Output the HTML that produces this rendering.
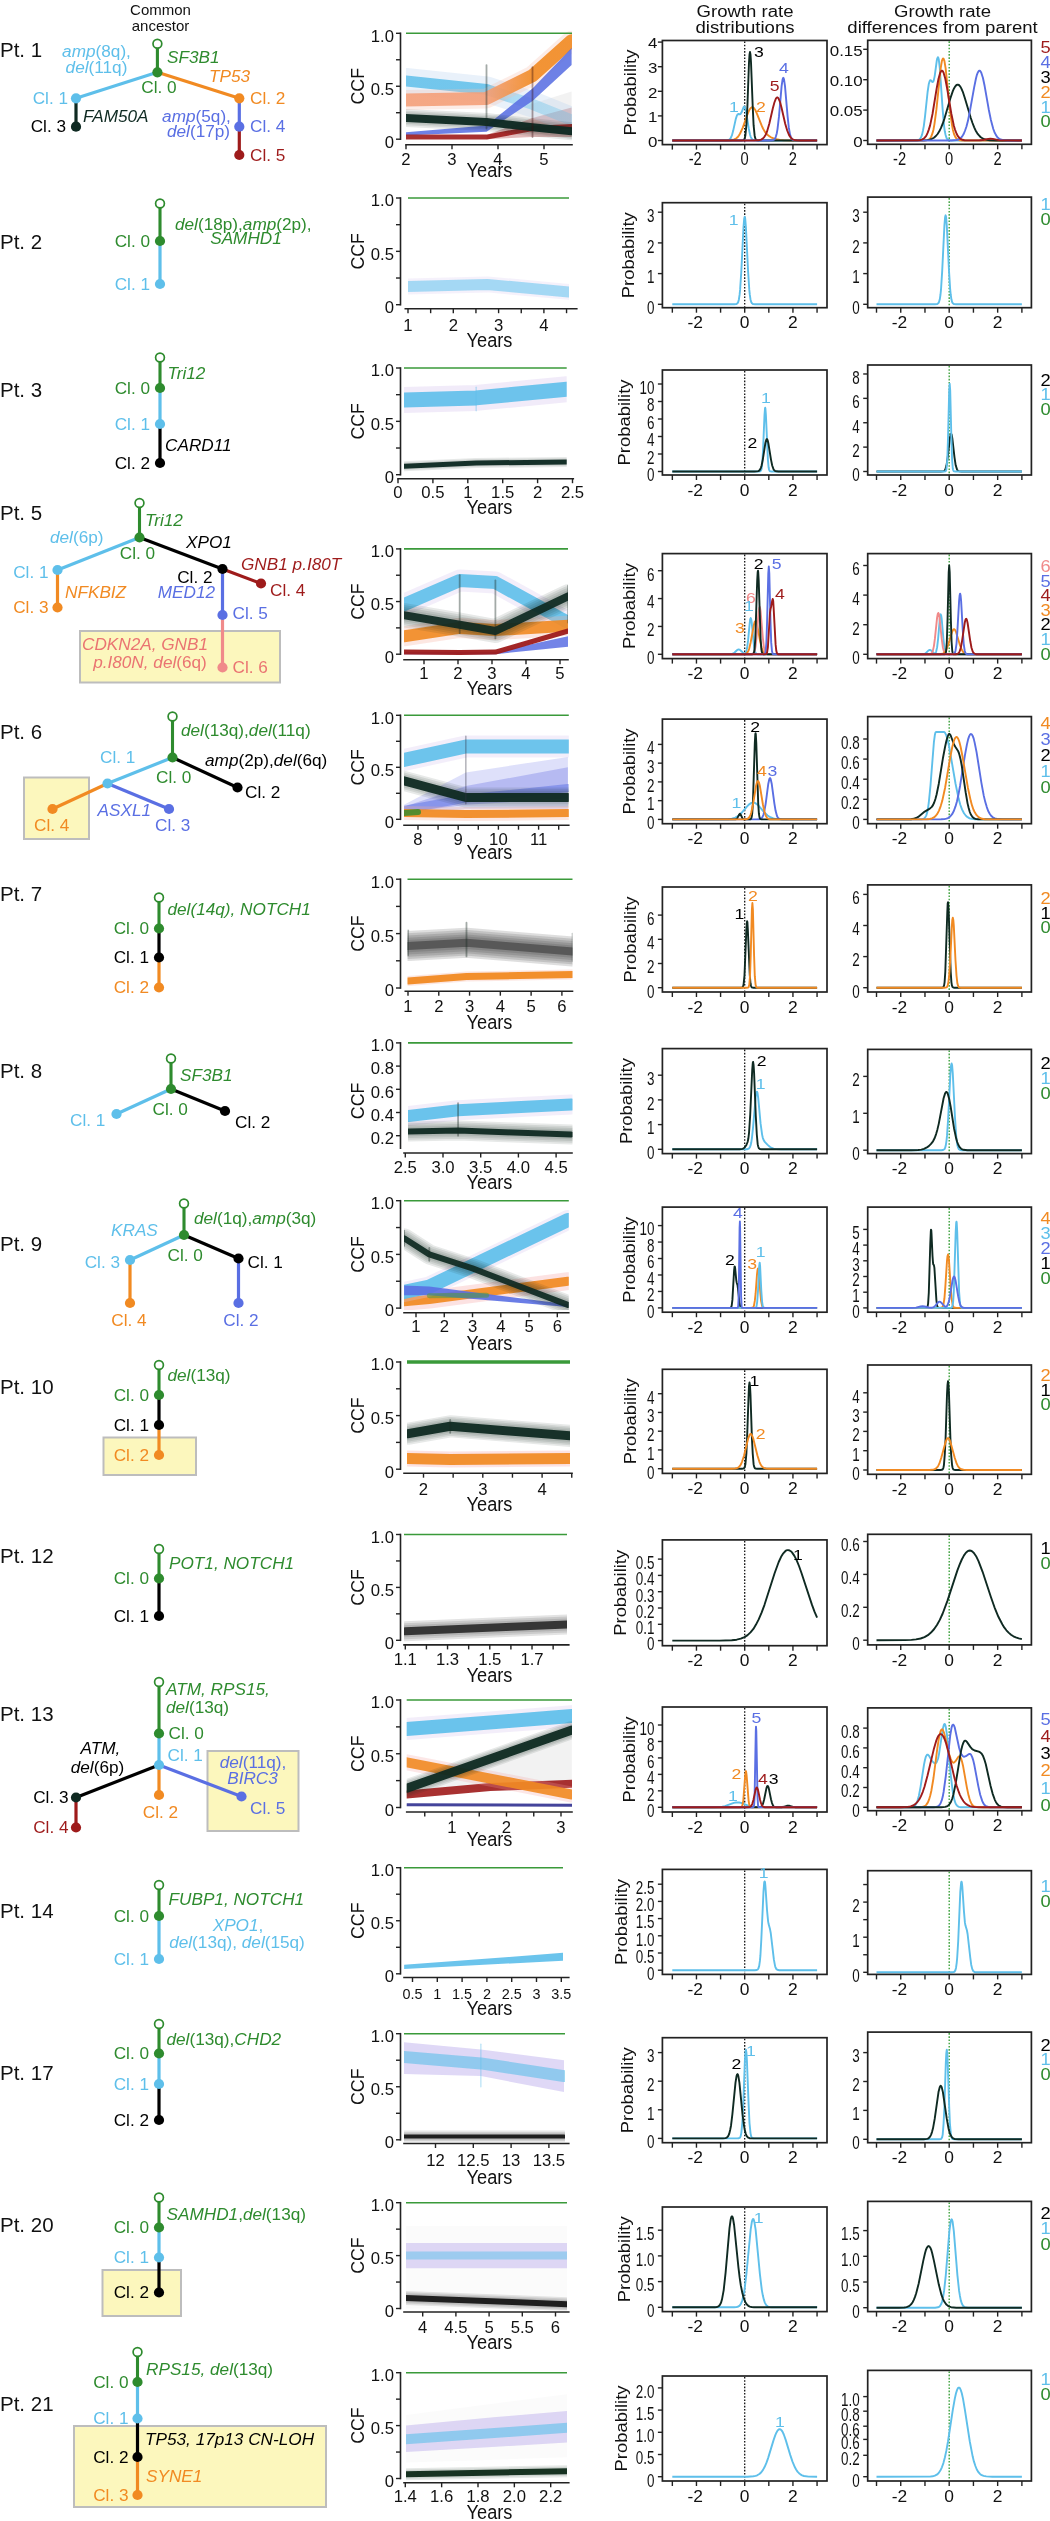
<!DOCTYPE html>
<html><head><meta charset="utf-8"><style>
html,body{margin:0;padding:0;background:#fff;}
svg{display:block;font-family:"Liberation Sans", sans-serif;filter:blur(0.4px);}
</style></head><body>
<svg width="1050" height="2521" viewBox="0 0 1050 2521">
<rect width="1050" height="2521" fill="#fff"/>
<text transform="translate(160.50,15.00) " font-size="15.00" fill="#111" text-anchor="middle">Common</text>
<text transform="translate(160.50,30.50) " font-size="15.00" fill="#111" text-anchor="middle">ancestor</text>
<text transform="translate(745.00,16.50) scale(1.160,1.000)" font-size="16.00" fill="#111" text-anchor="middle">Growth rate</text>
<text transform="translate(745.00,33.00) scale(1.160,1.000)" font-size="16.00" fill="#111" text-anchor="middle">distributions</text>
<text transform="translate(942.50,16.50) scale(1.160,1.000)" font-size="16.00" fill="#111" text-anchor="middle">Growth rate</text>
<text transform="translate(942.50,33.00) scale(1.160,1.000)" font-size="16.00" fill="#111" text-anchor="middle">differences from parent</text>
<text transform="translate(0.00,57.00) " font-size="20.50" fill="#111" text-anchor="start">Pt. 1</text>
<line x1="157.40" y1="47.70" x2="157.40" y2="72.30" stroke="#2e8b2e" stroke-width="3.10"/>
<line x1="157.40" y1="72.30" x2="76.00" y2="98.30" stroke="#5ebfea" stroke-width="3.20"/>
<line x1="157.40" y1="72.30" x2="239.30" y2="98.30" stroke="#f18a22" stroke-width="3.20"/>
<line x1="76.00" y1="98.30" x2="76.00" y2="126.70" stroke="#0f2a22" stroke-width="3.20"/>
<line x1="239.30" y1="98.30" x2="239.30" y2="126.70" stroke="#5a6fe3" stroke-width="3.20"/>
<line x1="239.30" y1="126.70" x2="239.30" y2="155.00" stroke="#9e1b1b" stroke-width="3.20"/>
<circle cx="157.40" cy="43.70" r="4.4" fill="#fff" stroke="#2e8b2e" stroke-width="1.7"/>
<circle cx="157.40" cy="72.30" r="5.1" fill="#2e8b2e"/>
<circle cx="76.00" cy="98.30" r="5.1" fill="#5ebfea"/>
<circle cx="76.00" cy="126.70" r="5.1" fill="#0f2a22"/>
<circle cx="239.30" cy="98.30" r="5.1" fill="#f18a22"/>
<circle cx="239.30" cy="126.70" r="5.1" fill="#5a6fe3"/>
<circle cx="239.30" cy="155.00" r="5.1" fill="#9e1b1b"/>
<text transform="translate(159.00,93.30) " font-size="17.20" fill="#2e8b2e" text-anchor="middle">Cl. 0</text>
<text transform="translate(68.00,104.00) " font-size="17.20" fill="#5ebfea" text-anchor="end">Cl. 1</text>
<text transform="translate(66.00,132.40) " font-size="17.20" fill="#000000" text-anchor="end">Cl. 3</text>
<text transform="translate(250.00,104.00) " font-size="17.20" fill="#f18a22" text-anchor="start">Cl. 2</text>
<text transform="translate(250.00,132.40) " font-size="17.20" fill="#5a6fe3" text-anchor="start">Cl. 4</text>
<text transform="translate(250.00,160.70) " font-size="17.20" fill="#9e1b1b" text-anchor="start">Cl. 5</text>
<text transform="translate(96.50,57.30) " font-size="17.20" fill="#5ebfea" text-anchor="middle"><tspan font-style="italic">amp</tspan>(8q),</text>
<text transform="translate(96.50,72.70) " font-size="17.20" fill="#5ebfea" text-anchor="middle"><tspan font-style="italic">del</tspan>(11q)</text>
<text transform="translate(167.00,63.30) " font-size="17.20" fill="#2e8b2e" text-anchor="start"><tspan font-style="italic">SF3B1</tspan></text>
<text transform="translate(209.00,81.70) " font-size="17.20" fill="#f18a22" text-anchor="start"><tspan font-style="italic">TP53</tspan></text>
<text transform="translate(83.00,121.70) " font-size="17.20" fill="#0f2a22" text-anchor="start"><tspan font-style="italic">FAM50A</tspan></text>
<text transform="translate(196.50,122.30) " font-size="17.20" fill="#5a6fe3" text-anchor="middle"><tspan font-style="italic">amp</tspan>(5q),</text>
<text transform="translate(198.50,137.30) " font-size="17.20" fill="#5a6fe3" text-anchor="middle"><tspan font-style="italic">del</tspan>(17p)</text>
<clipPath id="cp1"><rect x="406.0" y="21.3" width="166.0" height="119.9"/></clipPath>
<g clip-path="url(#cp1)">
<polygon points="486.5,118.0 571.6,91.5 571.6,139.2 486.5,125.4" fill="#444" fill-opacity="0.070"/>
<polygon points="486.5,135.0 532.5,118.0 571.6,107.4 571.6,137.1 532.5,137.1 486.5,139.2" fill="#9e1b1b" fill-opacity="0.300"/>
<polyline points="406.0,81.0 486.5,89.4 532.5,104.3 571.6,120.1" fill="none" stroke="#c0d8f0" stroke-width="26.00" stroke-opacity="0.350" stroke-linejoin="round" stroke-linecap="round"/>
<linearGradient id="g1" gradientUnits="userSpaceOnUse" x1="406.0" y1="0" x2="571.6" y2="0"><stop offset="0.000" stop-color="#5ebfea" stop-opacity="1.000"/><stop offset="0.486" stop-color="#5ebfea" stop-opacity="1.000"/><stop offset="0.639" stop-color="#5ebfea" stop-opacity="0.500"/><stop offset="1.000" stop-color="#5ebfea" stop-opacity="0.350"/></linearGradient>
<polyline points="406.0,81.0 486.5,89.4 532.5,104.3 571.6,120.1" fill="none" stroke="url(#g1)" stroke-width="11.00" stroke-opacity="0.850" stroke-linejoin="round" stroke-linecap="round"/>
<polyline points="406.0,100.0 486.5,98.4 532.5,75.7 571.6,40.7" fill="none" stroke="#f6c0b0" stroke-width="20.00" stroke-opacity="0.300" stroke-linejoin="round" stroke-linecap="round"/>
<linearGradient id="g2" gradientUnits="userSpaceOnUse" x1="406.0" y1="0" x2="571.6" y2="0"><stop offset="0.000" stop-color="#f4a07a" stop-opacity="1.000"/><stop offset="0.486" stop-color="#f4a07a" stop-opacity="1.000"/><stop offset="0.764" stop-color="#f18a22" stop-opacity="1.000"/><stop offset="1.000" stop-color="#f18a22" stop-opacity="1.000"/></linearGradient>
<polyline points="406.0,100.0 486.5,98.4 532.5,75.7 571.6,40.7" fill="none" stroke="url(#g2)" stroke-width="13.00" stroke-opacity="0.900" stroke-linejoin="round" stroke-linecap="round"/>
<polygon points="406.0,132.3 486.5,125.4 532.5,88.4 571.6,48.1 571.6,65.1 532.5,101.1 486.5,131.8 406.0,135.5" fill="#5a6fe3" fill-opacity="0.880"/>
<polyline points="406.0,137.1 486.5,137.1 532.5,128.6 571.6,126.5" fill="none" stroke="#9e1b1b" stroke-width="5.00" stroke-opacity="0.900" stroke-linejoin="round" stroke-linecap="round"/>
<polyline points="406.0,118.0 486.5,122.0 532.5,127.3 571.6,131.3" fill="none" stroke="#0f2a22" stroke-width="18.00" stroke-opacity="0.100" stroke-linejoin="round" stroke-linecap="round"/>
<polyline points="406.0,118.0 486.5,122.0 532.5,127.3 571.6,131.3" fill="none" stroke="#0f2a22" stroke-width="14.67" stroke-opacity="0.100" stroke-linejoin="round" stroke-linecap="round"/>
<polyline points="406.0,118.0 486.5,122.0 532.5,127.3 571.6,131.3" fill="none" stroke="#0f2a22" stroke-width="11.33" stroke-opacity="0.100" stroke-linejoin="round" stroke-linecap="round"/>
<polyline points="406.0,118.0 486.5,122.0 532.5,127.3 571.6,131.3" fill="none" stroke="#0f2a22" stroke-width="8.00" stroke-opacity="0.960" stroke-linejoin="round" stroke-linecap="round"/>
<line x1="486.50" y1="65.07" x2="486.50" y2="128.61" stroke="#1a2a22" stroke-width="1.80" stroke-opacity="0.4" stroke-linecap="round"/>
<line x1="532.50" y1="67.19" x2="532.50" y2="137.08" stroke="#3a1010" stroke-width="1.80" stroke-opacity="0.4" stroke-linecap="round"/>
</g>
<line x1="406.00" y1="33.30" x2="572.00" y2="33.30" stroke="#3a9a3a" stroke-width="1.60"/>
<line x1="400.50" y1="32.50" x2="400.50" y2="140.00" stroke="#222" stroke-width="1.60"/>
<line x1="396.00" y1="33.30" x2="400.50" y2="33.30" stroke="#222" stroke-width="1.40"/>
<text transform="translate(394.00,41.60) scale(1.070,1.000)" font-size="15.60" fill="#111" text-anchor="end">1.0</text>
<line x1="396.00" y1="59.77" x2="400.50" y2="59.77" stroke="#222" stroke-width="1.40"/>
<line x1="396.00" y1="86.25" x2="400.50" y2="86.25" stroke="#222" stroke-width="1.40"/>
<text transform="translate(394.00,94.55) scale(1.070,1.000)" font-size="15.60" fill="#111" text-anchor="end">0.5</text>
<line x1="396.00" y1="112.72" x2="400.50" y2="112.72" stroke="#222" stroke-width="1.40"/>
<line x1="396.00" y1="139.20" x2="400.50" y2="139.20" stroke="#222" stroke-width="1.40"/>
<text transform="translate(394.00,147.50) scale(1.070,1.000)" font-size="15.60" fill="#111" text-anchor="end">0</text>
<line x1="405.20" y1="144.80" x2="572.80" y2="144.80" stroke="#222" stroke-width="1.60"/>
<line x1="406.00" y1="144.80" x2="406.00" y2="149.30" stroke="#222" stroke-width="1.40"/>
<text transform="translate(406.00,165.00) scale(1.070,1.000)" font-size="15.60" fill="#111" text-anchor="middle">2</text>
<line x1="452.00" y1="144.80" x2="452.00" y2="149.30" stroke="#222" stroke-width="1.40"/>
<text transform="translate(452.00,165.00) scale(1.070,1.000)" font-size="15.60" fill="#111" text-anchor="middle">3</text>
<line x1="498.00" y1="144.80" x2="498.00" y2="149.30" stroke="#222" stroke-width="1.40"/>
<text transform="translate(498.00,165.00) scale(1.070,1.000)" font-size="15.60" fill="#111" text-anchor="middle">4</text>
<line x1="544.00" y1="144.80" x2="544.00" y2="149.30" stroke="#222" stroke-width="1.40"/>
<text transform="translate(544.00,165.00) scale(1.070,1.000)" font-size="15.60" fill="#111" text-anchor="middle">5</text>
<text transform="translate(489.50,176.80) scale(1.070,1.150)" font-size="17.00" fill="#111" text-anchor="middle">Years</text>
<text transform="translate(364.00,86.25) rotate(-90) scale(1.070,1.150)" font-size="16.60" fill="#111" text-anchor="middle">CCF</text>
<line x1="744.70" y1="41.50" x2="744.70" y2="143.60" stroke="#111" stroke-width="1.3" stroke-dasharray="1.6,1.6"/>
<polyline points="672.3,140.5 724.9,140.5 727.3,140.4 728.8,140.0 729.7,139.3 730.5,138.5 731.9,135.4 733.1,131.1 735.8,118.9 737.0,115.3 737.9,114.1 738.4,114.0 739.9,114.2 740.4,114.1 740.8,113.6 741.6,112.3 743.3,107.8 743.7,106.9 744.2,106.5 744.7,106.8 744.9,107.2 745.9,110.5 748.8,128.7 750.0,134.5 750.7,136.8 751.5,138.4 752.2,139.4 753.1,140.0 754.6,140.4 756.8,140.5 817.1,140.5" fill="none" stroke="#5ebfea" stroke-width="1.90" stroke-opacity="1.000" stroke-linejoin="round"/>
<polyline points="672.3,140.5 726.9,140.5 731.4,140.2 734.3,139.4 736.0,138.5 737.5,137.3 738.9,135.5 740.1,133.5 742.8,127.6 746.9,115.9 748.6,111.6 749.5,109.6 750.5,108.2 751.5,107.4 752.2,107.2 752.9,107.3 753.9,108.0 755.6,110.6 757.2,114.3 761.6,125.4 763.0,128.5 764.5,131.1 765.9,133.2 767.4,134.7 769.1,136.1 771.0,137.3 773.6,138.4 776.5,139.2 779.9,139.9 783.5,140.2 791.3,140.5 817.1,140.5" fill="none" stroke="#f18a22" stroke-width="1.90" stroke-opacity="1.000" stroke-linejoin="round"/>
<polyline points="672.3,140.5 741.3,140.5 743.0,140.4 744.0,139.8 744.7,138.5 745.4,135.2 746.4,125.2 747.4,106.1 749.0,62.3 749.5,54.7 750.0,51.9 750.5,54.7 751.0,62.3 752.7,106.1 753.6,125.2 754.6,135.2 755.1,137.7 755.8,139.5 756.8,140.3 758.4,140.5 817.1,140.5" fill="none" stroke="#0f2a22" stroke-width="1.90" stroke-opacity="1.000" stroke-linejoin="round"/>
<polyline points="672.3,140.5 769.5,140.5 772.2,140.4 773.6,139.9 774.9,138.8 775.8,136.8 776.8,133.2 777.5,129.1 779.0,116.4 781.6,86.2 782.6,79.4 783.1,78.0 783.3,77.8 783.5,78.0 784.0,79.4 785.0,86.2 787.6,116.4 788.8,127.4 790.0,134.3 790.8,136.8 791.5,138.4 792.2,139.4 792.9,139.9 794.9,140.4 817.1,140.5" fill="none" stroke="#5a6fe3" stroke-width="1.90" stroke-opacity="1.000" stroke-linejoin="round"/>
<polyline points="672.3,140.5 754.1,140.5 758.4,140.3 761.1,139.6 762.8,138.6 764.2,137.1 765.7,134.7 766.9,131.9 769.3,123.8 772.9,108.0 774.4,102.5 775.8,98.8 776.5,97.8 777.3,97.4 778.0,97.8 778.7,98.8 780.2,102.5 781.6,108.0 785.2,123.8 787.2,130.5 789.1,135.1 791.0,137.9 792.2,139.0 793.4,139.6 794.9,140.1 796.6,140.3 800.7,140.5 817.1,140.5" fill="none" stroke="#9e1b1b" stroke-width="1.90" stroke-opacity="1.000" stroke-linejoin="round"/>
<rect x="662.40" y="40.50" width="164.60" height="104.10" fill="none" stroke="#222" stroke-width="1.7"/>
<line x1="672.34" y1="144.60" x2="672.34" y2="149.60" stroke="#222" stroke-width="1.40"/>
<line x1="696.46" y1="144.60" x2="696.46" y2="149.60" stroke="#222" stroke-width="1.40"/>
<text transform="translate(695.26,165.30) scale(0.980,1.250)" font-size="15.00" fill="#111" text-anchor="middle">-2</text>
<line x1="720.58" y1="144.60" x2="720.58" y2="149.60" stroke="#222" stroke-width="1.40"/>
<line x1="744.70" y1="144.60" x2="744.70" y2="149.60" stroke="#222" stroke-width="1.40"/>
<text transform="translate(744.70,165.30) scale(0.980,1.250)" font-size="15.00" fill="#111" text-anchor="middle">0</text>
<line x1="768.82" y1="144.60" x2="768.82" y2="149.60" stroke="#222" stroke-width="1.40"/>
<line x1="792.94" y1="144.60" x2="792.94" y2="149.60" stroke="#222" stroke-width="1.40"/>
<text transform="translate(792.94,165.30) scale(0.980,1.250)" font-size="15.00" fill="#111" text-anchor="middle">2</text>
<line x1="817.06" y1="144.60" x2="817.06" y2="149.60" stroke="#222" stroke-width="1.40"/>
<line x1="657.90" y1="140.50" x2="662.40" y2="140.50" stroke="#222" stroke-width="1.40"/>
<text transform="translate(657.40,146.70) scale(1.160,1.000)" font-size="14.60" fill="#111" text-anchor="end">0</text>
<line x1="657.90" y1="115.90" x2="662.40" y2="115.90" stroke="#222" stroke-width="1.40"/>
<text transform="translate(657.40,122.10) scale(1.160,1.000)" font-size="14.60" fill="#111" text-anchor="end">1</text>
<line x1="657.90" y1="91.30" x2="662.40" y2="91.30" stroke="#222" stroke-width="1.40"/>
<text transform="translate(657.40,97.50) scale(1.160,1.000)" font-size="14.60" fill="#111" text-anchor="end">2</text>
<line x1="657.90" y1="66.70" x2="662.40" y2="66.70" stroke="#222" stroke-width="1.40"/>
<text transform="translate(657.40,72.90) scale(1.160,1.000)" font-size="14.60" fill="#111" text-anchor="end">3</text>
<line x1="657.90" y1="42.10" x2="662.40" y2="42.10" stroke="#222" stroke-width="1.40"/>
<text transform="translate(657.40,48.30) scale(1.160,1.000)" font-size="14.60" fill="#111" text-anchor="end">4</text>
<text transform="translate(734.00,112.20) scale(1.160,1.000)" font-size="15.20" fill="#5ebfea" text-anchor="middle">1</text>
<text transform="translate(761.00,112.20) scale(1.160,1.000)" font-size="15.20" fill="#f18a22" text-anchor="middle">2</text>
<text transform="translate(758.80,56.60) scale(1.160,1.000)" font-size="15.20" fill="#000000" text-anchor="middle">3</text>
<text transform="translate(784.00,73.40) scale(1.160,1.000)" font-size="15.20" fill="#5a6fe3" text-anchor="middle">4</text>
<text transform="translate(774.60,91.20) scale(1.160,1.000)" font-size="15.20" fill="#9e1b1b" text-anchor="middle">5</text>
<text transform="translate(635.50,92.55) rotate(-90) scale(1.137,1.070)" font-size="16.20" fill="#111" text-anchor="middle">Probability</text>
<line x1="949.20" y1="41.30" x2="949.20" y2="143.30" stroke="#2e9a2e" stroke-width="1.3" stroke-dasharray="1.6,1.6"/>
<polyline points="876.5,140.5 916.0,140.5 917.5,140.3 918.7,140.0 919.6,139.4 920.4,138.5 921.3,136.7 922.1,134.6 923.0,130.4 923.8,126.1 925.0,116.7 927.6,92.0 928.8,83.9 929.6,81.2 930.3,80.1 931.0,80.3 932.2,81.8 932.7,82.0 933.2,81.7 933.7,80.6 934.7,76.1 936.8,60.5 937.3,58.3 937.8,57.3 938.1,57.3 938.3,57.7 938.8,59.6 939.8,68.1 942.7,110.1 944.1,126.1 944.8,131.3 945.6,135.0 946.5,137.9 947.5,139.4 949.0,140.2 951.6,140.5 1021.9,140.5" fill="none" stroke="#5ebfea" stroke-width="1.90" stroke-opacity="1.000" stroke-linejoin="round"/>
<polyline points="876.5,140.5 924.5,140.5 926.4,140.3 927.9,139.9 929.1,139.3 930.1,138.4 931.3,136.4 932.5,133.2 933.5,129.4 934.4,124.3 936.4,109.7 940.7,68.1 941.9,60.9 942.7,58.8 943.1,58.4 943.6,58.8 944.4,60.9 945.6,68.1 949.9,109.7 951.9,124.3 952.8,129.4 954.0,134.0 955.3,136.9 956.5,138.6 957.4,139.4 958.6,140.0 960.1,140.3 962.3,140.5 1021.9,140.5" fill="none" stroke="#f18a22" stroke-width="1.90" stroke-opacity="1.000" stroke-linejoin="round"/>
<polyline points="876.5,140.5 924.0,140.4 927.2,140.1 929.8,139.6 932.0,138.8 933.9,137.7 935.9,136.0 937.6,134.0 939.3,131.3 941.0,127.9 942.7,123.7 944.4,118.8 950.4,98.3 952.8,91.1 954.0,88.4 955.3,86.3 956.5,85.0 957.7,84.6 958.9,85.0 960.1,86.3 961.3,88.4 962.8,91.8 964.9,98.3 970.8,118.0 972.5,123.0 974.2,127.3 975.6,130.4 977.3,133.3 978.8,135.2 980.5,137.0 982.4,138.3 984.3,139.2 986.8,139.9 989.7,140.3 996.4,140.5 1021.9,140.5" fill="none" stroke="#0f2a22" stroke-width="1.90" stroke-opacity="1.000" stroke-linejoin="round"/>
<polyline points="876.5,140.5 951.4,140.5 956.5,140.0 958.4,139.5 959.9,138.7 961.8,136.9 963.5,134.3 964.9,131.0 966.4,126.7 967.9,121.1 969.3,114.3 974.2,87.1 975.9,78.8 976.8,75.1 977.8,72.5 978.8,70.9 979.5,70.6 980.2,70.9 981.2,72.5 982.9,77.8 984.6,85.8 988.7,109.2 990.9,120.0 993.3,129.0 994.5,132.2 996.0,135.1 997.4,137.2 998.9,138.5 1000.6,139.5 1002.5,140.0 1007.4,140.5 1021.9,140.5" fill="none" stroke="#5a6fe3" stroke-width="1.90" stroke-opacity="1.000" stroke-linejoin="round"/>
<polyline points="876.5,140.5 917.5,140.4 919.9,140.1 921.8,139.6 923.3,138.9 924.7,137.7 926.2,135.8 927.6,132.9 928.8,129.6 930.1,125.4 932.5,114.0 936.8,87.7 938.5,78.8 940.2,72.7 941.2,71.0 941.9,70.6 942.7,71.0 943.6,72.7 945.3,78.8 947.0,87.7 951.4,114.0 953.8,125.4 955.0,129.6 956.5,133.5 957.9,136.2 959.6,138.2 961.1,139.2 962.5,139.8 964.5,140.2 967.1,140.4 979.7,140.3 982.9,140.0 988.2,138.9 990.4,138.7 992.8,138.9 998.6,140.1 1001.8,140.4 1021.9,140.5" fill="none" stroke="#9e1b1b" stroke-width="1.90" stroke-opacity="1.000" stroke-linejoin="round"/>
<rect x="867.70" y="40.30" width="163.70" height="104.00" fill="none" stroke="#222" stroke-width="1.7"/>
<line x1="876.51" y1="144.30" x2="876.51" y2="149.30" stroke="#222" stroke-width="1.40"/>
<line x1="900.74" y1="144.30" x2="900.74" y2="149.30" stroke="#222" stroke-width="1.40"/>
<text transform="translate(899.54,165.00) scale(0.980,1.250)" font-size="15.00" fill="#111" text-anchor="middle">-2</text>
<line x1="924.97" y1="144.30" x2="924.97" y2="149.30" stroke="#222" stroke-width="1.40"/>
<line x1="949.20" y1="144.30" x2="949.20" y2="149.30" stroke="#222" stroke-width="1.40"/>
<text transform="translate(949.20,165.00) scale(0.980,1.250)" font-size="15.00" fill="#111" text-anchor="middle">0</text>
<line x1="973.43" y1="144.30" x2="973.43" y2="149.30" stroke="#222" stroke-width="1.40"/>
<line x1="997.66" y1="144.30" x2="997.66" y2="149.30" stroke="#222" stroke-width="1.40"/>
<text transform="translate(997.66,165.00) scale(0.980,1.250)" font-size="15.00" fill="#111" text-anchor="middle">2</text>
<line x1="1021.89" y1="144.30" x2="1021.89" y2="149.30" stroke="#222" stroke-width="1.40"/>
<line x1="863.20" y1="140.50" x2="867.70" y2="140.50" stroke="#222" stroke-width="1.40"/>
<text transform="translate(862.70,146.70) scale(1.160,1.000)" font-size="14.60" fill="#111" text-anchor="end">0</text>
<line x1="863.20" y1="110.10" x2="867.70" y2="110.10" stroke="#222" stroke-width="1.40"/>
<text transform="translate(862.70,116.30) scale(1.160,1.000)" font-size="14.60" fill="#111" text-anchor="end">0.05</text>
<line x1="863.20" y1="79.70" x2="867.70" y2="79.70" stroke="#222" stroke-width="1.40"/>
<text transform="translate(862.70,85.90) scale(1.160,1.000)" font-size="14.60" fill="#111" text-anchor="end">0.10</text>
<line x1="863.20" y1="49.30" x2="867.70" y2="49.30" stroke="#222" stroke-width="1.40"/>
<text transform="translate(862.70,55.50) scale(1.160,1.000)" font-size="14.60" fill="#111" text-anchor="end">0.15</text>
<text transform="translate(1040.50,53.40) scale(1.160,1.050)" font-size="15.80" fill="#9e1b1b" text-anchor="start">5</text>
<text transform="translate(1040.50,68.20) scale(1.160,1.050)" font-size="15.80" fill="#5a6fe3" text-anchor="start">4</text>
<text transform="translate(1040.50,83.00) scale(1.160,1.050)" font-size="15.80" fill="#000000" text-anchor="start">3</text>
<text transform="translate(1040.50,97.80) scale(1.160,1.050)" font-size="15.80" fill="#f18a22" text-anchor="start">2</text>
<text transform="translate(1040.50,112.60) scale(1.160,1.050)" font-size="15.80" fill="#5ebfea" text-anchor="start">1</text>
<text transform="translate(1040.50,127.40) scale(1.160,1.050)" font-size="15.80" fill="#2e8b2e" text-anchor="start">0</text>
<text transform="translate(0.00,249.00) " font-size="20.50" fill="#111" text-anchor="start">Pt. 2</text>
<line x1="160.00" y1="207.50" x2="160.00" y2="241.00" stroke="#2e8b2e" stroke-width="3.10"/>
<line x1="160.00" y1="241.00" x2="160.00" y2="284.00" stroke="#5ebfea" stroke-width="3.20"/>
<circle cx="160.00" cy="203.50" r="4.4" fill="#fff" stroke="#2e8b2e" stroke-width="1.7"/>
<circle cx="160.00" cy="241.00" r="5.1" fill="#2e8b2e"/>
<circle cx="160.00" cy="284.00" r="5.1" fill="#5ebfea"/>
<text transform="translate(150.00,246.70) " font-size="17.20" fill="#2e8b2e" text-anchor="end">Cl. 0</text>
<text transform="translate(150.00,289.70) " font-size="17.20" fill="#5ebfea" text-anchor="end">Cl. 1</text>
<text transform="translate(175.00,230.00) " font-size="17.20" fill="#2e8b2e" text-anchor="start"><tspan font-style="italic">del</tspan>(18p),<tspan font-style="italic">amp</tspan>(2p),</text>
<text transform="translate(246.00,244.00) " font-size="17.20" fill="#2e8b2e" text-anchor="middle"><tspan font-style="italic">SAMHD1</tspan></text>
<clipPath id="cp2"><rect x="408.0" y="186.0" width="161.0" height="120.7"/></clipPath>
<g clip-path="url(#cp2)">
<polyline points="408.0,286.6 487.3,284.4 568.8,291.9" fill="none" stroke="#d8c8ee" stroke-width="16.00" stroke-opacity="0.250" stroke-linejoin="round" stroke-linecap="round"/>
<polyline points="408.0,286.6 487.3,284.4 568.8,291.9" fill="none" stroke="#9fd6f3" stroke-width="11.00" stroke-opacity="0.950" stroke-linejoin="round" stroke-linecap="round"/>
</g>
<line x1="408.00" y1="198.00" x2="569.00" y2="198.00" stroke="#3a9a3a" stroke-width="1.60"/>
<line x1="400.50" y1="197.20" x2="400.50" y2="305.50" stroke="#222" stroke-width="1.60"/>
<line x1="396.00" y1="198.00" x2="400.50" y2="198.00" stroke="#222" stroke-width="1.40"/>
<text transform="translate(394.00,206.30) scale(1.070,1.000)" font-size="15.60" fill="#111" text-anchor="end">1.0</text>
<line x1="396.00" y1="224.68" x2="400.50" y2="224.68" stroke="#222" stroke-width="1.40"/>
<line x1="396.00" y1="251.35" x2="400.50" y2="251.35" stroke="#222" stroke-width="1.40"/>
<text transform="translate(394.00,259.65) scale(1.070,1.000)" font-size="15.60" fill="#111" text-anchor="end">0.5</text>
<line x1="396.00" y1="278.02" x2="400.50" y2="278.02" stroke="#222" stroke-width="1.40"/>
<line x1="396.00" y1="304.70" x2="400.50" y2="304.70" stroke="#222" stroke-width="1.40"/>
<text transform="translate(394.00,313.00) scale(1.070,1.000)" font-size="15.60" fill="#111" text-anchor="end">0</text>
<line x1="404.50" y1="308.70" x2="577.60" y2="308.70" stroke="#222" stroke-width="1.60"/>
<line x1="408.00" y1="308.70" x2="408.00" y2="313.20" stroke="#222" stroke-width="1.40"/>
<text transform="translate(408.00,330.50) scale(1.070,1.000)" font-size="15.60" fill="#111" text-anchor="middle">1</text>
<line x1="453.30" y1="308.70" x2="453.30" y2="313.20" stroke="#222" stroke-width="1.40"/>
<text transform="translate(453.30,330.50) scale(1.070,1.000)" font-size="15.60" fill="#111" text-anchor="middle">2</text>
<line x1="498.60" y1="308.70" x2="498.60" y2="313.20" stroke="#222" stroke-width="1.40"/>
<text transform="translate(498.60,330.50) scale(1.070,1.000)" font-size="15.60" fill="#111" text-anchor="middle">3</text>
<line x1="543.90" y1="308.70" x2="543.90" y2="313.20" stroke="#222" stroke-width="1.40"/>
<text transform="translate(543.90,330.50) scale(1.070,1.000)" font-size="15.60" fill="#111" text-anchor="middle">4</text>
<line x1="430.65" y1="308.70" x2="430.65" y2="313.20" stroke="#222" stroke-width="1.40"/>
<line x1="475.95" y1="308.70" x2="475.95" y2="313.20" stroke="#222" stroke-width="1.40"/>
<line x1="521.25" y1="308.70" x2="521.25" y2="313.20" stroke="#222" stroke-width="1.40"/>
<line x1="566.55" y1="308.70" x2="566.55" y2="313.20" stroke="#222" stroke-width="1.40"/>
<text transform="translate(489.50,346.80) scale(1.070,1.150)" font-size="17.00" fill="#111" text-anchor="middle">Years</text>
<text transform="translate(364.00,251.35) rotate(-90) scale(1.070,1.150)" font-size="16.60" fill="#111" text-anchor="middle">CCF</text>
<line x1="744.70" y1="203.70" x2="744.70" y2="306.70" stroke="#111" stroke-width="1.3" stroke-dasharray="1.6,1.6"/>
<polyline points="672.3,304.3 734.3,304.3 736.3,304.1 737.5,303.3 738.2,302.0 738.9,299.4 739.6,294.7 740.1,289.9 741.3,271.5 743.5,227.1 744.2,218.5 744.7,216.8 745.2,218.5 745.9,227.1 748.1,271.5 749.3,289.9 749.8,294.7 750.5,299.4 751.2,302.0 751.9,303.3 753.1,304.1 755.1,304.3 817.1,304.3" fill="none" stroke="#5ebfea" stroke-width="1.90" stroke-opacity="1.000" stroke-linejoin="round"/>
<rect x="662.40" y="202.70" width="164.60" height="105.00" fill="none" stroke="#222" stroke-width="1.7"/>
<line x1="672.34" y1="307.70" x2="672.34" y2="312.70" stroke="#222" stroke-width="1.40"/>
<line x1="696.46" y1="307.70" x2="696.46" y2="312.70" stroke="#222" stroke-width="1.40"/>
<text transform="translate(695.26,328.40) scale(1.160,1.120)" font-size="15.00" fill="#111" text-anchor="middle">-2</text>
<line x1="720.58" y1="307.70" x2="720.58" y2="312.70" stroke="#222" stroke-width="1.40"/>
<line x1="744.70" y1="307.70" x2="744.70" y2="312.70" stroke="#222" stroke-width="1.40"/>
<text transform="translate(744.70,328.40) scale(1.160,1.120)" font-size="15.00" fill="#111" text-anchor="middle">0</text>
<line x1="768.82" y1="307.70" x2="768.82" y2="312.70" stroke="#222" stroke-width="1.40"/>
<line x1="792.94" y1="307.70" x2="792.94" y2="312.70" stroke="#222" stroke-width="1.40"/>
<text transform="translate(792.94,328.40) scale(1.160,1.120)" font-size="15.00" fill="#111" text-anchor="middle">2</text>
<line x1="817.06" y1="307.70" x2="817.06" y2="312.70" stroke="#222" stroke-width="1.40"/>
<line x1="657.90" y1="304.30" x2="662.40" y2="304.30" stroke="#222" stroke-width="1.40"/>
<text transform="translate(654.40,314.10) scale(0.920,1.280)" font-size="14.60" fill="#111" text-anchor="end">0</text>
<line x1="657.90" y1="273.60" x2="662.40" y2="273.60" stroke="#222" stroke-width="1.40"/>
<text transform="translate(654.40,283.40) scale(0.920,1.280)" font-size="14.60" fill="#111" text-anchor="end">1</text>
<line x1="657.90" y1="242.90" x2="662.40" y2="242.90" stroke="#222" stroke-width="1.40"/>
<text transform="translate(654.40,252.70) scale(0.920,1.280)" font-size="14.60" fill="#111" text-anchor="end">2</text>
<line x1="657.90" y1="212.20" x2="662.40" y2="212.20" stroke="#222" stroke-width="1.40"/>
<text transform="translate(654.40,222.00) scale(0.920,1.280)" font-size="14.60" fill="#111" text-anchor="end">3</text>
<text transform="translate(733.70,225.00) scale(1.160,1.000)" font-size="15.20" fill="#5ebfea" text-anchor="middle">1</text>
<text transform="translate(634.00,255.20) rotate(-90) scale(1.137,1.070)" font-size="16.20" fill="#111" text-anchor="middle">Probability</text>
<line x1="949.20" y1="198.10" x2="949.20" y2="306.70" stroke="#2e9a2e" stroke-width="1.3" stroke-dasharray="1.6,1.6"/>
<polyline points="876.5,304.3 935.1,304.3 937.1,304.1 938.3,303.3 939.0,302.0 939.8,299.3 940.5,294.5 941.0,289.7 942.2,270.9 944.4,225.7 945.1,217.0 945.6,215.3 946.1,217.0 946.8,225.7 949.0,270.9 950.2,289.7 950.7,294.5 951.4,299.3 952.1,302.0 952.8,303.3 954.0,304.1 956.0,304.3 1021.9,304.3" fill="none" stroke="#5ebfea" stroke-width="1.90" stroke-opacity="1.000" stroke-linejoin="round"/>
<rect x="867.70" y="197.10" width="163.70" height="110.60" fill="none" stroke="#222" stroke-width="1.7"/>
<line x1="876.51" y1="307.70" x2="876.51" y2="312.70" stroke="#222" stroke-width="1.40"/>
<line x1="900.74" y1="307.70" x2="900.74" y2="312.70" stroke="#222" stroke-width="1.40"/>
<text transform="translate(899.54,328.40) scale(1.160,1.120)" font-size="15.00" fill="#111" text-anchor="middle">-2</text>
<line x1="924.97" y1="307.70" x2="924.97" y2="312.70" stroke="#222" stroke-width="1.40"/>
<line x1="949.20" y1="307.70" x2="949.20" y2="312.70" stroke="#222" stroke-width="1.40"/>
<text transform="translate(949.20,328.40) scale(1.160,1.120)" font-size="15.00" fill="#111" text-anchor="middle">0</text>
<line x1="973.43" y1="307.70" x2="973.43" y2="312.70" stroke="#222" stroke-width="1.40"/>
<line x1="997.66" y1="307.70" x2="997.66" y2="312.70" stroke="#222" stroke-width="1.40"/>
<text transform="translate(997.66,328.40) scale(1.160,1.120)" font-size="15.00" fill="#111" text-anchor="middle">2</text>
<line x1="1021.89" y1="307.70" x2="1021.89" y2="312.70" stroke="#222" stroke-width="1.40"/>
<line x1="863.20" y1="304.30" x2="867.70" y2="304.30" stroke="#222" stroke-width="1.40"/>
<text transform="translate(859.70,314.10) scale(0.920,1.280)" font-size="14.60" fill="#111" text-anchor="end">0</text>
<line x1="863.20" y1="273.60" x2="867.70" y2="273.60" stroke="#222" stroke-width="1.40"/>
<text transform="translate(859.70,283.40) scale(0.920,1.280)" font-size="14.60" fill="#111" text-anchor="end">1</text>
<line x1="863.20" y1="242.90" x2="867.70" y2="242.90" stroke="#222" stroke-width="1.40"/>
<text transform="translate(859.70,252.70) scale(0.920,1.280)" font-size="14.60" fill="#111" text-anchor="end">2</text>
<line x1="863.20" y1="212.20" x2="867.70" y2="212.20" stroke="#222" stroke-width="1.40"/>
<text transform="translate(859.70,222.00) scale(0.920,1.280)" font-size="14.60" fill="#111" text-anchor="end">3</text>
<text transform="translate(1040.50,210.10) scale(1.160,1.050)" font-size="15.80" fill="#5ebfea" text-anchor="start">1</text>
<text transform="translate(1040.50,225.10) scale(1.160,1.050)" font-size="15.80" fill="#2e8b2e" text-anchor="start">0</text>
<text transform="translate(0.00,397.00) " font-size="20.50" fill="#111" text-anchor="start">Pt. 3</text>
<line x1="160.00" y1="361.50" x2="160.00" y2="388.00" stroke="#2e8b2e" stroke-width="3.10"/>
<line x1="160.00" y1="388.00" x2="160.00" y2="424.00" stroke="#5ebfea" stroke-width="3.20"/>
<line x1="160.00" y1="424.00" x2="160.00" y2="463.00" stroke="#000000" stroke-width="3.20"/>
<circle cx="160.00" cy="357.50" r="4.4" fill="#fff" stroke="#2e8b2e" stroke-width="1.7"/>
<circle cx="160.00" cy="388.00" r="5.1" fill="#2e8b2e"/>
<circle cx="160.00" cy="424.00" r="5.1" fill="#5ebfea"/>
<circle cx="160.00" cy="463.00" r="5.1" fill="#000000"/>
<text transform="translate(150.00,393.70) " font-size="17.20" fill="#2e8b2e" text-anchor="end">Cl. 0</text>
<text transform="translate(150.00,429.70) " font-size="17.20" fill="#5ebfea" text-anchor="end">Cl. 1</text>
<text transform="translate(150.00,468.70) " font-size="17.20" fill="#000000" text-anchor="end">Cl. 2</text>
<text transform="translate(167.50,379.00) " font-size="17.20" fill="#2e8b2e" text-anchor="start"><tspan font-style="italic">Tri12</tspan></text>
<text transform="translate(165.00,451.00) " font-size="17.20" fill="#000000" text-anchor="start"><tspan font-style="italic">CARD11</tspan></text>
<clipPath id="cp3"><rect x="404.0" y="356.0" width="162.7" height="120.7"/></clipPath>
<g clip-path="url(#cp3)">
<polyline points="404.3,400.0 476.2,397.9 566.9,389.3" fill="none" stroke="#d6c6ee" stroke-width="26.00" stroke-opacity="0.350" stroke-linejoin="round" stroke-linecap="round"/>
<polyline points="404.3,400.0 476.2,397.9 566.9,389.3" fill="none" stroke="#5ebfea" stroke-width="15.00" stroke-opacity="0.900" stroke-linejoin="round" stroke-linecap="round"/>
<polyline points="404.3,466.2 476.2,463.0 566.9,461.9" fill="none" stroke="#0f2a22" stroke-width="10.00" stroke-opacity="0.100" stroke-linejoin="round" stroke-linecap="round"/>
<polyline points="404.3,466.2 476.2,463.0 566.9,461.9" fill="none" stroke="#0f2a22" stroke-width="7.50" stroke-opacity="0.100" stroke-linejoin="round" stroke-linecap="round"/>
<polyline points="404.3,466.2 476.2,463.0 566.9,461.9" fill="none" stroke="#0f2a22" stroke-width="5.00" stroke-opacity="0.960" stroke-linejoin="round" stroke-linecap="round"/>
<line x1="476.18" y1="387.21" x2="476.18" y2="410.68" stroke="#5ebfea" stroke-width="1.40" stroke-opacity="0.4" stroke-linecap="round"/>
</g>
<line x1="404.00" y1="368.00" x2="566.70" y2="368.00" stroke="#3a9a3a" stroke-width="1.60"/>
<line x1="400.50" y1="367.20" x2="400.50" y2="475.50" stroke="#222" stroke-width="1.60"/>
<line x1="396.00" y1="368.00" x2="400.50" y2="368.00" stroke="#222" stroke-width="1.40"/>
<text transform="translate(394.00,376.30) scale(1.070,1.000)" font-size="15.60" fill="#111" text-anchor="end">1.0</text>
<line x1="396.00" y1="394.68" x2="400.50" y2="394.68" stroke="#222" stroke-width="1.40"/>
<line x1="396.00" y1="421.35" x2="400.50" y2="421.35" stroke="#222" stroke-width="1.40"/>
<text transform="translate(394.00,429.65) scale(1.070,1.000)" font-size="15.60" fill="#111" text-anchor="end">0.5</text>
<line x1="396.00" y1="448.02" x2="400.50" y2="448.02" stroke="#222" stroke-width="1.40"/>
<line x1="396.00" y1="474.70" x2="400.50" y2="474.70" stroke="#222" stroke-width="1.40"/>
<text transform="translate(394.00,483.00) scale(1.070,1.000)" font-size="15.60" fill="#111" text-anchor="end">0</text>
<line x1="397.20" y1="478.70" x2="574.10" y2="478.70" stroke="#222" stroke-width="1.60"/>
<line x1="398.00" y1="478.70" x2="398.00" y2="483.20" stroke="#222" stroke-width="1.40"/>
<text transform="translate(398.00,498.30) scale(1.070,1.000)" font-size="15.60" fill="#111" text-anchor="middle">0</text>
<line x1="432.90" y1="478.70" x2="432.90" y2="483.20" stroke="#222" stroke-width="1.40"/>
<text transform="translate(432.90,498.30) scale(1.070,1.000)" font-size="15.60" fill="#111" text-anchor="middle">0.5</text>
<line x1="467.80" y1="478.70" x2="467.80" y2="483.20" stroke="#222" stroke-width="1.40"/>
<text transform="translate(467.80,498.30) scale(1.070,1.000)" font-size="15.60" fill="#111" text-anchor="middle">1</text>
<line x1="502.70" y1="478.70" x2="502.70" y2="483.20" stroke="#222" stroke-width="1.40"/>
<text transform="translate(502.70,498.30) scale(1.070,1.000)" font-size="15.60" fill="#111" text-anchor="middle">1.5</text>
<line x1="537.60" y1="478.70" x2="537.60" y2="483.20" stroke="#222" stroke-width="1.40"/>
<text transform="translate(537.60,498.30) scale(1.070,1.000)" font-size="15.60" fill="#111" text-anchor="middle">2</text>
<line x1="572.50" y1="478.70" x2="572.50" y2="483.20" stroke="#222" stroke-width="1.40"/>
<text transform="translate(572.50,498.30) scale(1.070,1.000)" font-size="15.60" fill="#111" text-anchor="middle">2.5</text>
<text transform="translate(489.50,513.80) scale(1.070,1.150)" font-size="17.00" fill="#111" text-anchor="middle">Years</text>
<text transform="translate(364.00,421.35) rotate(-90) scale(1.070,1.150)" font-size="16.60" fill="#111" text-anchor="middle">CCF</text>
<line x1="744.70" y1="371.00" x2="744.70" y2="474.00" stroke="#111" stroke-width="1.3" stroke-dasharray="1.6,1.6"/>
<polyline points="672.3,471.5 758.4,471.5 760.4,471.3 761.1,470.3 761.6,468.7 762.3,462.9 763.0,450.8 764.5,415.1 765.0,408.5 765.2,407.6 765.4,408.5 765.9,415.1 767.9,459.6 768.6,467.3 769.1,469.7 769.5,470.8 770.3,471.4 771.5,471.5 817.1,471.5" fill="none" stroke="#5ebfea" stroke-width="1.90" stroke-opacity="1.000" stroke-linejoin="round"/>
<polyline points="672.3,471.5 754.3,471.5 756.8,471.4 758.2,471.1 759.2,470.6 760.1,469.4 760.9,467.8 761.6,465.5 762.8,459.6 765.4,442.9 766.2,440.1 766.6,439.2 766.9,439.1 767.1,439.2 767.6,440.1 768.3,442.9 771.0,459.6 772.2,465.5 773.4,468.9 774.1,470.1 774.9,470.8 776.3,471.3 778.5,471.5 817.1,471.5" fill="none" stroke="#0f2a22" stroke-width="1.90" stroke-opacity="1.000" stroke-linejoin="round"/>
<rect x="662.40" y="370.00" width="164.60" height="105.00" fill="none" stroke="#222" stroke-width="1.7"/>
<line x1="672.34" y1="475.00" x2="672.34" y2="480.00" stroke="#222" stroke-width="1.40"/>
<line x1="696.46" y1="475.00" x2="696.46" y2="480.00" stroke="#222" stroke-width="1.40"/>
<text transform="translate(695.26,495.70) scale(1.160,1.120)" font-size="15.00" fill="#111" text-anchor="middle">-2</text>
<line x1="720.58" y1="475.00" x2="720.58" y2="480.00" stroke="#222" stroke-width="1.40"/>
<line x1="744.70" y1="475.00" x2="744.70" y2="480.00" stroke="#222" stroke-width="1.40"/>
<text transform="translate(744.70,495.70) scale(1.160,1.120)" font-size="15.00" fill="#111" text-anchor="middle">0</text>
<line x1="768.82" y1="475.00" x2="768.82" y2="480.00" stroke="#222" stroke-width="1.40"/>
<line x1="792.94" y1="475.00" x2="792.94" y2="480.00" stroke="#222" stroke-width="1.40"/>
<text transform="translate(792.94,495.70) scale(1.160,1.120)" font-size="15.00" fill="#111" text-anchor="middle">2</text>
<line x1="817.06" y1="475.00" x2="817.06" y2="480.00" stroke="#222" stroke-width="1.40"/>
<line x1="657.90" y1="471.50" x2="662.40" y2="471.50" stroke="#222" stroke-width="1.40"/>
<text transform="translate(654.40,481.30) scale(0.920,1.280)" font-size="14.60" fill="#111" text-anchor="end">0</text>
<line x1="657.90" y1="454.00" x2="662.40" y2="454.00" stroke="#222" stroke-width="1.40"/>
<text transform="translate(654.40,463.80) scale(0.920,1.280)" font-size="14.60" fill="#111" text-anchor="end">2</text>
<line x1="657.90" y1="436.50" x2="662.40" y2="436.50" stroke="#222" stroke-width="1.40"/>
<text transform="translate(654.40,446.30) scale(0.920,1.280)" font-size="14.60" fill="#111" text-anchor="end">4</text>
<line x1="657.90" y1="419.00" x2="662.40" y2="419.00" stroke="#222" stroke-width="1.40"/>
<text transform="translate(654.40,428.80) scale(0.920,1.280)" font-size="14.60" fill="#111" text-anchor="end">6</text>
<line x1="657.90" y1="401.50" x2="662.40" y2="401.50" stroke="#222" stroke-width="1.40"/>
<text transform="translate(654.40,411.30) scale(0.920,1.280)" font-size="14.60" fill="#111" text-anchor="end">8</text>
<line x1="657.90" y1="384.00" x2="662.40" y2="384.00" stroke="#222" stroke-width="1.40"/>
<text transform="translate(654.40,393.80) scale(0.920,1.280)" font-size="14.60" fill="#111" text-anchor="end">10</text>
<text transform="translate(766.00,402.50) scale(1.160,1.000)" font-size="15.20" fill="#5ebfea" text-anchor="middle">1</text>
<text transform="translate(752.50,447.50) scale(1.160,1.000)" font-size="15.20" fill="#000000" text-anchor="middle">2</text>
<text transform="translate(630.00,422.50) rotate(-90) scale(1.137,1.070)" font-size="16.20" fill="#111" text-anchor="middle">Probability</text>
<line x1="949.20" y1="366.00" x2="949.20" y2="474.00" stroke="#2e9a2e" stroke-width="1.3" stroke-dasharray="1.6,1.6"/>
<polyline points="876.5,471.5 940.7,471.5 942.7,471.4 943.9,471.1 944.6,470.5 945.3,469.4 946.5,465.3 947.7,457.3 949.9,438.2 950.7,434.5 951.1,433.7 951.6,434.5 952.3,438.2 954.5,457.3 955.7,465.3 957.0,469.4 957.7,470.5 958.4,471.1 959.6,471.4 961.6,471.5 1021.9,471.5" fill="none" stroke="#0f2a22" stroke-width="1.90" stroke-opacity="1.000" stroke-linejoin="round"/>
<polyline points="876.5,471.5 944.1,471.5 945.3,471.4 945.8,471.0 946.3,469.8 946.5,468.5 947.3,459.6 948.0,438.6 949.2,390.5 949.7,383.7 950.2,390.5 951.4,438.6 952.1,459.6 952.8,468.5 953.1,469.8 953.6,471.0 954.0,471.4 955.3,471.5 1021.9,471.5" fill="none" stroke="#5ebfea" stroke-width="1.90" stroke-opacity="1.000" stroke-linejoin="round"/>
<rect x="867.70" y="365.00" width="163.70" height="110.00" fill="none" stroke="#222" stroke-width="1.7"/>
<line x1="876.51" y1="475.00" x2="876.51" y2="480.00" stroke="#222" stroke-width="1.40"/>
<line x1="900.74" y1="475.00" x2="900.74" y2="480.00" stroke="#222" stroke-width="1.40"/>
<text transform="translate(899.54,495.70) scale(1.160,1.120)" font-size="15.00" fill="#111" text-anchor="middle">-2</text>
<line x1="924.97" y1="475.00" x2="924.97" y2="480.00" stroke="#222" stroke-width="1.40"/>
<line x1="949.20" y1="475.00" x2="949.20" y2="480.00" stroke="#222" stroke-width="1.40"/>
<text transform="translate(949.20,495.70) scale(1.160,1.120)" font-size="15.00" fill="#111" text-anchor="middle">0</text>
<line x1="973.43" y1="475.00" x2="973.43" y2="480.00" stroke="#222" stroke-width="1.40"/>
<line x1="997.66" y1="475.00" x2="997.66" y2="480.00" stroke="#222" stroke-width="1.40"/>
<text transform="translate(997.66,495.70) scale(1.160,1.120)" font-size="15.00" fill="#111" text-anchor="middle">2</text>
<line x1="1021.89" y1="475.00" x2="1021.89" y2="480.00" stroke="#222" stroke-width="1.40"/>
<line x1="863.20" y1="471.50" x2="867.70" y2="471.50" stroke="#222" stroke-width="1.40"/>
<text transform="translate(859.70,481.30) scale(0.920,1.280)" font-size="14.60" fill="#111" text-anchor="end">0</text>
<line x1="863.20" y1="447.12" x2="867.70" y2="447.12" stroke="#222" stroke-width="1.40"/>
<text transform="translate(859.70,456.92) scale(0.920,1.280)" font-size="14.60" fill="#111" text-anchor="end">2</text>
<line x1="863.20" y1="422.74" x2="867.70" y2="422.74" stroke="#222" stroke-width="1.40"/>
<text transform="translate(859.70,432.54) scale(0.920,1.280)" font-size="14.60" fill="#111" text-anchor="end">4</text>
<line x1="863.20" y1="398.36" x2="867.70" y2="398.36" stroke="#222" stroke-width="1.40"/>
<text transform="translate(859.70,408.16) scale(0.920,1.280)" font-size="14.60" fill="#111" text-anchor="end">6</text>
<line x1="863.20" y1="373.98" x2="867.70" y2="373.98" stroke="#222" stroke-width="1.40"/>
<text transform="translate(859.70,383.78) scale(0.920,1.280)" font-size="14.60" fill="#111" text-anchor="end">8</text>
<text transform="translate(1040.50,385.50) scale(1.160,1.050)" font-size="15.80" fill="#000000" text-anchor="start">2</text>
<text transform="translate(1040.50,400.00) scale(1.160,1.050)" font-size="15.80" fill="#5ebfea" text-anchor="start">1</text>
<text transform="translate(1040.50,414.50) scale(1.160,1.050)" font-size="15.80" fill="#2e8b2e" text-anchor="start">0</text>
<text transform="translate(0.00,520.00) " font-size="20.50" fill="#111" text-anchor="start">Pt. 5</text>
<rect x="80.0" y="631.0" width="200.0" height="51.5" fill="#fcf7bd" stroke="#bdbdbd" stroke-width="2"/>
<line x1="139.50" y1="507.00" x2="139.50" y2="537.50" stroke="#2e8b2e" stroke-width="3.10"/>
<line x1="139.50" y1="537.50" x2="57.50" y2="570.00" stroke="#5ebfea" stroke-width="3.20"/>
<line x1="139.50" y1="537.50" x2="222.50" y2="569.00" stroke="#000000" stroke-width="3.20"/>
<line x1="57.50" y1="570.00" x2="57.50" y2="607.50" stroke="#f18a22" stroke-width="3.20"/>
<line x1="222.50" y1="569.00" x2="261.00" y2="583.50" stroke="#9e1b1b" stroke-width="3.20"/>
<line x1="222.50" y1="569.00" x2="222.50" y2="615.00" stroke="#5a6fe3" stroke-width="3.20"/>
<line x1="222.50" y1="615.00" x2="222.50" y2="667.50" stroke="#f08a8a" stroke-width="3.20"/>
<circle cx="139.50" cy="503.00" r="4.4" fill="#fff" stroke="#2e8b2e" stroke-width="1.7"/>
<circle cx="139.50" cy="537.50" r="5.1" fill="#2e8b2e"/>
<circle cx="57.50" cy="570.00" r="5.1" fill="#5ebfea"/>
<circle cx="57.50" cy="607.50" r="5.1" fill="#f18a22"/>
<circle cx="222.50" cy="569.00" r="5.1" fill="#000000"/>
<circle cx="261.00" cy="583.50" r="5.1" fill="#9e1b1b"/>
<circle cx="222.50" cy="615.00" r="5.1" fill="#5a6fe3"/>
<circle cx="222.50" cy="667.50" r="5.1" fill="#f08a8a"/>
<text transform="translate(145.00,526.00) " font-size="17.20" fill="#2e8b2e" text-anchor="start"><tspan font-style="italic">Tri12</tspan></text>
<text transform="translate(50.00,542.50) " font-size="17.20" fill="#5ebfea" text-anchor="start"><tspan font-style="italic">del</tspan>(6p)</text>
<text transform="translate(137.50,559.00) " font-size="17.20" fill="#2e8b2e" text-anchor="middle">Cl. 0</text>
<text transform="translate(186.00,547.50) " font-size="17.20" fill="#000000" text-anchor="start"><tspan font-style="italic">XPO1</tspan></text>
<text transform="translate(48.50,577.50) " font-size="17.20" fill="#5ebfea" text-anchor="end">Cl. 1</text>
<text transform="translate(241.00,570.00) " font-size="17.20" fill="#9e1b1b" text-anchor="start"><tspan font-style="italic">GNB1 p.I80T</tspan></text>
<text transform="translate(212.50,582.50) " font-size="17.20" fill="#000000" text-anchor="end">Cl. 2</text>
<text transform="translate(65.00,597.50) " font-size="17.20" fill="#f18a22" text-anchor="start"><tspan font-style="italic">NFKBIZ</tspan></text>
<text transform="translate(215.00,597.50) " font-size="17.20" fill="#5a6fe3" text-anchor="end"><tspan font-style="italic">MED12</tspan></text>
<text transform="translate(270.00,596.00) " font-size="17.20" fill="#9e1b1b" text-anchor="start">Cl. 4</text>
<text transform="translate(48.50,612.50) " font-size="17.20" fill="#f18a22" text-anchor="end">Cl. 3</text>
<text transform="translate(232.50,619.00) " font-size="17.20" fill="#5a6fe3" text-anchor="start">Cl. 5</text>
<text transform="translate(145.00,650.00) " font-size="17.20" fill="#ea7472" text-anchor="middle"><tspan font-style="italic">CDKN2A, GNB1</tspan></text>
<text transform="translate(150.00,667.50) " font-size="17.20" fill="#ea7472" text-anchor="middle"><tspan font-style="italic">p.I80N, del</tspan>(6q)</text>
<text transform="translate(232.50,672.50) " font-size="17.20" fill="#ea7472" text-anchor="start">Cl. 6</text>
<clipPath id="cp4"><rect x="404.0" y="536.9" width="164.0" height="119.3"/></clipPath>
<g clip-path="url(#cp4)">
<polyline points="403.9,604.7 459.7,580.5 495.4,582.6 568.2,622.6" fill="none" stroke="#d6c6ee" stroke-width="22.00" stroke-opacity="0.300" stroke-linejoin="round" stroke-linecap="round"/>
<polyline points="403.9,604.7 459.7,580.5 495.4,582.6 568.2,622.6" fill="none" stroke="#5ebfea" stroke-width="13.00" stroke-opacity="0.900" stroke-linejoin="round" stroke-linecap="round"/>
<polyline points="403.9,636.3 459.7,627.9 495.4,630.0 568.2,625.8" fill="none" stroke="#f4b0a0" stroke-width="20.00" stroke-opacity="0.300" stroke-linejoin="round" stroke-linecap="round"/>
<polyline points="403.9,636.3 459.7,627.9 495.4,630.0 568.2,625.8" fill="none" stroke="#f18a22" stroke-width="12.00" stroke-opacity="0.900" stroke-linejoin="round" stroke-linecap="round"/>
<polygon points="403.9,652.1 459.7,652.1 495.4,652.1 568.2,636.3 568.2,646.8 495.4,654.2 459.7,654.2 403.9,654.2" fill="#5a6fe3" fill-opacity="0.850"/>
<polyline points="403.9,652.1 459.7,652.6 495.4,652.1 568.2,631.0" fill="none" stroke="#9e1b1b" stroke-width="5.00" stroke-opacity="0.950" stroke-linejoin="round" stroke-linecap="round"/>
<polyline points="403.9,615.2 459.7,624.7 495.4,631.0 568.2,596.3" fill="none" stroke="#0f2a22" stroke-width="24.00" stroke-opacity="0.100" stroke-linejoin="round" stroke-linecap="round"/>
<polyline points="403.9,615.2 459.7,624.7 495.4,631.0 568.2,596.3" fill="none" stroke="#0f2a22" stroke-width="20.00" stroke-opacity="0.100" stroke-linejoin="round" stroke-linecap="round"/>
<polyline points="403.9,615.2 459.7,624.7 495.4,631.0 568.2,596.3" fill="none" stroke="#0f2a22" stroke-width="16.00" stroke-opacity="0.100" stroke-linejoin="round" stroke-linecap="round"/>
<polyline points="403.9,615.2 459.7,624.7 495.4,631.0 568.2,596.3" fill="none" stroke="#0f2a22" stroke-width="12.00" stroke-opacity="0.100" stroke-linejoin="round" stroke-linecap="round"/>
<polyline points="403.9,615.2 459.7,624.7 495.4,631.0 568.2,596.3" fill="none" stroke="#0f2a22" stroke-width="8.00" stroke-opacity="0.930" stroke-linejoin="round" stroke-linecap="round"/>
<line x1="459.70" y1="575.23" x2="459.70" y2="633.14" stroke="#1a2a22" stroke-width="1.80" stroke-opacity="0.4" stroke-linecap="round"/>
<line x1="495.40" y1="580.49" x2="495.40" y2="638.41" stroke="#1a2a22" stroke-width="1.80" stroke-opacity="0.4" stroke-linecap="round"/>
<line x1="568.16" y1="585.75" x2="568.16" y2="622.61" stroke="#1a2a22" stroke-width="1.80" stroke-opacity="0.4" stroke-linecap="round"/>
</g>
<line x1="404.00" y1="548.90" x2="568.00" y2="548.90" stroke="#3a9a3a" stroke-width="1.60"/>
<line x1="400.50" y1="548.10" x2="400.50" y2="655.00" stroke="#222" stroke-width="1.60"/>
<line x1="396.00" y1="548.90" x2="400.50" y2="548.90" stroke="#222" stroke-width="1.40"/>
<text transform="translate(394.00,557.20) scale(1.070,1.000)" font-size="15.60" fill="#111" text-anchor="end">1.0</text>
<line x1="396.00" y1="575.23" x2="400.50" y2="575.23" stroke="#222" stroke-width="1.40"/>
<line x1="396.00" y1="601.55" x2="400.50" y2="601.55" stroke="#222" stroke-width="1.40"/>
<text transform="translate(394.00,609.85) scale(1.070,1.000)" font-size="15.60" fill="#111" text-anchor="end">0.5</text>
<line x1="396.00" y1="627.88" x2="400.50" y2="627.88" stroke="#222" stroke-width="1.40"/>
<line x1="396.00" y1="654.20" x2="400.50" y2="654.20" stroke="#222" stroke-width="1.40"/>
<text transform="translate(394.00,662.50) scale(1.070,1.000)" font-size="15.60" fill="#111" text-anchor="end">0</text>
<line x1="403.20" y1="659.80" x2="568.80" y2="659.80" stroke="#222" stroke-width="1.60"/>
<line x1="424.00" y1="659.80" x2="424.00" y2="664.30" stroke="#222" stroke-width="1.40"/>
<text transform="translate(424.00,679.00) scale(1.070,1.000)" font-size="15.60" fill="#111" text-anchor="middle">1</text>
<line x1="458.00" y1="659.80" x2="458.00" y2="664.30" stroke="#222" stroke-width="1.40"/>
<text transform="translate(458.00,679.00) scale(1.070,1.000)" font-size="15.60" fill="#111" text-anchor="middle">2</text>
<line x1="492.00" y1="659.80" x2="492.00" y2="664.30" stroke="#222" stroke-width="1.40"/>
<text transform="translate(492.00,679.00) scale(1.070,1.000)" font-size="15.60" fill="#111" text-anchor="middle">3</text>
<line x1="526.00" y1="659.80" x2="526.00" y2="664.30" stroke="#222" stroke-width="1.40"/>
<text transform="translate(526.00,679.00) scale(1.070,1.000)" font-size="15.60" fill="#111" text-anchor="middle">4</text>
<line x1="560.00" y1="659.80" x2="560.00" y2="664.30" stroke="#222" stroke-width="1.40"/>
<text transform="translate(560.00,679.00) scale(1.070,1.000)" font-size="15.60" fill="#111" text-anchor="middle">5</text>
<text transform="translate(489.50,695.30) scale(1.070,1.150)" font-size="17.00" fill="#111" text-anchor="middle">Years</text>
<text transform="translate(364.00,601.55) rotate(-90) scale(1.070,1.150)" font-size="16.60" fill="#111" text-anchor="middle">CCF</text>
<line x1="744.70" y1="554.60" x2="744.70" y2="657.60" stroke="#111" stroke-width="1.3" stroke-dasharray="1.6,1.6"/>
<polyline points="672.3,654.3 730.2,654.2 731.9,654.0 733.4,653.4 734.6,652.5 737.2,650.0 737.9,649.6 738.7,649.4 739.4,649.6 740.1,650.0 743.5,653.1 744.5,653.5 745.2,653.3 745.7,652.9 746.1,652.0 747.1,648.0 748.1,640.2 749.8,622.3 750.2,619.2 750.7,618.1 751.2,619.2 751.7,622.3 753.4,640.2 754.3,648.1 755.3,652.1 755.8,653.1 756.5,653.9 757.5,654.2 759.2,654.3 817.1,654.3" fill="none" stroke="#5ebfea" stroke-width="1.90" stroke-opacity="1.000" stroke-linejoin="round"/>
<polyline points="672.3,654.3 741.3,654.3 744.0,654.2 745.7,653.8 746.6,653.3 747.6,652.2 748.6,650.4 749.3,648.3 750.7,642.2 753.9,624.8 754.8,621.6 755.6,620.9 756.3,621.6 757.2,624.8 760.1,641.0 761.6,647.5 763.0,651.4 764.0,652.8 765.0,653.6 766.4,654.1 769.1,654.3 817.1,654.3" fill="none" stroke="#f18a22" stroke-width="1.90" stroke-opacity="1.000" stroke-linejoin="round"/>
<polyline points="672.3,654.3 750.0,654.3 751.9,654.2 752.9,653.9 753.6,653.3 754.3,651.9 755.1,649.2 755.6,646.3 756.5,637.6 758.7,611.4 759.2,608.1 759.7,606.9 760.1,608.1 760.6,611.4 762.8,637.6 763.8,646.3 764.7,651.2 765.4,652.9 766.2,653.8 767.1,654.2 768.8,654.3 817.1,654.3" fill="none" stroke="#f08a8a" stroke-width="1.90" stroke-opacity="1.000" stroke-linejoin="round"/>
<polyline points="672.3,654.3 751.2,654.3 752.7,654.2 753.4,653.7 754.1,651.9 754.6,648.8 755.3,638.7 757.2,580.5 757.7,571.9 758.0,570.7 758.2,571.9 758.7,580.5 760.6,638.7 761.3,648.8 761.8,651.9 762.5,653.7 763.3,654.2 764.5,654.3 817.1,654.3" fill="none" stroke="#0f2a22" stroke-width="1.90" stroke-opacity="1.000" stroke-linejoin="round"/>
<polyline points="672.3,654.3 763.0,654.3 764.2,654.2 764.7,654.0 765.2,653.3 765.7,651.3 766.4,642.4 767.1,621.4 768.3,573.3 768.8,566.5 769.3,573.3 770.5,621.4 771.2,642.4 772.0,651.3 772.7,653.8 773.2,654.2 774.4,654.3 817.1,654.3" fill="none" stroke="#5a6fe3" stroke-width="1.90" stroke-opacity="1.000" stroke-linejoin="round"/>
<polyline points="672.3,654.3 764.2,654.3 766.2,654.1 766.6,653.6 767.1,652.3 767.9,647.3 770.0,612.3 770.5,609.0 771.2,606.4 772.2,600.7 772.7,599.0 772.9,599.4 773.2,600.9 773.6,607.2 775.6,644.4 776.3,650.8 776.8,652.8 777.3,653.7 778.0,654.2 779.2,654.3 817.1,654.3" fill="none" stroke="#9e1b1b" stroke-width="1.90" stroke-opacity="1.000" stroke-linejoin="round"/>
<rect x="662.40" y="553.60" width="164.60" height="105.00" fill="none" stroke="#222" stroke-width="1.7"/>
<line x1="672.34" y1="658.60" x2="672.34" y2="663.60" stroke="#222" stroke-width="1.40"/>
<line x1="696.46" y1="658.60" x2="696.46" y2="663.60" stroke="#222" stroke-width="1.40"/>
<text transform="translate(695.26,679.30) scale(1.160,1.120)" font-size="15.00" fill="#111" text-anchor="middle">-2</text>
<line x1="720.58" y1="658.60" x2="720.58" y2="663.60" stroke="#222" stroke-width="1.40"/>
<line x1="744.70" y1="658.60" x2="744.70" y2="663.60" stroke="#222" stroke-width="1.40"/>
<text transform="translate(744.70,679.30) scale(1.160,1.120)" font-size="15.00" fill="#111" text-anchor="middle">0</text>
<line x1="768.82" y1="658.60" x2="768.82" y2="663.60" stroke="#222" stroke-width="1.40"/>
<line x1="792.94" y1="658.60" x2="792.94" y2="663.60" stroke="#222" stroke-width="1.40"/>
<text transform="translate(792.94,679.30) scale(1.160,1.120)" font-size="15.00" fill="#111" text-anchor="middle">2</text>
<line x1="817.06" y1="658.60" x2="817.06" y2="663.60" stroke="#222" stroke-width="1.40"/>
<line x1="657.90" y1="654.30" x2="662.40" y2="654.30" stroke="#222" stroke-width="1.40"/>
<text transform="translate(654.40,664.10) scale(0.920,1.280)" font-size="14.60" fill="#111" text-anchor="end">0</text>
<line x1="657.90" y1="626.44" x2="662.40" y2="626.44" stroke="#222" stroke-width="1.40"/>
<text transform="translate(654.40,636.24) scale(0.920,1.280)" font-size="14.60" fill="#111" text-anchor="end">2</text>
<line x1="657.90" y1="598.58" x2="662.40" y2="598.58" stroke="#222" stroke-width="1.40"/>
<text transform="translate(654.40,608.38) scale(0.920,1.280)" font-size="14.60" fill="#111" text-anchor="end">4</text>
<line x1="657.90" y1="570.72" x2="662.40" y2="570.72" stroke="#222" stroke-width="1.40"/>
<text transform="translate(654.40,580.52) scale(0.920,1.280)" font-size="14.60" fill="#111" text-anchor="end">6</text>
<text transform="translate(758.60,568.60) scale(1.160,1.000)" font-size="15.20" fill="#000000" text-anchor="middle">2</text>
<text transform="translate(776.60,568.60) scale(1.160,1.000)" font-size="15.20" fill="#5a6fe3" text-anchor="middle">5</text>
<text transform="translate(750.90,602.90) scale(1.160,1.000)" font-size="15.20" fill="#f08a8a" text-anchor="middle">6</text>
<text transform="translate(780.00,598.60) scale(1.160,1.000)" font-size="15.20" fill="#9e1b1b" text-anchor="middle">4</text>
<text transform="translate(740.00,632.90) scale(1.160,1.000)" font-size="15.20" fill="#f18a22" text-anchor="middle">3</text>
<text transform="translate(749.00,611.40) scale(1.160,1.000)" font-size="15.20" fill="#5ebfea" text-anchor="middle">1</text>
<text transform="translate(635.00,606.10) rotate(-90) scale(1.137,1.070)" font-size="16.20" fill="#111" text-anchor="middle">Probability</text>
<line x1="949.20" y1="554.60" x2="949.20" y2="657.60" stroke="#2e9a2e" stroke-width="1.3" stroke-dasharray="1.6,1.6"/>
<polyline points="876.5,654.3 922.8,654.2 924.2,654.0 925.5,653.4 928.6,650.4 929.8,649.9 931.0,650.4 933.9,653.2 934.7,653.4 935.1,653.3 935.6,652.8 936.1,651.8 937.1,647.4 938.1,638.8 939.8,619.0 940.2,615.6 940.7,614.3 941.2,615.6 941.7,619.0 943.4,638.8 944.4,647.4 945.3,651.9 946.1,653.4 946.8,654.0 947.7,654.2 949.4,654.3 1021.9,654.3" fill="none" stroke="#5ebfea" stroke-width="1.90" stroke-opacity="1.000" stroke-linejoin="round"/>
<polyline points="876.5,654.3 928.1,654.3 930.1,654.2 931.3,653.7 932.0,652.9 932.7,651.4 933.9,646.1 934.9,638.7 937.1,617.7 937.8,613.7 938.3,612.9 938.8,613.7 939.5,617.7 941.7,638.7 942.9,647.5 944.1,652.0 944.8,653.2 945.8,654.0 947.0,654.2 949.0,654.3 1021.9,654.3" fill="none" stroke="#f08a8a" stroke-width="1.90" stroke-opacity="1.000" stroke-linejoin="round"/>
<polyline points="876.5,654.3 937.3,654.3 940.5,654.2 942.4,653.8 943.6,653.3 944.6,652.5 945.6,651.3 946.5,649.5 948.2,645.0 951.9,632.4 953.1,629.8 953.6,629.3 954.0,629.1 954.5,629.3 955.0,629.8 956.2,632.4 959.9,645.0 961.6,649.5 963.3,652.2 964.2,653.1 965.4,653.7 967.4,654.2 970.3,654.3 1021.9,654.3" fill="none" stroke="#f18a22" stroke-width="1.90" stroke-opacity="1.000" stroke-linejoin="round"/>
<polyline points="876.5,654.3 943.6,654.3 944.8,654.2 945.3,653.8 945.8,652.5 946.1,651.3 946.8,642.3 947.5,621.0 948.7,572.3 949.2,565.5 949.7,572.3 950.9,621.0 951.6,642.3 952.3,651.3 952.6,652.5 953.1,653.8 953.6,654.2 954.8,654.3 1021.9,654.3" fill="none" stroke="#0f2a22" stroke-width="1.90" stroke-opacity="1.000" stroke-linejoin="round"/>
<polyline points="876.5,654.3 951.4,654.3 953.1,654.2 954.0,653.8 954.8,652.9 955.5,650.7 956.5,643.8 957.4,630.7 959.1,600.8 959.6,595.5 960.1,593.6 960.6,595.5 961.1,600.8 962.8,630.7 963.7,643.8 964.7,650.7 965.2,652.4 965.9,653.6 966.9,654.2 968.6,654.3 1021.9,654.3" fill="none" stroke="#5a6fe3" stroke-width="1.90" stroke-opacity="1.000" stroke-linejoin="round"/>
<polyline points="876.5,654.3 953.6,654.3 956.0,654.2 957.4,653.9 958.4,653.3 959.4,652.0 960.1,650.2 960.8,647.7 962.0,641.3 964.7,623.0 965.4,619.9 965.9,618.9 966.2,618.8 966.4,618.9 966.9,619.9 967.6,623.0 970.3,641.3 971.5,647.7 972.7,651.5 973.4,652.7 974.4,653.7 975.9,654.2 978.0,654.3 1021.9,654.3" fill="none" stroke="#9e1b1b" stroke-width="1.90" stroke-opacity="1.000" stroke-linejoin="round"/>
<rect x="867.70" y="553.60" width="163.70" height="105.00" fill="none" stroke="#222" stroke-width="1.7"/>
<line x1="876.51" y1="658.60" x2="876.51" y2="663.60" stroke="#222" stroke-width="1.40"/>
<line x1="900.74" y1="658.60" x2="900.74" y2="663.60" stroke="#222" stroke-width="1.40"/>
<text transform="translate(899.54,679.30) scale(1.160,1.120)" font-size="15.00" fill="#111" text-anchor="middle">-2</text>
<line x1="924.97" y1="658.60" x2="924.97" y2="663.60" stroke="#222" stroke-width="1.40"/>
<line x1="949.20" y1="658.60" x2="949.20" y2="663.60" stroke="#222" stroke-width="1.40"/>
<text transform="translate(949.20,679.30) scale(1.160,1.120)" font-size="15.00" fill="#111" text-anchor="middle">0</text>
<line x1="973.43" y1="658.60" x2="973.43" y2="663.60" stroke="#222" stroke-width="1.40"/>
<line x1="997.66" y1="658.60" x2="997.66" y2="663.60" stroke="#222" stroke-width="1.40"/>
<text transform="translate(997.66,679.30) scale(1.160,1.120)" font-size="15.00" fill="#111" text-anchor="middle">2</text>
<line x1="1021.89" y1="658.60" x2="1021.89" y2="663.60" stroke="#222" stroke-width="1.40"/>
<line x1="863.20" y1="654.30" x2="867.70" y2="654.30" stroke="#222" stroke-width="1.40"/>
<text transform="translate(859.70,664.10) scale(0.920,1.280)" font-size="14.60" fill="#111" text-anchor="end">0</text>
<line x1="863.20" y1="624.70" x2="867.70" y2="624.70" stroke="#222" stroke-width="1.40"/>
<text transform="translate(859.70,634.50) scale(0.920,1.280)" font-size="14.60" fill="#111" text-anchor="end">2</text>
<line x1="863.20" y1="595.10" x2="867.70" y2="595.10" stroke="#222" stroke-width="1.40"/>
<text transform="translate(859.70,604.90) scale(0.920,1.280)" font-size="14.60" fill="#111" text-anchor="end">4</text>
<line x1="863.20" y1="565.50" x2="867.70" y2="565.50" stroke="#222" stroke-width="1.40"/>
<text transform="translate(859.70,575.30) scale(0.920,1.280)" font-size="14.60" fill="#111" text-anchor="end">6</text>
<text transform="translate(1040.50,572.10) scale(1.160,1.050)" font-size="15.80" fill="#f08a8a" text-anchor="start">6</text>
<text transform="translate(1040.50,586.67) scale(1.160,1.050)" font-size="15.80" fill="#5a6fe3" text-anchor="start">5</text>
<text transform="translate(1040.50,601.24) scale(1.160,1.050)" font-size="15.80" fill="#9e1b1b" text-anchor="start">4</text>
<text transform="translate(1040.50,615.81) scale(1.160,1.050)" font-size="15.80" fill="#f18a22" text-anchor="start">3</text>
<text transform="translate(1040.50,630.38) scale(1.160,1.050)" font-size="15.80" fill="#000000" text-anchor="start">2</text>
<text transform="translate(1040.50,644.95) scale(1.160,1.050)" font-size="15.80" fill="#5ebfea" text-anchor="start">1</text>
<text transform="translate(1040.50,659.52) scale(1.160,1.050)" font-size="15.80" fill="#2e8b2e" text-anchor="start">0</text>
<text transform="translate(0.00,739.00) " font-size="20.50" fill="#111" text-anchor="start">Pt. 6</text>
<rect x="24.0" y="777.5" width="65.0" height="61.5" fill="#fcf7bd" stroke="#bdbdbd" stroke-width="2"/>
<line x1="172.50" y1="720.50" x2="172.50" y2="757.50" stroke="#2e8b2e" stroke-width="3.10"/>
<line x1="172.50" y1="757.50" x2="107.50" y2="783.50" stroke="#5ebfea" stroke-width="3.20"/>
<line x1="172.50" y1="757.50" x2="237.50" y2="787.50" stroke="#000000" stroke-width="3.20"/>
<line x1="107.50" y1="783.50" x2="52.50" y2="809.00" stroke="#f18a22" stroke-width="3.20"/>
<line x1="107.50" y1="783.50" x2="169.00" y2="809.00" stroke="#5a6fe3" stroke-width="3.20"/>
<circle cx="172.50" cy="716.50" r="4.4" fill="#fff" stroke="#2e8b2e" stroke-width="1.7"/>
<circle cx="172.50" cy="757.50" r="5.1" fill="#2e8b2e"/>
<circle cx="107.50" cy="783.50" r="5.1" fill="#5ebfea"/>
<circle cx="237.50" cy="787.50" r="5.1" fill="#000000"/>
<circle cx="52.50" cy="809.00" r="5.1" fill="#f18a22"/>
<circle cx="169.00" cy="809.00" r="5.1" fill="#5a6fe3"/>
<text transform="translate(181.00,736.00) " font-size="17.20" fill="#2e8b2e" text-anchor="start"><tspan font-style="italic">del</tspan>(13q),<tspan font-style="italic">del</tspan>(11q)</text>
<text transform="translate(100.00,762.50) " font-size="17.20" fill="#5ebfea" text-anchor="start">Cl. 1</text>
<text transform="translate(205.00,766.00) " font-size="17.20" fill="#000000" text-anchor="start"><tspan font-style="italic">amp</tspan>(2p),<tspan font-style="italic">del</tspan>(6q)</text>
<text transform="translate(156.00,782.50) " font-size="17.20" fill="#2e8b2e" text-anchor="start">Cl. 0</text>
<text transform="translate(245.00,797.50) " font-size="17.20" fill="#000000" text-anchor="start">Cl. 2</text>
<text transform="translate(97.50,816.00) " font-size="17.20" fill="#5a6fe3" text-anchor="start"><tspan font-style="italic">ASXL1</tspan></text>
<text transform="translate(34.00,831.00) " font-size="17.20" fill="#f18a22" text-anchor="start">Cl. 4</text>
<text transform="translate(155.00,831.00) " font-size="17.20" fill="#5a6fe3" text-anchor="start">Cl. 3</text>
<clipPath id="cp5"><rect x="404.0" y="703.3" width="164.8" height="118.0"/></clipPath>
<g clip-path="url(#cp5)">
<polygon points="403.9,804.7 465.8,772.5 567.9,756.9 567.9,808.9 465.8,808.9 403.9,814.1" fill="#6a70e8" fill-opacity="0.220"/>
<polygon points="403.9,806.8 465.8,786.0 567.9,767.3 567.9,798.5 465.8,804.7 403.9,813.1" fill="#5a62e0" fill-opacity="0.300"/>
<polyline points="403.9,760.0 465.8,746.5 567.9,746.5" fill="none" stroke="#d6c6ee" stroke-width="22.00" stroke-opacity="0.300" stroke-linejoin="round" stroke-linecap="round"/>
<polyline points="403.9,760.0 465.8,746.5 567.9,746.5" fill="none" stroke="#5ebfea" stroke-width="14.00" stroke-opacity="0.900" stroke-linejoin="round" stroke-linecap="round"/>
<polyline points="403.9,809.9 465.8,798.5 567.9,788.1" fill="none" stroke="#5a6fe3" stroke-width="8.00" stroke-opacity="0.500" stroke-linejoin="round" stroke-linecap="round"/>
<polyline points="403.9,813.1 465.8,814.1 567.9,813.1" fill="none" stroke="#f4b0a0" stroke-width="14.00" stroke-opacity="0.300" stroke-linejoin="round" stroke-linecap="round"/>
<polyline points="403.9,813.1 465.8,814.1 567.9,813.1" fill="none" stroke="#f18a22" stroke-width="8.00" stroke-opacity="0.920" stroke-linejoin="round" stroke-linecap="round"/>
<polyline points="403.9,813.1 418.0,812.0" fill="none" stroke="#2e8b2e" stroke-width="6.00" stroke-opacity="0.800" stroke-linejoin="round" stroke-linecap="round"/>
<polyline points="403.9,780.8 465.8,797.5 567.9,797.5" fill="none" stroke="#0f2a22" stroke-width="20.00" stroke-opacity="0.100" stroke-linejoin="round" stroke-linecap="round"/>
<polyline points="403.9,780.8 465.8,797.5 567.9,797.5" fill="none" stroke="#0f2a22" stroke-width="16.33" stroke-opacity="0.100" stroke-linejoin="round" stroke-linecap="round"/>
<polyline points="403.9,780.8 465.8,797.5 567.9,797.5" fill="none" stroke="#0f2a22" stroke-width="12.67" stroke-opacity="0.100" stroke-linejoin="round" stroke-linecap="round"/>
<polyline points="403.9,780.8 465.8,797.5 567.9,797.5" fill="none" stroke="#0f2a22" stroke-width="9.00" stroke-opacity="0.950" stroke-linejoin="round" stroke-linecap="round"/>
<line x1="465.84" y1="736.10" x2="465.84" y2="803.70" stroke="#334" stroke-width="1.40" stroke-opacity="0.4" stroke-linecap="round"/>
</g>
<line x1="404.00" y1="715.30" x2="568.80" y2="715.30" stroke="#3a9a3a" stroke-width="1.60"/>
<line x1="400.50" y1="714.50" x2="400.50" y2="820.10" stroke="#222" stroke-width="1.60"/>
<line x1="396.00" y1="715.30" x2="400.50" y2="715.30" stroke="#222" stroke-width="1.40"/>
<text transform="translate(394.00,723.60) scale(1.070,1.000)" font-size="15.60" fill="#111" text-anchor="end">1.0</text>
<line x1="396.00" y1="741.30" x2="400.50" y2="741.30" stroke="#222" stroke-width="1.40"/>
<line x1="396.00" y1="767.30" x2="400.50" y2="767.30" stroke="#222" stroke-width="1.40"/>
<text transform="translate(394.00,775.60) scale(1.070,1.000)" font-size="15.60" fill="#111" text-anchor="end">0.5</text>
<line x1="396.00" y1="793.30" x2="400.50" y2="793.30" stroke="#222" stroke-width="1.40"/>
<line x1="396.00" y1="819.30" x2="400.50" y2="819.30" stroke="#222" stroke-width="1.40"/>
<text transform="translate(394.00,827.60) scale(1.070,1.000)" font-size="15.60" fill="#111" text-anchor="end">0</text>
<line x1="403.20" y1="825.20" x2="569.60" y2="825.20" stroke="#222" stroke-width="1.60"/>
<line x1="418.00" y1="825.20" x2="418.00" y2="829.70" stroke="#222" stroke-width="1.40"/>
<text transform="translate(418.00,845.10) scale(1.070,1.000)" font-size="15.60" fill="#111" text-anchor="middle">8</text>
<line x1="458.20" y1="825.20" x2="458.20" y2="829.70" stroke="#222" stroke-width="1.40"/>
<text transform="translate(458.20,845.10) scale(1.070,1.000)" font-size="15.60" fill="#111" text-anchor="middle">9</text>
<line x1="498.40" y1="825.20" x2="498.40" y2="829.70" stroke="#222" stroke-width="1.40"/>
<text transform="translate(498.40,845.10) scale(1.070,1.000)" font-size="15.60" fill="#111" text-anchor="middle">10</text>
<line x1="538.60" y1="825.20" x2="538.60" y2="829.70" stroke="#222" stroke-width="1.40"/>
<text transform="translate(538.60,845.10) scale(1.070,1.000)" font-size="15.60" fill="#111" text-anchor="middle">11</text>
<line x1="438.10" y1="825.20" x2="438.10" y2="829.70" stroke="#222" stroke-width="1.40"/>
<line x1="478.30" y1="825.20" x2="478.30" y2="829.70" stroke="#222" stroke-width="1.40"/>
<line x1="518.50" y1="825.20" x2="518.50" y2="829.70" stroke="#222" stroke-width="1.40"/>
<line x1="558.70" y1="825.20" x2="558.70" y2="829.70" stroke="#222" stroke-width="1.40"/>
<text transform="translate(489.50,858.80) scale(1.070,1.150)" font-size="17.00" fill="#111" text-anchor="middle">Years</text>
<text transform="translate(364.00,767.30) rotate(-90) scale(1.070,1.150)" font-size="16.60" fill="#111" text-anchor="middle">CCF</text>
<line x1="744.70" y1="720.10" x2="744.70" y2="822.70" stroke="#111" stroke-width="1.3" stroke-dasharray="1.6,1.6"/>
<polyline points="672.3,819.4 723.0,819.4 728.3,819.2 731.9,818.7 735.3,817.6 738.4,815.7 741.6,812.8 746.9,806.6 748.8,804.6 751.0,803.1 752.2,802.6 753.1,802.5 754.1,802.6 755.3,803.1 757.5,804.6 759.4,806.6 764.7,812.8 767.6,815.5 770.3,817.2 773.4,818.5 777.0,819.1 781.8,819.3 817.1,819.4" fill="none" stroke="#5ebfea" stroke-width="1.90" stroke-opacity="1.000" stroke-linejoin="round"/>
<polyline points="672.3,819.4 756.5,819.4 759.2,819.3 760.6,818.9 761.6,818.3 762.5,817.0 763.5,814.6 764.2,811.9 765.7,803.6 768.3,783.7 769.3,779.2 769.8,778.3 770.0,778.1 770.3,778.3 770.7,779.2 771.7,783.7 774.4,803.6 775.6,810.8 777.0,816.0 777.7,817.4 778.5,818.3 779.9,819.1 782.1,819.4 817.1,819.4" fill="none" stroke="#5a6fe3" stroke-width="1.90" stroke-opacity="1.000" stroke-linejoin="round"/>
<polyline points="672.3,819.4 735.3,819.4 736.5,819.0 737.2,818.4 739.2,814.4 739.9,813.8 740.6,814.4 742.3,818.0 742.8,818.6 743.5,819.2 744.9,819.4 749.5,819.4 750.5,819.2 751.0,818.8 751.7,816.9 752.2,813.7 752.9,803.3 754.8,743.3 755.3,734.3 755.6,733.1 755.8,734.3 756.3,743.3 758.2,803.3 758.9,813.7 759.4,816.9 760.1,818.8 760.9,819.3 762.1,819.4 817.1,819.4" fill="none" stroke="#0f2a22" stroke-width="1.90" stroke-opacity="1.000" stroke-linejoin="round"/>
<polyline points="672.3,819.4 742.8,819.4 745.7,819.3 747.4,818.9 748.6,818.1 749.5,816.9 750.5,814.9 751.2,812.7 752.9,805.0 756.0,786.1 757.0,782.3 757.5,781.3 758.0,781.0 758.4,781.3 758.9,782.3 759.9,786.1 763.0,805.0 764.5,811.8 765.9,816.0 766.9,817.6 767.9,818.5 769.5,819.2 772.2,819.4 817.1,819.4" fill="none" stroke="#f18a22" stroke-width="1.90" stroke-opacity="1.000" stroke-linejoin="round"/>
<rect x="662.40" y="719.10" width="164.60" height="104.60" fill="none" stroke="#222" stroke-width="1.7"/>
<line x1="672.34" y1="823.70" x2="672.34" y2="828.70" stroke="#222" stroke-width="1.40"/>
<line x1="696.46" y1="823.70" x2="696.46" y2="828.70" stroke="#222" stroke-width="1.40"/>
<text transform="translate(695.26,844.40) scale(1.160,1.120)" font-size="15.00" fill="#111" text-anchor="middle">-2</text>
<line x1="720.58" y1="823.70" x2="720.58" y2="828.70" stroke="#222" stroke-width="1.40"/>
<line x1="744.70" y1="823.70" x2="744.70" y2="828.70" stroke="#222" stroke-width="1.40"/>
<text transform="translate(744.70,844.40) scale(1.160,1.120)" font-size="15.00" fill="#111" text-anchor="middle">0</text>
<line x1="768.82" y1="823.70" x2="768.82" y2="828.70" stroke="#222" stroke-width="1.40"/>
<line x1="792.94" y1="823.70" x2="792.94" y2="828.70" stroke="#222" stroke-width="1.40"/>
<text transform="translate(792.94,844.40) scale(1.160,1.120)" font-size="15.00" fill="#111" text-anchor="middle">2</text>
<line x1="817.06" y1="823.70" x2="817.06" y2="828.70" stroke="#222" stroke-width="1.40"/>
<line x1="657.90" y1="819.40" x2="662.40" y2="819.40" stroke="#222" stroke-width="1.40"/>
<text transform="translate(654.40,829.20) scale(0.920,1.280)" font-size="14.60" fill="#111" text-anchor="end">0</text>
<line x1="657.90" y1="800.65" x2="662.40" y2="800.65" stroke="#222" stroke-width="1.40"/>
<text transform="translate(654.40,810.45) scale(0.920,1.280)" font-size="14.60" fill="#111" text-anchor="end">1</text>
<line x1="657.90" y1="781.90" x2="662.40" y2="781.90" stroke="#222" stroke-width="1.40"/>
<text transform="translate(654.40,791.70) scale(0.920,1.280)" font-size="14.60" fill="#111" text-anchor="end">2</text>
<line x1="657.90" y1="763.15" x2="662.40" y2="763.15" stroke="#222" stroke-width="1.40"/>
<text transform="translate(654.40,772.95) scale(0.920,1.280)" font-size="14.60" fill="#111" text-anchor="end">3</text>
<line x1="657.90" y1="744.40" x2="662.40" y2="744.40" stroke="#222" stroke-width="1.40"/>
<text transform="translate(654.40,754.20) scale(0.920,1.280)" font-size="14.60" fill="#111" text-anchor="end">4</text>
<text transform="translate(755.20,731.60) scale(1.160,1.000)" font-size="15.20" fill="#000000" text-anchor="middle">2</text>
<text transform="translate(762.00,775.70) scale(1.160,1.000)" font-size="15.20" fill="#f18a22" text-anchor="middle">4</text>
<text transform="translate(772.30,775.70) scale(1.160,1.000)" font-size="15.20" fill="#5a6fe3" text-anchor="middle">3</text>
<text transform="translate(736.30,807.90) scale(1.160,1.000)" font-size="15.20" fill="#5ebfea" text-anchor="middle">1</text>
<text transform="translate(635.00,771.40) rotate(-90) scale(1.137,1.070)" font-size="16.20" fill="#111" text-anchor="middle">Probability</text>
<line x1="949.20" y1="717.60" x2="949.20" y2="822.70" stroke="#2e9a2e" stroke-width="1.3" stroke-dasharray="1.6,1.6"/>
<polyline points="876.5,819.4 920.6,819.4 922.3,819.2 923.5,818.9 924.5,818.2 925.2,817.4 926.2,815.6 927.2,812.4 928.1,807.6 928.8,802.5 930.5,785.4 933.9,742.2 934.9,734.7 935.4,732.6 935.9,732.0 944.1,732.0 945.1,732.8 946.3,735.3 947.7,740.2 949.2,746.9 955.5,783.5 958.6,798.6 960.3,804.7 962.0,809.4 964.0,813.3 965.9,815.8 967.6,817.2 969.6,818.3 972.0,818.9 974.9,819.2 981.9,819.4 1021.9,819.4" fill="none" stroke="#5ebfea" stroke-width="1.90" stroke-opacity="1.000" stroke-linejoin="round"/>
<polyline points="876.5,819.4 941.2,819.3 944.4,819.1 946.5,818.6 948.5,817.8 950.2,816.5 952.1,814.2 953.8,811.0 955.5,806.4 957.0,801.2 958.4,794.7 960.1,785.7 964.9,755.3 966.9,744.6 968.1,739.4 969.1,736.4 970.0,734.6 970.5,734.1 971.0,734.0 971.7,734.3 972.7,735.9 973.7,738.6 974.6,742.4 976.6,752.4 981.4,782.8 983.8,795.9 985.3,802.1 986.8,807.1 988.2,811.0 989.7,813.8 991.1,815.8 992.8,817.3 994.8,818.4 996.9,819.0 1002.5,819.4 1021.9,819.4" fill="none" stroke="#5a6fe3" stroke-width="1.90" stroke-opacity="1.000" stroke-linejoin="round"/>
<polyline points="876.5,819.4 907.0,819.4 910.9,819.2 913.6,818.8 916.0,818.0 918.2,816.9 924.7,811.6 929.8,808.6 931.8,806.9 933.0,805.1 934.2,802.5 935.4,799.0 936.6,794.5 938.8,783.7 943.1,757.2 945.1,746.7 946.3,741.3 947.5,737.0 948.5,734.5 949.2,733.8 949.9,734.2 950.7,735.5 954.0,744.5 955.3,746.8 957.9,750.7 958.9,753.0 959.6,755.4 960.6,759.5 961.8,766.1 965.7,792.5 967.6,803.6 968.6,807.8 969.8,812.0 971.0,814.8 972.5,817.0 973.7,818.1 974.9,818.7 976.3,819.1 978.5,819.3 1021.9,819.4" fill="none" stroke="#0f2a22" stroke-width="1.90" stroke-opacity="1.000" stroke-linejoin="round"/>
<polyline points="876.5,819.4 926.9,819.3 929.8,819.0 932.0,818.4 933.9,817.4 935.6,816.0 937.3,813.9 939.0,810.6 940.7,806.1 942.2,801.1 945.1,787.7 950.4,756.5 952.3,746.7 953.6,742.0 954.5,739.2 955.5,737.6 956.0,737.1 956.5,737.0 957.0,737.1 957.4,737.6 958.4,739.2 959.4,742.0 960.6,746.7 962.5,756.5 967.9,787.7 970.8,801.1 972.0,805.4 973.4,809.5 974.9,812.6 976.6,815.2 978.3,816.9 980.0,818.0 982.2,818.8 984.8,819.2 991.1,819.4 1021.9,819.4" fill="none" stroke="#f18a22" stroke-width="1.90" stroke-opacity="1.000" stroke-linejoin="round"/>
<rect x="867.70" y="716.60" width="163.70" height="107.10" fill="none" stroke="#222" stroke-width="1.7"/>
<line x1="876.51" y1="823.70" x2="876.51" y2="828.70" stroke="#222" stroke-width="1.40"/>
<line x1="900.74" y1="823.70" x2="900.74" y2="828.70" stroke="#222" stroke-width="1.40"/>
<text transform="translate(899.54,844.40) scale(1.160,1.120)" font-size="15.00" fill="#111" text-anchor="middle">-2</text>
<line x1="924.97" y1="823.70" x2="924.97" y2="828.70" stroke="#222" stroke-width="1.40"/>
<line x1="949.20" y1="823.70" x2="949.20" y2="828.70" stroke="#222" stroke-width="1.40"/>
<text transform="translate(949.20,844.40) scale(1.160,1.120)" font-size="15.00" fill="#111" text-anchor="middle">0</text>
<line x1="973.43" y1="823.70" x2="973.43" y2="828.70" stroke="#222" stroke-width="1.40"/>
<line x1="997.66" y1="823.70" x2="997.66" y2="828.70" stroke="#222" stroke-width="1.40"/>
<text transform="translate(997.66,844.40) scale(1.160,1.120)" font-size="15.00" fill="#111" text-anchor="middle">2</text>
<line x1="1021.89" y1="823.70" x2="1021.89" y2="828.70" stroke="#222" stroke-width="1.40"/>
<line x1="863.20" y1="819.40" x2="867.70" y2="819.40" stroke="#222" stroke-width="1.40"/>
<text transform="translate(859.70,829.20) scale(0.920,1.280)" font-size="14.60" fill="#111" text-anchor="end">0</text>
<line x1="863.20" y1="799.30" x2="867.70" y2="799.30" stroke="#222" stroke-width="1.40"/>
<text transform="translate(859.70,809.10) scale(0.920,1.280)" font-size="14.60" fill="#111" text-anchor="end">0.2</text>
<line x1="863.20" y1="779.20" x2="867.70" y2="779.20" stroke="#222" stroke-width="1.40"/>
<text transform="translate(859.70,789.00) scale(0.920,1.280)" font-size="14.60" fill="#111" text-anchor="end">0.4</text>
<line x1="863.20" y1="759.10" x2="867.70" y2="759.10" stroke="#222" stroke-width="1.40"/>
<text transform="translate(859.70,768.90) scale(0.920,1.280)" font-size="14.60" fill="#111" text-anchor="end">0.6</text>
<line x1="863.20" y1="739.00" x2="867.70" y2="739.00" stroke="#222" stroke-width="1.40"/>
<text transform="translate(859.70,748.80) scale(0.920,1.280)" font-size="14.60" fill="#111" text-anchor="end">0.8</text>
<text transform="translate(1040.50,728.50) scale(1.160,1.050)" font-size="15.80" fill="#f18a22" text-anchor="start">4</text>
<text transform="translate(1040.50,744.60) scale(1.160,1.050)" font-size="15.80" fill="#5a6fe3" text-anchor="start">3</text>
<text transform="translate(1040.50,760.70) scale(1.160,1.050)" font-size="15.80" fill="#000000" text-anchor="start">2</text>
<text transform="translate(1040.50,776.80) scale(1.160,1.050)" font-size="15.80" fill="#5ebfea" text-anchor="start">1</text>
<text transform="translate(1040.50,792.90) scale(1.160,1.050)" font-size="15.80" fill="#2e8b2e" text-anchor="start">0</text>
<text transform="translate(0.00,901.00) " font-size="20.50" fill="#111" text-anchor="start">Pt. 7</text>
<line x1="159.00" y1="901.50" x2="159.00" y2="928.50" stroke="#2e8b2e" stroke-width="3.10"/>
<line x1="159.00" y1="928.50" x2="159.00" y2="957.50" stroke="#000000" stroke-width="3.20"/>
<line x1="159.00" y1="957.50" x2="159.00" y2="987.50" stroke="#f18a22" stroke-width="3.20"/>
<circle cx="159.00" cy="897.50" r="4.4" fill="#fff" stroke="#2e8b2e" stroke-width="1.7"/>
<circle cx="159.00" cy="928.50" r="5.1" fill="#2e8b2e"/>
<circle cx="159.00" cy="957.50" r="5.1" fill="#000000"/>
<circle cx="159.00" cy="987.50" r="5.1" fill="#f18a22"/>
<text transform="translate(167.50,915.00) " font-size="17.20" fill="#2e8b2e" text-anchor="start"><tspan font-style="italic">del(14q), NOTCH1</tspan></text>
<text transform="translate(149.00,934.20) " font-size="17.20" fill="#2e8b2e" text-anchor="end">Cl. 0</text>
<text transform="translate(149.00,963.20) " font-size="17.20" fill="#000000" text-anchor="end">Cl. 1</text>
<text transform="translate(149.00,993.20) " font-size="17.20" fill="#f18a22" text-anchor="end">Cl. 2</text>
<clipPath id="cp6"><rect x="407.5" y="867.2" width="165.0" height="122.8"/></clipPath>
<g clip-path="url(#cp6)">
<polyline points="408.0,946.1 466.5,942.8 572.7,951.6" fill="none" stroke="#333" stroke-width="30.00" stroke-opacity="0.160" stroke-linejoin="round" stroke-linecap="round"/>
<polyline points="408.0,946.1 466.5,942.8 572.7,951.6" fill="none" stroke="#333" stroke-width="25.60" stroke-opacity="0.160" stroke-linejoin="round" stroke-linecap="round"/>
<polyline points="408.0,946.1 466.5,942.8 572.7,951.6" fill="none" stroke="#333" stroke-width="21.20" stroke-opacity="0.160" stroke-linejoin="round" stroke-linecap="round"/>
<polyline points="408.0,946.1 466.5,942.8 572.7,951.6" fill="none" stroke="#333" stroke-width="16.80" stroke-opacity="0.160" stroke-linejoin="round" stroke-linecap="round"/>
<polyline points="408.0,946.1 466.5,942.8 572.7,951.6" fill="none" stroke="#333" stroke-width="12.40" stroke-opacity="0.160" stroke-linejoin="round" stroke-linecap="round"/>
<polyline points="408.0,946.1 466.5,942.8 572.7,951.6" fill="none" stroke="#333" stroke-width="8.00" stroke-opacity="0.550" stroke-linejoin="round" stroke-linecap="round"/>
<polyline points="408.0,980.9 466.5,976.6 572.7,974.4" fill="none" stroke="#f4b0a0" stroke-width="10.00" stroke-opacity="0.300" stroke-linejoin="round" stroke-linecap="round"/>
<polyline points="408.0,980.9 466.5,976.6 572.7,974.4" fill="none" stroke="#f18a22" stroke-width="7.00" stroke-opacity="0.950" stroke-linejoin="round" stroke-linecap="round"/>
<line x1="408.00" y1="930.34" x2="408.00" y2="955.36" stroke="#1a2a22" stroke-width="1.80" stroke-opacity="0.4" stroke-linecap="round"/>
<line x1="466.48" y1="922.72" x2="466.48" y2="956.45" stroke="#1a2a22" stroke-width="1.80" stroke-opacity="0.4" stroke-linecap="round"/>
<line x1="572.67" y1="933.60" x2="572.67" y2="960.80" stroke="#1a2a22" stroke-width="1.80" stroke-opacity="0.4" stroke-linecap="round"/>
</g>
<line x1="407.50" y1="879.20" x2="572.50" y2="879.20" stroke="#3a9a3a" stroke-width="1.60"/>
<line x1="400.50" y1="878.40" x2="400.50" y2="988.80" stroke="#222" stroke-width="1.60"/>
<line x1="396.00" y1="879.20" x2="400.50" y2="879.20" stroke="#222" stroke-width="1.40"/>
<text transform="translate(394.00,887.50) scale(1.070,1.000)" font-size="15.60" fill="#111" text-anchor="end">1.0</text>
<line x1="396.00" y1="906.40" x2="400.50" y2="906.40" stroke="#222" stroke-width="1.40"/>
<line x1="396.00" y1="933.60" x2="400.50" y2="933.60" stroke="#222" stroke-width="1.40"/>
<text transform="translate(394.00,941.90) scale(1.070,1.000)" font-size="15.60" fill="#111" text-anchor="end">0.5</text>
<line x1="396.00" y1="960.80" x2="400.50" y2="960.80" stroke="#222" stroke-width="1.40"/>
<line x1="396.00" y1="988.00" x2="400.50" y2="988.00" stroke="#222" stroke-width="1.40"/>
<text transform="translate(394.00,996.30) scale(1.070,1.000)" font-size="15.60" fill="#111" text-anchor="end">0</text>
<line x1="404.50" y1="991.20" x2="573.30" y2="991.20" stroke="#222" stroke-width="1.60"/>
<line x1="408.00" y1="991.20" x2="408.00" y2="995.70" stroke="#222" stroke-width="1.40"/>
<text transform="translate(408.00,1011.70) scale(1.070,1.000)" font-size="15.60" fill="#111" text-anchor="middle">1</text>
<line x1="438.78" y1="991.20" x2="438.78" y2="995.70" stroke="#222" stroke-width="1.40"/>
<text transform="translate(438.78,1011.70) scale(1.070,1.000)" font-size="15.60" fill="#111" text-anchor="middle">2</text>
<line x1="469.56" y1="991.20" x2="469.56" y2="995.70" stroke="#222" stroke-width="1.40"/>
<text transform="translate(469.56,1011.70) scale(1.070,1.000)" font-size="15.60" fill="#111" text-anchor="middle">3</text>
<line x1="500.34" y1="991.20" x2="500.34" y2="995.70" stroke="#222" stroke-width="1.40"/>
<text transform="translate(500.34,1011.70) scale(1.070,1.000)" font-size="15.60" fill="#111" text-anchor="middle">4</text>
<line x1="531.12" y1="991.20" x2="531.12" y2="995.70" stroke="#222" stroke-width="1.40"/>
<text transform="translate(531.12,1011.70) scale(1.070,1.000)" font-size="15.60" fill="#111" text-anchor="middle">5</text>
<line x1="561.90" y1="991.20" x2="561.90" y2="995.70" stroke="#222" stroke-width="1.40"/>
<text transform="translate(561.90,1011.70) scale(1.070,1.000)" font-size="15.60" fill="#111" text-anchor="middle">6</text>
<text transform="translate(489.50,1028.80) scale(1.070,1.150)" font-size="17.00" fill="#111" text-anchor="middle">Years</text>
<text transform="translate(364.00,933.60) rotate(-90) scale(1.070,1.150)" font-size="16.60" fill="#111" text-anchor="middle">CCF</text>
<line x1="744.70" y1="888.00" x2="744.70" y2="991.00" stroke="#111" stroke-width="1.3" stroke-dasharray="1.6,1.6"/>
<polyline points="672.3,987.7 740.6,987.7 741.8,987.6 742.5,987.3 743.3,985.8 743.7,983.3 744.5,975.3 746.4,929.0 746.9,922.1 747.1,921.2 747.4,922.1 747.8,929.0 749.8,975.3 750.5,983.3 751.0,985.8 751.7,987.3 752.4,987.6 753.6,987.7 817.1,987.7" fill="none" stroke="#0f2a22" stroke-width="1.90" stroke-opacity="1.000" stroke-linejoin="round"/>
<polyline points="672.3,987.7 746.9,987.7 748.1,987.6 748.6,987.2 749.3,984.8 750.0,976.2 750.7,955.9 751.9,909.5 752.4,903.0 752.9,909.5 754.1,955.9 754.8,976.2 755.6,984.8 756.3,987.2 756.8,987.6 758.0,987.7 817.1,987.7" fill="none" stroke="#f18a22" stroke-width="1.90" stroke-opacity="1.000" stroke-linejoin="round"/>
<rect x="662.40" y="887.00" width="164.60" height="105.00" fill="none" stroke="#222" stroke-width="1.7"/>
<line x1="672.34" y1="992.00" x2="672.34" y2="997.00" stroke="#222" stroke-width="1.40"/>
<line x1="696.46" y1="992.00" x2="696.46" y2="997.00" stroke="#222" stroke-width="1.40"/>
<text transform="translate(695.26,1012.70) scale(1.160,1.120)" font-size="15.00" fill="#111" text-anchor="middle">-2</text>
<line x1="720.58" y1="992.00" x2="720.58" y2="997.00" stroke="#222" stroke-width="1.40"/>
<line x1="744.70" y1="992.00" x2="744.70" y2="997.00" stroke="#222" stroke-width="1.40"/>
<text transform="translate(744.70,1012.70) scale(1.160,1.120)" font-size="15.00" fill="#111" text-anchor="middle">0</text>
<line x1="768.82" y1="992.00" x2="768.82" y2="997.00" stroke="#222" stroke-width="1.40"/>
<line x1="792.94" y1="992.00" x2="792.94" y2="997.00" stroke="#222" stroke-width="1.40"/>
<text transform="translate(792.94,1012.70) scale(1.160,1.120)" font-size="15.00" fill="#111" text-anchor="middle">2</text>
<line x1="817.06" y1="992.00" x2="817.06" y2="997.00" stroke="#222" stroke-width="1.40"/>
<line x1="657.90" y1="987.70" x2="662.40" y2="987.70" stroke="#222" stroke-width="1.40"/>
<text transform="translate(654.40,997.50) scale(0.920,1.280)" font-size="14.60" fill="#111" text-anchor="end">0</text>
<line x1="657.90" y1="963.50" x2="662.40" y2="963.50" stroke="#222" stroke-width="1.40"/>
<text transform="translate(654.40,973.30) scale(0.920,1.280)" font-size="14.60" fill="#111" text-anchor="end">2</text>
<line x1="657.90" y1="939.30" x2="662.40" y2="939.30" stroke="#222" stroke-width="1.40"/>
<text transform="translate(654.40,949.10) scale(0.920,1.280)" font-size="14.60" fill="#111" text-anchor="end">4</text>
<line x1="657.90" y1="915.10" x2="662.40" y2="915.10" stroke="#222" stroke-width="1.40"/>
<text transform="translate(654.40,924.90) scale(0.920,1.280)" font-size="14.60" fill="#111" text-anchor="end">6</text>
<text transform="translate(739.30,919.20) scale(1.160,1.000)" font-size="15.20" fill="#000000" text-anchor="middle">1</text>
<text transform="translate(753.00,900.70) scale(1.160,1.000)" font-size="15.20" fill="#f18a22" text-anchor="middle">2</text>
<text transform="translate(636.00,939.50) rotate(-90) scale(1.137,1.070)" font-size="16.20" fill="#111" text-anchor="middle">Probability</text>
<line x1="949.20" y1="885.90" x2="949.20" y2="991.00" stroke="#2e9a2e" stroke-width="1.3" stroke-dasharray="1.6,1.6"/>
<polyline points="876.5,987.7 941.4,987.7 942.7,987.6 943.4,987.1 944.1,985.3 944.6,982.1 945.3,971.8 947.3,912.2 947.7,903.4 948.0,902.2 948.2,903.4 948.7,912.2 950.7,971.8 951.4,982.1 951.9,985.3 952.6,987.1 953.3,987.6 954.5,987.7 1021.9,987.7" fill="none" stroke="#0f2a22" stroke-width="1.90" stroke-opacity="1.000" stroke-linejoin="round"/>
<polyline points="876.5,987.7 944.1,987.7 945.8,987.6 946.8,987.2 947.5,986.1 948.2,983.5 949.2,975.6 950.2,960.5 951.9,925.9 952.3,919.9 952.8,917.7 953.3,919.9 953.8,925.9 955.5,960.5 956.5,975.6 957.4,983.5 958.2,986.1 958.9,987.2 959.9,987.6 961.6,987.7 1021.9,987.7" fill="none" stroke="#f18a22" stroke-width="1.90" stroke-opacity="1.000" stroke-linejoin="round"/>
<rect x="867.70" y="884.90" width="163.70" height="107.10" fill="none" stroke="#222" stroke-width="1.7"/>
<line x1="876.51" y1="992.00" x2="876.51" y2="997.00" stroke="#222" stroke-width="1.40"/>
<line x1="900.74" y1="992.00" x2="900.74" y2="997.00" stroke="#222" stroke-width="1.40"/>
<text transform="translate(899.54,1012.70) scale(1.160,1.120)" font-size="15.00" fill="#111" text-anchor="middle">-2</text>
<line x1="924.97" y1="992.00" x2="924.97" y2="997.00" stroke="#222" stroke-width="1.40"/>
<line x1="949.20" y1="992.00" x2="949.20" y2="997.00" stroke="#222" stroke-width="1.40"/>
<text transform="translate(949.20,1012.70) scale(1.160,1.120)" font-size="15.00" fill="#111" text-anchor="middle">0</text>
<line x1="973.43" y1="992.00" x2="973.43" y2="997.00" stroke="#222" stroke-width="1.40"/>
<line x1="997.66" y1="992.00" x2="997.66" y2="997.00" stroke="#222" stroke-width="1.40"/>
<text transform="translate(997.66,1012.70) scale(1.160,1.120)" font-size="15.00" fill="#111" text-anchor="middle">2</text>
<line x1="1021.89" y1="992.00" x2="1021.89" y2="997.00" stroke="#222" stroke-width="1.40"/>
<line x1="863.20" y1="987.70" x2="867.70" y2="987.70" stroke="#222" stroke-width="1.40"/>
<text transform="translate(859.70,997.50) scale(0.920,1.280)" font-size="14.60" fill="#111" text-anchor="end">0</text>
<line x1="863.20" y1="956.60" x2="867.70" y2="956.60" stroke="#222" stroke-width="1.40"/>
<text transform="translate(859.70,966.40) scale(0.920,1.280)" font-size="14.60" fill="#111" text-anchor="end">2</text>
<line x1="863.20" y1="925.50" x2="867.70" y2="925.50" stroke="#222" stroke-width="1.40"/>
<text transform="translate(859.70,935.30) scale(0.920,1.280)" font-size="14.60" fill="#111" text-anchor="end">4</text>
<line x1="863.20" y1="894.40" x2="867.70" y2="894.40" stroke="#222" stroke-width="1.40"/>
<text transform="translate(859.70,904.20) scale(0.920,1.280)" font-size="14.60" fill="#111" text-anchor="end">6</text>
<text transform="translate(1040.50,904.20) scale(1.160,1.050)" font-size="15.80" fill="#f18a22" text-anchor="start">2</text>
<text transform="translate(1040.50,918.60) scale(1.160,1.050)" font-size="15.80" fill="#000000" text-anchor="start">1</text>
<text transform="translate(1040.50,933.00) scale(1.160,1.050)" font-size="15.80" fill="#2e8b2e" text-anchor="start">0</text>
<text transform="translate(0.00,1077.50) " font-size="20.50" fill="#111" text-anchor="start">Pt. 8</text>
<line x1="171.00" y1="1062.50" x2="171.00" y2="1089.00" stroke="#2e8b2e" stroke-width="3.10"/>
<line x1="171.00" y1="1089.00" x2="116.50" y2="1114.00" stroke="#5ebfea" stroke-width="3.20"/>
<line x1="171.00" y1="1089.00" x2="225.00" y2="1111.00" stroke="#000000" stroke-width="3.20"/>
<circle cx="171.00" cy="1058.50" r="4.4" fill="#fff" stroke="#2e8b2e" stroke-width="1.7"/>
<circle cx="171.00" cy="1089.00" r="5.1" fill="#2e8b2e"/>
<circle cx="116.50" cy="1114.00" r="5.1" fill="#5ebfea"/>
<circle cx="225.00" cy="1111.00" r="5.1" fill="#000000"/>
<text transform="translate(180.00,1081.00) " font-size="17.20" fill="#2e8b2e" text-anchor="start"><tspan font-style="italic">SF3B1</tspan></text>
<text transform="translate(152.50,1115.00) " font-size="17.20" fill="#2e8b2e" text-anchor="start">Cl. 0</text>
<text transform="translate(70.00,1126.00) " font-size="17.20" fill="#5ebfea" text-anchor="start">Cl. 1</text>
<text transform="translate(235.00,1127.50) " font-size="17.20" fill="#000000" text-anchor="start">Cl. 2</text>
<clipPath id="cp7"><rect x="408.0" y="1030.9" width="164.5" height="130.0"/></clipPath>
<g clip-path="url(#cp7)">
<polyline points="408.3,1116.0 458.1,1110.2 571.2,1104.4" fill="none" stroke="#d6c6ee" stroke-width="20.00" stroke-opacity="0.300" stroke-linejoin="round" stroke-linecap="round"/>
<polyline points="408.3,1116.0 458.1,1110.2 571.2,1104.4" fill="none" stroke="#5ebfea" stroke-width="12.00" stroke-opacity="0.920" stroke-linejoin="round" stroke-linecap="round"/>
<polyline points="408.3,1131.6 458.1,1130.5 571.2,1134.5" fill="none" stroke="#0f2a22" stroke-width="20.00" stroke-opacity="0.100" stroke-linejoin="round" stroke-linecap="round"/>
<polyline points="408.3,1131.6 458.1,1130.5 571.2,1134.5" fill="none" stroke="#0f2a22" stroke-width="16.50" stroke-opacity="0.100" stroke-linejoin="round" stroke-linecap="round"/>
<polyline points="408.3,1131.6 458.1,1130.5 571.2,1134.5" fill="none" stroke="#0f2a22" stroke-width="13.00" stroke-opacity="0.100" stroke-linejoin="round" stroke-linecap="round"/>
<polyline points="408.3,1131.6 458.1,1130.5 571.2,1134.5" fill="none" stroke="#0f2a22" stroke-width="9.50" stroke-opacity="0.100" stroke-linejoin="round" stroke-linecap="round"/>
<polyline points="408.3,1131.6 458.1,1130.5 571.2,1134.5" fill="none" stroke="#0f2a22" stroke-width="6.00" stroke-opacity="0.950" stroke-linejoin="round" stroke-linecap="round"/>
<line x1="458.08" y1="1103.22" x2="458.08" y2="1135.70" stroke="#1a2a22" stroke-width="1.80" stroke-opacity="0.4" stroke-linecap="round"/>
</g>
<line x1="408.00" y1="1042.90" x2="572.50" y2="1042.90" stroke="#3a9a3a" stroke-width="1.60"/>
<line x1="400.50" y1="1042.10" x2="400.50" y2="1149.00" stroke="#222" stroke-width="1.60"/>
<line x1="396.00" y1="1042.90" x2="400.50" y2="1042.90" stroke="#222" stroke-width="1.40"/>
<text transform="translate(394.00,1051.20) scale(1.070,1.000)" font-size="15.60" fill="#111" text-anchor="end">1.0</text>
<line x1="396.00" y1="1066.10" x2="400.50" y2="1066.10" stroke="#222" stroke-width="1.40"/>
<text transform="translate(394.00,1074.40) scale(1.070,1.000)" font-size="15.60" fill="#111" text-anchor="end">0.8</text>
<line x1="396.00" y1="1089.30" x2="400.50" y2="1089.30" stroke="#222" stroke-width="1.40"/>
<text transform="translate(394.00,1097.60) scale(1.070,1.000)" font-size="15.60" fill="#111" text-anchor="end">0.6</text>
<line x1="396.00" y1="1112.50" x2="400.50" y2="1112.50" stroke="#222" stroke-width="1.40"/>
<text transform="translate(394.00,1120.80) scale(1.070,1.000)" font-size="15.60" fill="#111" text-anchor="end">0.4</text>
<line x1="396.00" y1="1135.70" x2="400.50" y2="1135.70" stroke="#222" stroke-width="1.40"/>
<text transform="translate(394.00,1144.00) scale(1.070,1.000)" font-size="15.60" fill="#111" text-anchor="end">0.2</text>
<line x1="403.20" y1="1153.00" x2="572.80" y2="1153.00" stroke="#222" stroke-width="1.60"/>
<line x1="405.30" y1="1153.00" x2="405.30" y2="1157.50" stroke="#222" stroke-width="1.40"/>
<text transform="translate(405.30,1173.20) scale(1.070,1.000)" font-size="15.60" fill="#111" text-anchor="middle">2.5</text>
<line x1="443.00" y1="1153.00" x2="443.00" y2="1157.50" stroke="#222" stroke-width="1.40"/>
<text transform="translate(443.00,1173.20) scale(1.070,1.000)" font-size="15.60" fill="#111" text-anchor="middle">3.0</text>
<line x1="480.70" y1="1153.00" x2="480.70" y2="1157.50" stroke="#222" stroke-width="1.40"/>
<text transform="translate(480.70,1173.20) scale(1.070,1.000)" font-size="15.60" fill="#111" text-anchor="middle">3.5</text>
<line x1="518.40" y1="1153.00" x2="518.40" y2="1157.50" stroke="#222" stroke-width="1.40"/>
<text transform="translate(518.40,1173.20) scale(1.070,1.000)" font-size="15.60" fill="#111" text-anchor="middle">4.0</text>
<line x1="556.10" y1="1153.00" x2="556.10" y2="1157.50" stroke="#222" stroke-width="1.40"/>
<text transform="translate(556.10,1173.20) scale(1.070,1.000)" font-size="15.60" fill="#111" text-anchor="middle">4.5</text>
<text transform="translate(489.50,1189.00) scale(1.070,1.150)" font-size="17.00" fill="#111" text-anchor="middle">Years</text>
<text transform="translate(364.00,1100.90) rotate(-90) scale(1.070,1.150)" font-size="16.60" fill="#111" text-anchor="middle">CCF</text>
<line x1="744.70" y1="1049.60" x2="744.70" y2="1152.60" stroke="#111" stroke-width="1.3" stroke-dasharray="1.6,1.6"/>
<polyline points="672.3,1149.3 744.9,1149.3 747.4,1149.2 748.8,1148.6 749.8,1147.4 750.5,1145.7 751.2,1142.8 751.9,1138.3 753.1,1126.9 755.6,1097.9 756.3,1092.9 756.8,1091.6 757.0,1091.6 757.5,1092.9 758.2,1097.8 760.6,1123.7 762.1,1134.6 762.8,1137.8 763.8,1140.4 765.0,1142.1 767.4,1144.6 769.8,1146.7 771.7,1148.0 773.6,1148.7 776.1,1149.1 781.1,1149.3 817.1,1149.3" fill="none" stroke="#5ebfea" stroke-width="1.90" stroke-opacity="1.000" stroke-linejoin="round"/>
<polyline points="672.3,1149.3 739.6,1149.3 742.5,1148.9 743.7,1148.3 744.7,1147.4 746.4,1145.0 747.6,1142.0 748.3,1138.8 749.0,1133.2 750.2,1114.9 752.2,1070.3 752.7,1063.8 752.9,1062.2 753.1,1061.9 753.6,1065.2 754.1,1073.1 755.8,1116.0 756.8,1134.5 757.7,1144.2 758.2,1146.5 758.9,1148.3 759.9,1149.1 761.6,1149.3 817.1,1149.3" fill="none" stroke="#0f2a22" stroke-width="1.90" stroke-opacity="1.000" stroke-linejoin="round"/>
<rect x="662.40" y="1048.60" width="164.60" height="105.00" fill="none" stroke="#222" stroke-width="1.7"/>
<line x1="672.34" y1="1153.60" x2="672.34" y2="1158.60" stroke="#222" stroke-width="1.40"/>
<line x1="696.46" y1="1153.60" x2="696.46" y2="1158.60" stroke="#222" stroke-width="1.40"/>
<text transform="translate(695.26,1174.30) scale(1.160,1.120)" font-size="15.00" fill="#111" text-anchor="middle">-2</text>
<line x1="720.58" y1="1153.60" x2="720.58" y2="1158.60" stroke="#222" stroke-width="1.40"/>
<line x1="744.70" y1="1153.60" x2="744.70" y2="1158.60" stroke="#222" stroke-width="1.40"/>
<text transform="translate(744.70,1174.30) scale(1.160,1.120)" font-size="15.00" fill="#111" text-anchor="middle">0</text>
<line x1="768.82" y1="1153.60" x2="768.82" y2="1158.60" stroke="#222" stroke-width="1.40"/>
<line x1="792.94" y1="1153.60" x2="792.94" y2="1158.60" stroke="#222" stroke-width="1.40"/>
<text transform="translate(792.94,1174.30) scale(1.160,1.120)" font-size="15.00" fill="#111" text-anchor="middle">2</text>
<line x1="817.06" y1="1153.60" x2="817.06" y2="1158.60" stroke="#222" stroke-width="1.40"/>
<line x1="657.90" y1="1149.30" x2="662.40" y2="1149.30" stroke="#222" stroke-width="1.40"/>
<text transform="translate(654.40,1159.10) scale(0.920,1.280)" font-size="14.60" fill="#111" text-anchor="end">0</text>
<line x1="657.90" y1="1124.60" x2="662.40" y2="1124.60" stroke="#222" stroke-width="1.40"/>
<text transform="translate(654.40,1134.40) scale(0.920,1.280)" font-size="14.60" fill="#111" text-anchor="end">1</text>
<line x1="657.90" y1="1099.90" x2="662.40" y2="1099.90" stroke="#222" stroke-width="1.40"/>
<text transform="translate(654.40,1109.70) scale(0.920,1.280)" font-size="14.60" fill="#111" text-anchor="end">2</text>
<line x1="657.90" y1="1075.20" x2="662.40" y2="1075.20" stroke="#222" stroke-width="1.40"/>
<text transform="translate(654.40,1085.00) scale(0.920,1.280)" font-size="14.60" fill="#111" text-anchor="end">3</text>
<text transform="translate(761.60,1065.70) scale(1.160,1.000)" font-size="15.20" fill="#000000" text-anchor="middle">2</text>
<text transform="translate(760.70,1089.30) scale(1.160,1.000)" font-size="15.20" fill="#5ebfea" text-anchor="middle">1</text>
<text transform="translate(632.00,1101.10) rotate(-90) scale(1.137,1.070)" font-size="16.20" fill="#111" text-anchor="middle">Probability</text>
<line x1="949.20" y1="1050.40" x2="949.20" y2="1152.60" stroke="#2e9a2e" stroke-width="1.3" stroke-dasharray="1.6,1.6"/>
<polyline points="876.5,1150.2 941.2,1150.2 943.1,1150.0 944.4,1149.2 945.1,1147.9 945.8,1145.3 946.5,1140.6 947.0,1135.9 948.2,1117.7 950.4,1073.7 951.1,1065.2 951.6,1063.5 952.1,1065.2 952.8,1073.7 955.0,1117.7 956.2,1135.9 956.7,1140.6 957.4,1145.3 958.2,1147.9 958.9,1149.2 960.1,1150.0 962.0,1150.2 1021.9,1150.2" fill="none" stroke="#5ebfea" stroke-width="1.90" stroke-opacity="1.000" stroke-linejoin="round"/>
<polyline points="876.5,1150.2 911.4,1150.2 918.2,1150.0 921.3,1149.6 924.0,1148.9 926.4,1147.7 928.8,1146.1 931.0,1143.9 933.0,1141.3 934.7,1138.0 936.1,1134.1 937.3,1129.9 938.8,1123.6 943.6,1098.2 945.1,1093.4 945.8,1092.2 946.3,1091.9 947.0,1092.3 947.7,1093.6 949.2,1099.0 950.7,1107.0 954.0,1128.2 956.2,1138.6 957.2,1142.0 958.4,1145.0 959.6,1147.1 961.1,1148.7 962.3,1149.4 963.5,1149.8 967.4,1150.2 1021.9,1150.2" fill="none" stroke="#0f2a22" stroke-width="1.90" stroke-opacity="1.000" stroke-linejoin="round"/>
<rect x="867.70" y="1049.40" width="163.70" height="104.20" fill="none" stroke="#222" stroke-width="1.7"/>
<line x1="876.51" y1="1153.60" x2="876.51" y2="1158.60" stroke="#222" stroke-width="1.40"/>
<line x1="900.74" y1="1153.60" x2="900.74" y2="1158.60" stroke="#222" stroke-width="1.40"/>
<text transform="translate(899.54,1174.30) scale(1.160,1.120)" font-size="15.00" fill="#111" text-anchor="middle">-2</text>
<line x1="924.97" y1="1153.60" x2="924.97" y2="1158.60" stroke="#222" stroke-width="1.40"/>
<line x1="949.20" y1="1153.60" x2="949.20" y2="1158.60" stroke="#222" stroke-width="1.40"/>
<text transform="translate(949.20,1174.30) scale(1.160,1.120)" font-size="15.00" fill="#111" text-anchor="middle">0</text>
<line x1="973.43" y1="1153.60" x2="973.43" y2="1158.60" stroke="#222" stroke-width="1.40"/>
<line x1="997.66" y1="1153.60" x2="997.66" y2="1158.60" stroke="#222" stroke-width="1.40"/>
<text transform="translate(997.66,1174.30) scale(1.160,1.120)" font-size="15.00" fill="#111" text-anchor="middle">2</text>
<line x1="1021.89" y1="1153.60" x2="1021.89" y2="1158.60" stroke="#222" stroke-width="1.40"/>
<line x1="863.20" y1="1150.20" x2="867.70" y2="1150.20" stroke="#222" stroke-width="1.40"/>
<text transform="translate(859.70,1160.00) scale(0.920,1.280)" font-size="14.60" fill="#111" text-anchor="end">0</text>
<line x1="863.20" y1="1113.30" x2="867.70" y2="1113.30" stroke="#222" stroke-width="1.40"/>
<text transform="translate(859.70,1123.10) scale(0.920,1.280)" font-size="14.60" fill="#111" text-anchor="end">1</text>
<line x1="863.20" y1="1076.40" x2="867.70" y2="1076.40" stroke="#222" stroke-width="1.40"/>
<text transform="translate(859.70,1086.20) scale(0.920,1.280)" font-size="14.60" fill="#111" text-anchor="end">2</text>
<text transform="translate(1040.50,1069.20) scale(1.160,1.050)" font-size="15.80" fill="#000000" text-anchor="start">2</text>
<text transform="translate(1040.50,1084.00) scale(1.160,1.050)" font-size="15.80" fill="#5ebfea" text-anchor="start">1</text>
<text transform="translate(1040.50,1098.80) scale(1.160,1.050)" font-size="15.80" fill="#2e8b2e" text-anchor="start">0</text>
<text transform="translate(0.00,1251.00) " font-size="20.50" fill="#111" text-anchor="start">Pt. 9</text>
<line x1="184.00" y1="1207.50" x2="184.00" y2="1235.00" stroke="#2e8b2e" stroke-width="3.10"/>
<line x1="184.00" y1="1235.00" x2="130.00" y2="1260.00" stroke="#5ebfea" stroke-width="3.20"/>
<line x1="184.00" y1="1235.00" x2="238.50" y2="1258.50" stroke="#000000" stroke-width="3.20"/>
<line x1="130.00" y1="1260.00" x2="130.00" y2="1303.00" stroke="#f18a22" stroke-width="3.20"/>
<line x1="238.50" y1="1258.50" x2="238.50" y2="1303.00" stroke="#5a6fe3" stroke-width="3.20"/>
<circle cx="184.00" cy="1203.50" r="4.4" fill="#fff" stroke="#2e8b2e" stroke-width="1.7"/>
<circle cx="184.00" cy="1235.00" r="5.1" fill="#2e8b2e"/>
<circle cx="130.00" cy="1260.00" r="5.1" fill="#5ebfea"/>
<circle cx="238.50" cy="1258.50" r="5.1" fill="#000000"/>
<circle cx="130.00" cy="1303.00" r="5.1" fill="#f18a22"/>
<circle cx="238.50" cy="1303.00" r="5.1" fill="#5a6fe3"/>
<text transform="translate(194.00,1224.00) " font-size="17.20" fill="#2e8b2e" text-anchor="start"><tspan font-style="italic">del</tspan>(1q),<tspan font-style="italic">amp</tspan>(3q)</text>
<text transform="translate(111.00,1236.00) " font-size="17.20" fill="#5ebfea" text-anchor="start"><tspan font-style="italic">KRAS</tspan></text>
<text transform="translate(167.50,1261.00) " font-size="17.20" fill="#2e8b2e" text-anchor="start">Cl. 0</text>
<text transform="translate(120.00,1267.50) " font-size="17.20" fill="#5ebfea" text-anchor="end">Cl. 3</text>
<text transform="translate(247.50,1267.50) " font-size="17.20" fill="#000000" text-anchor="start">Cl. 1</text>
<text transform="translate(129.00,1326.00) " font-size="17.20" fill="#f18a22" text-anchor="middle">Cl. 4</text>
<text transform="translate(241.00,1326.00) " font-size="17.20" fill="#5a6fe3" text-anchor="middle">Cl. 2</text>
<clipPath id="cp8"><rect x="404.0" y="1188.7" width="164.8" height="121.4"/></clipPath>
<g clip-path="url(#cp8)">
<polyline points="404.1,1301.7 429.3,1299.5 567.8,1281.2" fill="none" stroke="#f4a0a0" stroke-width="18.00" stroke-opacity="0.300" stroke-linejoin="round" stroke-linecap="round"/>
<polyline points="404.1,1301.7 429.3,1299.5 567.8,1281.2" fill="none" stroke="#f18a22" stroke-width="9.00" stroke-opacity="0.920" stroke-linejoin="round" stroke-linecap="round"/>
<polyline points="404.1,1292.0 429.3,1286.6 567.8,1220.0" fill="none" stroke="#d6c6ee" stroke-width="20.00" stroke-opacity="0.300" stroke-linejoin="round" stroke-linecap="round"/>
<polyline points="404.1,1292.0 429.3,1286.6 567.8,1220.0" fill="none" stroke="#5ebfea" stroke-width="14.00" stroke-opacity="0.920" stroke-linejoin="round" stroke-linecap="round"/>
<polygon points="404.1,1285.5 429.3,1286.6 567.8,1304.3 567.8,1307.0 429.3,1295.2 404.1,1295.2" fill="#5a6fe3" fill-opacity="0.900"/>
<polyline points="429.3,1295.7 486.6,1295.2" fill="none" stroke="#4f9a3a" stroke-width="5.00" stroke-opacity="0.550" stroke-linejoin="round" stroke-linecap="round"/>
<polyline points="404.1,1238.3 429.3,1254.4 472.5,1268.4 567.8,1304.9" fill="none" stroke="#0f2a22" stroke-width="20.00" stroke-opacity="0.100" stroke-linejoin="round" stroke-linecap="round"/>
<polyline points="404.1,1238.3 429.3,1254.4 472.5,1268.4 567.8,1304.9" fill="none" stroke="#0f2a22" stroke-width="16.50" stroke-opacity="0.100" stroke-linejoin="round" stroke-linecap="round"/>
<polyline points="404.1,1238.3 429.3,1254.4 472.5,1268.4 567.8,1304.9" fill="none" stroke="#0f2a22" stroke-width="13.00" stroke-opacity="0.100" stroke-linejoin="round" stroke-linecap="round"/>
<polyline points="404.1,1238.3 429.3,1254.4 472.5,1268.4 567.8,1304.9" fill="none" stroke="#0f2a22" stroke-width="9.50" stroke-opacity="0.100" stroke-linejoin="round" stroke-linecap="round"/>
<polyline points="404.1,1238.3 429.3,1254.4 472.5,1268.4 567.8,1304.9" fill="none" stroke="#0f2a22" stroke-width="6.00" stroke-opacity="0.930" stroke-linejoin="round" stroke-linecap="round"/>
<line x1="429.28" y1="1247.96" x2="429.28" y2="1260.84" stroke="#1a2a22" stroke-width="1.80" stroke-opacity="0.4" stroke-linecap="round"/>
<line x1="404.13" y1="1230.77" x2="404.13" y2="1245.81" stroke="#1a2a22" stroke-width="1.80" stroke-opacity="0.4" stroke-linecap="round"/>
</g>
<line x1="404.00" y1="1200.70" x2="568.80" y2="1200.70" stroke="#3a9a3a" stroke-width="1.60"/>
<line x1="400.50" y1="1199.90" x2="400.50" y2="1308.90" stroke="#222" stroke-width="1.60"/>
<line x1="396.00" y1="1200.70" x2="400.50" y2="1200.70" stroke="#222" stroke-width="1.40"/>
<text transform="translate(394.00,1209.00) scale(1.070,1.000)" font-size="15.60" fill="#111" text-anchor="end">1.0</text>
<line x1="396.00" y1="1227.55" x2="400.50" y2="1227.55" stroke="#222" stroke-width="1.40"/>
<line x1="396.00" y1="1254.40" x2="400.50" y2="1254.40" stroke="#222" stroke-width="1.40"/>
<text transform="translate(394.00,1262.70) scale(1.070,1.000)" font-size="15.60" fill="#111" text-anchor="end">0.5</text>
<line x1="396.00" y1="1281.25" x2="400.50" y2="1281.25" stroke="#222" stroke-width="1.40"/>
<line x1="396.00" y1="1308.10" x2="400.50" y2="1308.10" stroke="#222" stroke-width="1.40"/>
<text transform="translate(394.00,1316.40) scale(1.070,1.000)" font-size="15.60" fill="#111" text-anchor="end">0</text>
<line x1="403.20" y1="1312.70" x2="569.60" y2="1312.70" stroke="#222" stroke-width="1.60"/>
<line x1="416.00" y1="1312.70" x2="416.00" y2="1317.20" stroke="#222" stroke-width="1.40"/>
<text transform="translate(416.00,1332.30) scale(1.070,1.000)" font-size="15.60" fill="#111" text-anchor="middle">1</text>
<line x1="444.26" y1="1312.70" x2="444.26" y2="1317.20" stroke="#222" stroke-width="1.40"/>
<text transform="translate(444.26,1332.30) scale(1.070,1.000)" font-size="15.60" fill="#111" text-anchor="middle">2</text>
<line x1="472.52" y1="1312.70" x2="472.52" y2="1317.20" stroke="#222" stroke-width="1.40"/>
<text transform="translate(472.52,1332.30) scale(1.070,1.000)" font-size="15.60" fill="#111" text-anchor="middle">3</text>
<line x1="500.78" y1="1312.70" x2="500.78" y2="1317.20" stroke="#222" stroke-width="1.40"/>
<text transform="translate(500.78,1332.30) scale(1.070,1.000)" font-size="15.60" fill="#111" text-anchor="middle">4</text>
<line x1="529.04" y1="1312.70" x2="529.04" y2="1317.20" stroke="#222" stroke-width="1.40"/>
<text transform="translate(529.04,1332.30) scale(1.070,1.000)" font-size="15.60" fill="#111" text-anchor="middle">5</text>
<line x1="557.30" y1="1312.70" x2="557.30" y2="1317.20" stroke="#222" stroke-width="1.40"/>
<text transform="translate(557.30,1332.30) scale(1.070,1.000)" font-size="15.60" fill="#111" text-anchor="middle">6</text>
<text transform="translate(489.50,1349.50) scale(1.070,1.150)" font-size="17.00" fill="#111" text-anchor="middle">Years</text>
<text transform="translate(364.00,1254.40) rotate(-90) scale(1.070,1.150)" font-size="16.60" fill="#111" text-anchor="middle">CCF</text>
<line x1="744.70" y1="1208.10" x2="744.70" y2="1311.20" stroke="#111" stroke-width="1.3" stroke-dasharray="1.6,1.6"/>
<polyline points="672.3,1307.9 729.0,1307.9 730.7,1307.7 731.2,1307.1 731.7,1305.6 732.4,1299.9 734.1,1270.3 734.6,1266.4 734.8,1266.5 735.1,1267.9 736.3,1280.3 736.7,1282.7 737.5,1285.1 737.9,1288.1 739.6,1303.8 740.4,1306.7 741.1,1307.7 743.0,1307.9 817.1,1307.9" fill="none" stroke="#0f2a22" stroke-width="1.90" stroke-opacity="1.000" stroke-linejoin="round"/>
<polyline points="672.3,1307.9 750.2,1307.9 751.9,1307.8 752.7,1307.6 753.4,1306.9 753.9,1305.8 754.8,1300.9 755.6,1293.7 757.0,1274.3 757.5,1270.0 758.0,1268.4 758.4,1270.0 758.9,1274.3 760.4,1293.7 761.1,1300.9 762.1,1305.8 762.5,1306.9 763.0,1307.5 763.8,1307.8 765.2,1307.9 817.1,1307.9" fill="none" stroke="#f18a22" stroke-width="1.90" stroke-opacity="1.000" stroke-linejoin="round"/>
<polyline points="672.3,1307.9 753.9,1307.9 755.6,1307.8 756.0,1307.4 756.5,1306.4 757.2,1301.8 758.0,1290.9 759.2,1266.1 759.7,1262.6 760.1,1266.1 761.3,1290.9 762.1,1301.8 762.8,1306.4 763.5,1307.6 764.0,1307.8 765.2,1307.9 817.1,1307.9" fill="none" stroke="#5ebfea" stroke-width="1.90" stroke-opacity="1.000" stroke-linejoin="round"/>
<polyline points="672.3,1307.9 736.7,1307.9 737.7,1307.8 738.2,1306.2 738.7,1296.2 739.6,1228.1 739.9,1221.5 740.1,1228.1 741.1,1296.2 741.6,1306.2 742.0,1307.8 743.0,1307.9 817.1,1307.9" fill="none" stroke="#5a6fe3" stroke-width="1.90" stroke-opacity="1.000" stroke-linejoin="round"/>
<rect x="662.40" y="1207.10" width="164.60" height="105.10" fill="none" stroke="#222" stroke-width="1.7"/>
<line x1="672.34" y1="1312.20" x2="672.34" y2="1317.20" stroke="#222" stroke-width="1.40"/>
<line x1="696.46" y1="1312.20" x2="696.46" y2="1317.20" stroke="#222" stroke-width="1.40"/>
<text transform="translate(695.26,1332.90) scale(1.160,1.120)" font-size="15.00" fill="#111" text-anchor="middle">-2</text>
<line x1="720.58" y1="1312.20" x2="720.58" y2="1317.20" stroke="#222" stroke-width="1.40"/>
<line x1="744.70" y1="1312.20" x2="744.70" y2="1317.20" stroke="#222" stroke-width="1.40"/>
<text transform="translate(744.70,1332.90) scale(1.160,1.120)" font-size="15.00" fill="#111" text-anchor="middle">0</text>
<line x1="768.82" y1="1312.20" x2="768.82" y2="1317.20" stroke="#222" stroke-width="1.40"/>
<line x1="792.94" y1="1312.20" x2="792.94" y2="1317.20" stroke="#222" stroke-width="1.40"/>
<text transform="translate(792.94,1332.90) scale(1.160,1.120)" font-size="15.00" fill="#111" text-anchor="middle">2</text>
<line x1="817.06" y1="1312.20" x2="817.06" y2="1317.20" stroke="#222" stroke-width="1.40"/>
<line x1="657.90" y1="1307.90" x2="662.40" y2="1307.90" stroke="#222" stroke-width="1.40"/>
<text transform="translate(654.40,1317.70) scale(0.920,1.280)" font-size="14.60" fill="#111" text-anchor="end">0</text>
<line x1="657.90" y1="1291.44" x2="662.40" y2="1291.44" stroke="#222" stroke-width="1.40"/>
<text transform="translate(654.40,1301.24) scale(0.920,1.280)" font-size="14.60" fill="#111" text-anchor="end">2</text>
<line x1="657.90" y1="1274.98" x2="662.40" y2="1274.98" stroke="#222" stroke-width="1.40"/>
<text transform="translate(654.40,1284.78) scale(0.920,1.280)" font-size="14.60" fill="#111" text-anchor="end">4</text>
<line x1="657.90" y1="1258.52" x2="662.40" y2="1258.52" stroke="#222" stroke-width="1.40"/>
<text transform="translate(654.40,1268.32) scale(0.920,1.280)" font-size="14.60" fill="#111" text-anchor="end">6</text>
<line x1="657.90" y1="1242.06" x2="662.40" y2="1242.06" stroke="#222" stroke-width="1.40"/>
<text transform="translate(654.40,1251.86) scale(0.920,1.280)" font-size="14.60" fill="#111" text-anchor="end">8</text>
<line x1="657.90" y1="1225.60" x2="662.40" y2="1225.60" stroke="#222" stroke-width="1.40"/>
<text transform="translate(654.40,1235.40) scale(0.920,1.280)" font-size="14.60" fill="#111" text-anchor="end">10</text>
<text transform="translate(738.00,1217.90) scale(1.160,1.000)" font-size="15.20" fill="#5a6fe3" text-anchor="middle">4</text>
<text transform="translate(729.90,1265.00) scale(1.160,1.000)" font-size="15.20" fill="#000000" text-anchor="middle">2</text>
<text transform="translate(760.70,1257.30) scale(1.160,1.000)" font-size="15.20" fill="#5ebfea" text-anchor="middle">1</text>
<text transform="translate(752.20,1269.30) scale(1.160,1.000)" font-size="15.20" fill="#f18a22" text-anchor="middle">3</text>
<text transform="translate(635.00,1259.65) rotate(-90) scale(1.137,1.070)" font-size="16.20" fill="#111" text-anchor="middle">Probability</text>
<line x1="949.20" y1="1208.10" x2="949.20" y2="1311.20" stroke="#2e9a2e" stroke-width="1.3" stroke-dasharray="1.6,1.6"/>
<polyline points="876.5,1307.9 925.5,1307.9 926.7,1307.8 927.2,1307.4 927.6,1306.4 928.1,1303.6 928.8,1292.7 930.3,1243.4 930.8,1231.7 931.0,1229.6 931.3,1230.3 931.5,1233.4 932.5,1255.7 933.0,1262.7 933.2,1264.2 933.5,1264.7 933.9,1265.1 934.4,1267.9 936.4,1300.1 937.1,1305.7 937.8,1307.5 938.5,1307.8 939.8,1307.9 1021.9,1307.9" fill="none" stroke="#0f2a22" stroke-width="1.90" stroke-opacity="1.000" stroke-linejoin="round"/>
<polyline points="876.5,1307.9 939.3,1307.9 941.0,1307.8 941.9,1307.5 942.7,1306.7 943.4,1304.7 944.4,1298.7 945.3,1287.2 947.0,1260.8 947.5,1256.2 948.0,1254.5 948.5,1256.2 949.0,1260.8 950.7,1287.2 951.6,1298.7 952.6,1304.7 953.3,1306.7 954.0,1307.5 955.0,1307.8 956.7,1307.9 1021.9,1307.9" fill="none" stroke="#f18a22" stroke-width="1.90" stroke-opacity="1.000" stroke-linejoin="round"/>
<polyline points="876.5,1307.9 949.7,1307.9 951.1,1307.8 951.9,1307.3 952.6,1305.4 953.1,1302.2 953.8,1291.8 955.7,1231.7 956.2,1222.7 956.5,1221.6 956.7,1222.7 957.2,1231.7 959.1,1291.8 959.9,1302.2 960.3,1305.4 961.1,1307.3 961.8,1307.8 963.0,1307.9 1021.9,1307.9" fill="none" stroke="#5ebfea" stroke-width="1.90" stroke-opacity="1.000" stroke-linejoin="round"/>
<polyline points="876.5,1307.9 912.9,1307.9 916.0,1307.6 920.6,1306.5 922.5,1306.3 924.5,1306.5 928.8,1307.5 931.5,1307.7 933.0,1307.4 934.2,1306.7 935.4,1305.6 938.1,1302.4 938.8,1301.8 939.5,1301.6 940.2,1301.8 941.0,1302.4 944.4,1306.2 945.3,1306.7 946.3,1306.6 947.0,1306.0 947.7,1304.8 949.0,1301.1 949.9,1296.4 952.6,1280.2 953.3,1277.5 953.8,1276.6 954.0,1276.5 954.3,1276.6 954.8,1277.5 955.5,1280.2 958.2,1296.4 959.4,1302.1 960.1,1304.3 960.8,1305.8 961.6,1306.8 962.5,1307.5 964.0,1307.8 966.2,1307.9 1021.9,1307.9" fill="none" stroke="#5a6fe3" stroke-width="1.90" stroke-opacity="1.000" stroke-linejoin="round"/>
<rect x="867.70" y="1207.10" width="163.70" height="105.10" fill="none" stroke="#222" stroke-width="1.7"/>
<line x1="876.51" y1="1312.20" x2="876.51" y2="1317.20" stroke="#222" stroke-width="1.40"/>
<line x1="900.74" y1="1312.20" x2="900.74" y2="1317.20" stroke="#222" stroke-width="1.40"/>
<text transform="translate(899.54,1332.90) scale(1.160,1.120)" font-size="15.00" fill="#111" text-anchor="middle">-2</text>
<line x1="924.97" y1="1312.20" x2="924.97" y2="1317.20" stroke="#222" stroke-width="1.40"/>
<line x1="949.20" y1="1312.20" x2="949.20" y2="1317.20" stroke="#222" stroke-width="1.40"/>
<text transform="translate(949.20,1332.90) scale(1.160,1.120)" font-size="15.00" fill="#111" text-anchor="middle">0</text>
<line x1="973.43" y1="1312.20" x2="973.43" y2="1317.20" stroke="#222" stroke-width="1.40"/>
<line x1="997.66" y1="1312.20" x2="997.66" y2="1317.20" stroke="#222" stroke-width="1.40"/>
<text transform="translate(997.66,1332.90) scale(1.160,1.120)" font-size="15.00" fill="#111" text-anchor="middle">2</text>
<line x1="1021.89" y1="1312.20" x2="1021.89" y2="1317.20" stroke="#222" stroke-width="1.40"/>
<line x1="863.20" y1="1307.90" x2="867.70" y2="1307.90" stroke="#222" stroke-width="1.40"/>
<text transform="translate(859.70,1317.70) scale(0.920,1.280)" font-size="14.60" fill="#111" text-anchor="end">0</text>
<line x1="863.20" y1="1292.20" x2="867.70" y2="1292.20" stroke="#222" stroke-width="1.40"/>
<text transform="translate(859.70,1302.00) scale(0.920,1.280)" font-size="14.60" fill="#111" text-anchor="end">1</text>
<line x1="863.20" y1="1276.50" x2="867.70" y2="1276.50" stroke="#222" stroke-width="1.40"/>
<text transform="translate(859.70,1286.30) scale(0.920,1.280)" font-size="14.60" fill="#111" text-anchor="end">2</text>
<line x1="863.20" y1="1260.80" x2="867.70" y2="1260.80" stroke="#222" stroke-width="1.40"/>
<text transform="translate(859.70,1270.60) scale(0.920,1.280)" font-size="14.60" fill="#111" text-anchor="end">3</text>
<line x1="863.20" y1="1245.10" x2="867.70" y2="1245.10" stroke="#222" stroke-width="1.40"/>
<text transform="translate(859.70,1254.90) scale(0.920,1.280)" font-size="14.60" fill="#111" text-anchor="end">4</text>
<line x1="863.20" y1="1229.40" x2="867.70" y2="1229.40" stroke="#222" stroke-width="1.40"/>
<text transform="translate(859.70,1239.20) scale(0.920,1.280)" font-size="14.60" fill="#111" text-anchor="end">5</text>
<text transform="translate(1040.50,1224.40) scale(1.160,1.050)" font-size="15.80" fill="#f18a22" text-anchor="start">4</text>
<text transform="translate(1040.50,1239.40) scale(1.160,1.050)" font-size="15.80" fill="#5ebfea" text-anchor="start">3</text>
<text transform="translate(1040.50,1254.40) scale(1.160,1.050)" font-size="15.80" fill="#5a6fe3" text-anchor="start">2</text>
<text transform="translate(1040.50,1269.40) scale(1.160,1.050)" font-size="15.80" fill="#000000" text-anchor="start">1</text>
<text transform="translate(1040.50,1284.40) scale(1.160,1.050)" font-size="15.80" fill="#2e8b2e" text-anchor="start">0</text>
<text transform="translate(0.00,1394.00) " font-size="20.50" fill="#111" text-anchor="start">Pt. 10</text>
<rect x="103.5" y="1437.5" width="92.5" height="37.5" fill="#fcf7bd" stroke="#bdbdbd" stroke-width="2"/>
<line x1="159.00" y1="1369.00" x2="159.00" y2="1395.00" stroke="#2e8b2e" stroke-width="3.10"/>
<line x1="159.00" y1="1395.00" x2="159.00" y2="1425.00" stroke="#000000" stroke-width="3.20"/>
<line x1="159.00" y1="1425.00" x2="159.00" y2="1455.00" stroke="#f18a22" stroke-width="3.20"/>
<circle cx="159.00" cy="1365.00" r="4.4" fill="#fff" stroke="#2e8b2e" stroke-width="1.7"/>
<circle cx="159.00" cy="1395.00" r="5.1" fill="#2e8b2e"/>
<circle cx="159.00" cy="1425.00" r="5.1" fill="#000000"/>
<circle cx="159.00" cy="1455.00" r="5.1" fill="#f18a22"/>
<text transform="translate(167.50,1381.00) " font-size="17.20" fill="#2e8b2e" text-anchor="start"><tspan font-style="italic">del</tspan>(13q)</text>
<text transform="translate(149.00,1400.70) " font-size="17.20" fill="#2e8b2e" text-anchor="end">Cl. 0</text>
<text transform="translate(149.00,1430.70) " font-size="17.20" fill="#000000" text-anchor="end">Cl. 1</text>
<text transform="translate(149.00,1460.70) " font-size="17.20" fill="#f18a22" text-anchor="end">Cl. 2</text>
<clipPath id="cp9"><rect x="407.0" y="1350.0" width="163.0" height="121.2"/></clipPath>
<g clip-path="url(#cp9)">
<polyline points="407.5,1458.5 450.2,1459.6 571.8,1458.5" fill="none" stroke="#f4a0a0" stroke-width="16.00" stroke-opacity="0.300" stroke-linejoin="round" stroke-linecap="round"/>
<polyline points="407.5,1458.5 450.2,1459.6 571.8,1458.5" fill="none" stroke="#f18a22" stroke-width="11.00" stroke-opacity="0.920" stroke-linejoin="round" stroke-linecap="round"/>
<polyline points="407.5,1433.8 450.2,1426.3 571.8,1436.0" fill="none" stroke="#0f2a22" stroke-width="22.00" stroke-opacity="0.100" stroke-linejoin="round" stroke-linecap="round"/>
<polyline points="407.5,1433.8 450.2,1426.3 571.8,1436.0" fill="none" stroke="#0f2a22" stroke-width="18.75" stroke-opacity="0.100" stroke-linejoin="round" stroke-linecap="round"/>
<polyline points="407.5,1433.8 450.2,1426.3 571.8,1436.0" fill="none" stroke="#0f2a22" stroke-width="15.50" stroke-opacity="0.100" stroke-linejoin="round" stroke-linecap="round"/>
<polyline points="407.5,1433.8 450.2,1426.3 571.8,1436.0" fill="none" stroke="#0f2a22" stroke-width="12.25" stroke-opacity="0.100" stroke-linejoin="round" stroke-linecap="round"/>
<polyline points="407.5,1433.8 450.2,1426.3 571.8,1436.0" fill="none" stroke="#0f2a22" stroke-width="9.00" stroke-opacity="0.950" stroke-linejoin="round" stroke-linecap="round"/>
<line x1="450.19" y1="1419.89" x2="450.19" y2="1432.75" stroke="#1a2a22" stroke-width="1.80" stroke-opacity="0.4" stroke-linecap="round"/>
</g>
<line x1="407.00" y1="1362.00" x2="570.00" y2="1362.00" stroke="#3a9a3a" stroke-width="3.50"/>
<line x1="400.50" y1="1361.20" x2="400.50" y2="1470.00" stroke="#222" stroke-width="1.60"/>
<line x1="396.00" y1="1362.00" x2="400.50" y2="1362.00" stroke="#222" stroke-width="1.40"/>
<text transform="translate(394.00,1370.30) scale(1.070,1.000)" font-size="15.60" fill="#111" text-anchor="end">1.0</text>
<line x1="396.00" y1="1388.80" x2="400.50" y2="1388.80" stroke="#222" stroke-width="1.40"/>
<line x1="396.00" y1="1415.60" x2="400.50" y2="1415.60" stroke="#222" stroke-width="1.40"/>
<text transform="translate(394.00,1423.90) scale(1.070,1.000)" font-size="15.60" fill="#111" text-anchor="end">0.5</text>
<line x1="396.00" y1="1442.40" x2="400.50" y2="1442.40" stroke="#222" stroke-width="1.40"/>
<line x1="396.00" y1="1469.20" x2="400.50" y2="1469.20" stroke="#222" stroke-width="1.40"/>
<text transform="translate(394.00,1477.50) scale(1.070,1.000)" font-size="15.60" fill="#111" text-anchor="end">0</text>
<line x1="403.20" y1="1473.20" x2="572.80" y2="1473.20" stroke="#222" stroke-width="1.60"/>
<line x1="423.50" y1="1473.20" x2="423.50" y2="1477.70" stroke="#222" stroke-width="1.40"/>
<text transform="translate(423.50,1495.00) scale(1.070,1.000)" font-size="15.60" fill="#111" text-anchor="middle">2</text>
<line x1="482.80" y1="1473.20" x2="482.80" y2="1477.70" stroke="#222" stroke-width="1.40"/>
<text transform="translate(482.80,1495.00) scale(1.070,1.000)" font-size="15.60" fill="#111" text-anchor="middle">3</text>
<line x1="542.10" y1="1473.20" x2="542.10" y2="1477.70" stroke="#222" stroke-width="1.40"/>
<text transform="translate(542.10,1495.00) scale(1.070,1.000)" font-size="15.60" fill="#111" text-anchor="middle">4</text>
<line x1="453.15" y1="1473.20" x2="453.15" y2="1477.70" stroke="#222" stroke-width="1.40"/>
<line x1="512.45" y1="1473.20" x2="512.45" y2="1477.70" stroke="#222" stroke-width="1.40"/>
<line x1="571.75" y1="1473.20" x2="571.75" y2="1477.70" stroke="#222" stroke-width="1.40"/>
<text transform="translate(489.50,1510.80) scale(1.070,1.150)" font-size="17.00" fill="#111" text-anchor="middle">Years</text>
<text transform="translate(364.00,1415.60) rotate(-90) scale(1.070,1.150)" font-size="16.60" fill="#111" text-anchor="middle">CCF</text>
<line x1="744.70" y1="1370.30" x2="744.70" y2="1472.40" stroke="#111" stroke-width="1.3" stroke-dasharray="1.6,1.6"/>
<polyline points="672.3,1468.7 741.8,1468.7 743.5,1468.6 744.2,1468.1 744.9,1466.5 745.4,1464.2 746.4,1453.3 747.1,1437.6 748.6,1395.4 749.0,1385.9 749.5,1382.5 750.0,1385.9 750.5,1395.4 751.9,1437.6 752.7,1453.3 753.6,1464.2 754.1,1466.5 754.8,1468.1 755.6,1468.6 757.0,1468.7 817.1,1468.7" fill="none" stroke="#0f2a22" stroke-width="1.90" stroke-opacity="1.000" stroke-linejoin="round"/>
<polyline points="672.3,1468.7 731.7,1468.7 735.3,1468.5 737.5,1467.9 738.7,1467.2 739.9,1465.9 741.1,1464.0 742.0,1461.8 744.0,1455.7 748.3,1438.1 749.5,1435.1 750.2,1434.2 750.7,1434.0 751.2,1434.2 751.9,1435.1 753.1,1438.1 757.5,1455.7 759.4,1461.8 760.4,1464.0 761.3,1465.6 762.5,1467.0 763.8,1467.8 765.9,1468.5 769.3,1468.7 817.1,1468.7" fill="none" stroke="#f18a22" stroke-width="1.90" stroke-opacity="1.000" stroke-linejoin="round"/>
<rect x="662.40" y="1369.30" width="164.60" height="104.10" fill="none" stroke="#222" stroke-width="1.7"/>
<line x1="672.34" y1="1473.40" x2="672.34" y2="1478.40" stroke="#222" stroke-width="1.40"/>
<line x1="696.46" y1="1473.40" x2="696.46" y2="1478.40" stroke="#222" stroke-width="1.40"/>
<text transform="translate(695.26,1494.10) scale(1.160,1.120)" font-size="15.00" fill="#111" text-anchor="middle">-2</text>
<line x1="720.58" y1="1473.40" x2="720.58" y2="1478.40" stroke="#222" stroke-width="1.40"/>
<line x1="744.70" y1="1473.40" x2="744.70" y2="1478.40" stroke="#222" stroke-width="1.40"/>
<text transform="translate(744.70,1494.10) scale(1.160,1.120)" font-size="15.00" fill="#111" text-anchor="middle">0</text>
<line x1="768.82" y1="1473.40" x2="768.82" y2="1478.40" stroke="#222" stroke-width="1.40"/>
<line x1="792.94" y1="1473.40" x2="792.94" y2="1478.40" stroke="#222" stroke-width="1.40"/>
<text transform="translate(792.94,1494.10) scale(1.160,1.120)" font-size="15.00" fill="#111" text-anchor="middle">2</text>
<line x1="817.06" y1="1473.40" x2="817.06" y2="1478.40" stroke="#222" stroke-width="1.40"/>
<line x1="657.90" y1="1468.70" x2="662.40" y2="1468.70" stroke="#222" stroke-width="1.40"/>
<text transform="translate(654.40,1478.50) scale(0.920,1.280)" font-size="14.60" fill="#111" text-anchor="end">0</text>
<line x1="657.90" y1="1449.95" x2="662.40" y2="1449.95" stroke="#222" stroke-width="1.40"/>
<text transform="translate(654.40,1459.75) scale(0.920,1.280)" font-size="14.60" fill="#111" text-anchor="end">1</text>
<line x1="657.90" y1="1431.20" x2="662.40" y2="1431.20" stroke="#222" stroke-width="1.40"/>
<text transform="translate(654.40,1441.00) scale(0.920,1.280)" font-size="14.60" fill="#111" text-anchor="end">2</text>
<line x1="657.90" y1="1412.45" x2="662.40" y2="1412.45" stroke="#222" stroke-width="1.40"/>
<text transform="translate(654.40,1422.25) scale(0.920,1.280)" font-size="14.60" fill="#111" text-anchor="end">3</text>
<line x1="657.90" y1="1393.70" x2="662.40" y2="1393.70" stroke="#222" stroke-width="1.40"/>
<text transform="translate(654.40,1403.50) scale(0.920,1.280)" font-size="14.60" fill="#111" text-anchor="end">4</text>
<text transform="translate(754.30,1386.40) scale(1.160,1.000)" font-size="15.20" fill="#000000" text-anchor="middle">1</text>
<text transform="translate(760.70,1438.70) scale(1.160,1.000)" font-size="15.20" fill="#f18a22" text-anchor="middle">2</text>
<text transform="translate(636.00,1421.35) rotate(-90) scale(1.137,1.070)" font-size="16.20" fill="#111" text-anchor="middle">Probability</text>
<line x1="949.20" y1="1366.00" x2="949.20" y2="1473.30" stroke="#2e9a2e" stroke-width="1.3" stroke-dasharray="1.6,1.6"/>
<polyline points="876.5,1470.0 940.5,1470.0 941.9,1469.8 942.7,1469.4 943.4,1467.8 943.9,1465.3 944.8,1454.2 945.6,1438.0 947.0,1394.6 947.5,1384.8 948.0,1381.2 948.5,1384.8 949.0,1394.6 950.4,1438.0 951.1,1454.2 952.1,1465.3 952.6,1467.8 953.3,1469.4 954.0,1469.8 955.7,1470.0 1021.9,1470.0" fill="none" stroke="#0f2a22" stroke-width="1.90" stroke-opacity="1.000" stroke-linejoin="round"/>
<polyline points="876.5,1470.0 929.3,1470.0 932.7,1469.8 934.9,1469.2 936.1,1468.4 937.3,1467.2 938.3,1465.7 939.3,1463.7 941.2,1458.0 945.6,1441.9 946.8,1439.1 947.5,1438.3 948.0,1438.2 948.5,1438.3 949.2,1439.1 950.4,1441.9 954.8,1458.0 956.7,1463.7 957.7,1465.7 958.9,1467.5 960.1,1468.6 961.3,1469.3 963.5,1469.8 966.9,1470.0 1021.9,1470.0" fill="none" stroke="#f18a22" stroke-width="1.90" stroke-opacity="1.000" stroke-linejoin="round"/>
<rect x="867.70" y="1365.00" width="163.70" height="109.30" fill="none" stroke="#222" stroke-width="1.7"/>
<line x1="876.51" y1="1474.30" x2="876.51" y2="1479.30" stroke="#222" stroke-width="1.40"/>
<line x1="900.74" y1="1474.30" x2="900.74" y2="1479.30" stroke="#222" stroke-width="1.40"/>
<text transform="translate(899.54,1495.00) scale(1.160,1.120)" font-size="15.00" fill="#111" text-anchor="middle">-2</text>
<line x1="924.97" y1="1474.30" x2="924.97" y2="1479.30" stroke="#222" stroke-width="1.40"/>
<line x1="949.20" y1="1474.30" x2="949.20" y2="1479.30" stroke="#222" stroke-width="1.40"/>
<text transform="translate(949.20,1495.00) scale(1.160,1.120)" font-size="15.00" fill="#111" text-anchor="middle">0</text>
<line x1="973.43" y1="1474.30" x2="973.43" y2="1479.30" stroke="#222" stroke-width="1.40"/>
<line x1="997.66" y1="1474.30" x2="997.66" y2="1479.30" stroke="#222" stroke-width="1.40"/>
<text transform="translate(997.66,1495.00) scale(1.160,1.120)" font-size="15.00" fill="#111" text-anchor="middle">2</text>
<line x1="1021.89" y1="1474.30" x2="1021.89" y2="1479.30" stroke="#222" stroke-width="1.40"/>
<line x1="863.20" y1="1470.00" x2="867.70" y2="1470.00" stroke="#222" stroke-width="1.40"/>
<text transform="translate(859.70,1479.80) scale(0.920,1.280)" font-size="14.60" fill="#111" text-anchor="end">0</text>
<line x1="863.20" y1="1450.70" x2="867.70" y2="1450.70" stroke="#222" stroke-width="1.40"/>
<text transform="translate(859.70,1460.50) scale(0.920,1.280)" font-size="14.60" fill="#111" text-anchor="end">1</text>
<line x1="863.20" y1="1431.40" x2="867.70" y2="1431.40" stroke="#222" stroke-width="1.40"/>
<text transform="translate(859.70,1441.20) scale(0.920,1.280)" font-size="14.60" fill="#111" text-anchor="end">2</text>
<line x1="863.20" y1="1412.10" x2="867.70" y2="1412.10" stroke="#222" stroke-width="1.40"/>
<text transform="translate(859.70,1421.90) scale(0.920,1.280)" font-size="14.60" fill="#111" text-anchor="end">3</text>
<line x1="863.20" y1="1392.80" x2="867.70" y2="1392.80" stroke="#222" stroke-width="1.40"/>
<text transform="translate(859.70,1402.60) scale(0.920,1.280)" font-size="14.60" fill="#111" text-anchor="end">4</text>
<text transform="translate(1040.50,1381.40) scale(1.160,1.050)" font-size="15.80" fill="#f18a22" text-anchor="start">2</text>
<text transform="translate(1040.50,1395.80) scale(1.160,1.050)" font-size="15.80" fill="#000000" text-anchor="start">1</text>
<text transform="translate(1040.50,1410.20) scale(1.160,1.050)" font-size="15.80" fill="#2e8b2e" text-anchor="start">0</text>
<text transform="translate(0.00,1562.50) " font-size="20.50" fill="#111" text-anchor="start">Pt. 12</text>
<line x1="159.00" y1="1553.00" x2="159.00" y2="1578.50" stroke="#2e8b2e" stroke-width="3.10"/>
<line x1="159.00" y1="1578.50" x2="159.00" y2="1616.00" stroke="#000000" stroke-width="3.20"/>
<circle cx="159.00" cy="1549.00" r="4.4" fill="#fff" stroke="#2e8b2e" stroke-width="1.7"/>
<circle cx="159.00" cy="1578.50" r="5.1" fill="#2e8b2e"/>
<circle cx="159.00" cy="1616.00" r="5.1" fill="#000000"/>
<text transform="translate(169.00,1569.00) " font-size="17.20" fill="#2e8b2e" text-anchor="start"><tspan font-style="italic">POT1, NOTCH1</tspan></text>
<text transform="translate(149.00,1584.20) " font-size="17.20" fill="#2e8b2e" text-anchor="end">Cl. 0</text>
<text transform="translate(149.00,1621.70) " font-size="17.20" fill="#000000" text-anchor="end">Cl. 1</text>
<clipPath id="cp10"><rect x="404.0" y="1522.5" width="163.0" height="119.8"/></clipPath>
<g clip-path="url(#cp10)">
<polyline points="405.3,1631.3 567.9,1624.4" fill="none" stroke="#1a1a1a" stroke-width="20.00" stroke-opacity="0.120" stroke-linejoin="round" stroke-linecap="round"/>
<polyline points="405.3,1631.3 567.9,1624.4" fill="none" stroke="#1a1a1a" stroke-width="16.00" stroke-opacity="0.120" stroke-linejoin="round" stroke-linecap="round"/>
<polyline points="405.3,1631.3 567.9,1624.4" fill="none" stroke="#1a1a1a" stroke-width="12.00" stroke-opacity="0.120" stroke-linejoin="round" stroke-linecap="round"/>
<polyline points="405.3,1631.3 567.9,1624.4" fill="none" stroke="#1a1a1a" stroke-width="8.00" stroke-opacity="0.820" stroke-linejoin="round" stroke-linecap="round"/>
</g>
<line x1="404.00" y1="1534.50" x2="567.00" y2="1534.50" stroke="#3a9a3a" stroke-width="1.60"/>
<line x1="400.50" y1="1533.70" x2="400.50" y2="1641.10" stroke="#222" stroke-width="1.60"/>
<line x1="396.00" y1="1534.50" x2="400.50" y2="1534.50" stroke="#222" stroke-width="1.40"/>
<text transform="translate(394.00,1542.80) scale(1.070,1.000)" font-size="15.60" fill="#111" text-anchor="end">1.0</text>
<line x1="396.00" y1="1560.95" x2="400.50" y2="1560.95" stroke="#222" stroke-width="1.40"/>
<line x1="396.00" y1="1587.40" x2="400.50" y2="1587.40" stroke="#222" stroke-width="1.40"/>
<text transform="translate(394.00,1595.70) scale(1.070,1.000)" font-size="15.60" fill="#111" text-anchor="end">0.5</text>
<line x1="396.00" y1="1613.85" x2="400.50" y2="1613.85" stroke="#222" stroke-width="1.40"/>
<line x1="396.00" y1="1640.30" x2="400.50" y2="1640.30" stroke="#222" stroke-width="1.40"/>
<text transform="translate(394.00,1648.60) scale(1.070,1.000)" font-size="15.60" fill="#111" text-anchor="end">0</text>
<line x1="403.20" y1="1644.90" x2="569.60" y2="1644.90" stroke="#222" stroke-width="1.60"/>
<line x1="405.30" y1="1644.90" x2="405.30" y2="1649.40" stroke="#222" stroke-width="1.40"/>
<text transform="translate(405.30,1664.80) scale(1.070,1.000)" font-size="15.60" fill="#111" text-anchor="middle">1.1</text>
<line x1="447.54" y1="1644.90" x2="447.54" y2="1649.40" stroke="#222" stroke-width="1.40"/>
<text transform="translate(447.54,1664.80) scale(1.070,1.000)" font-size="15.60" fill="#111" text-anchor="middle">1.3</text>
<line x1="489.78" y1="1644.90" x2="489.78" y2="1649.40" stroke="#222" stroke-width="1.40"/>
<text transform="translate(489.78,1664.80) scale(1.070,1.000)" font-size="15.60" fill="#111" text-anchor="middle">1.5</text>
<line x1="532.02" y1="1644.90" x2="532.02" y2="1649.40" stroke="#222" stroke-width="1.40"/>
<text transform="translate(532.02,1664.80) scale(1.070,1.000)" font-size="15.60" fill="#111" text-anchor="middle">1.7</text>
<line x1="426.42" y1="1644.90" x2="426.42" y2="1649.40" stroke="#222" stroke-width="1.40"/>
<line x1="468.66" y1="1644.90" x2="468.66" y2="1649.40" stroke="#222" stroke-width="1.40"/>
<line x1="510.90" y1="1644.90" x2="510.90" y2="1649.40" stroke="#222" stroke-width="1.40"/>
<line x1="553.14" y1="1644.90" x2="553.14" y2="1649.40" stroke="#222" stroke-width="1.40"/>
<text transform="translate(489.50,1681.70) scale(1.070,1.150)" font-size="17.00" fill="#111" text-anchor="middle">Years</text>
<text transform="translate(364.00,1587.40) rotate(-90) scale(1.070,1.150)" font-size="16.60" fill="#111" text-anchor="middle">CCF</text>
<line x1="744.70" y1="1540.90" x2="744.70" y2="1644.70" stroke="#111" stroke-width="1.3" stroke-dasharray="1.6,1.6"/>
<polyline points="672.3,1640.6 719.6,1640.6 731.7,1640.2 736.7,1639.7 740.8,1638.7 744.5,1637.1 747.6,1635.1 750.5,1632.4 753.4,1628.9 756.0,1624.6 758.7,1619.4 761.6,1612.7 764.5,1604.8 774.6,1573.3 778.7,1562.0 781.1,1556.8 783.3,1553.3 785.5,1551.0 786.4,1550.4 787.4,1550.1 788.4,1550.1 789.6,1550.5 790.8,1551.2 792.0,1552.4 794.4,1555.9 796.8,1560.7 799.0,1566.0 801.4,1572.7 812.0,1604.9 814.6,1611.9 817.1,1617.6" fill="none" stroke="#0f2a22" stroke-width="1.90" stroke-opacity="1.000" stroke-linejoin="round"/>
<rect x="662.40" y="1539.90" width="164.60" height="105.80" fill="none" stroke="#222" stroke-width="1.7"/>
<line x1="672.34" y1="1645.70" x2="672.34" y2="1650.70" stroke="#222" stroke-width="1.40"/>
<line x1="696.46" y1="1645.70" x2="696.46" y2="1650.70" stroke="#222" stroke-width="1.40"/>
<text transform="translate(695.26,1666.40) scale(1.160,1.120)" font-size="15.00" fill="#111" text-anchor="middle">-2</text>
<line x1="720.58" y1="1645.70" x2="720.58" y2="1650.70" stroke="#222" stroke-width="1.40"/>
<line x1="744.70" y1="1645.70" x2="744.70" y2="1650.70" stroke="#222" stroke-width="1.40"/>
<text transform="translate(744.70,1666.40) scale(1.160,1.120)" font-size="15.00" fill="#111" text-anchor="middle">0</text>
<line x1="768.82" y1="1645.70" x2="768.82" y2="1650.70" stroke="#222" stroke-width="1.40"/>
<line x1="792.94" y1="1645.70" x2="792.94" y2="1650.70" stroke="#222" stroke-width="1.40"/>
<text transform="translate(792.94,1666.40) scale(1.160,1.120)" font-size="15.00" fill="#111" text-anchor="middle">2</text>
<line x1="817.06" y1="1645.70" x2="817.06" y2="1650.70" stroke="#222" stroke-width="1.40"/>
<line x1="657.90" y1="1640.60" x2="662.40" y2="1640.60" stroke="#222" stroke-width="1.40"/>
<text transform="translate(654.40,1650.40) scale(0.920,1.280)" font-size="14.60" fill="#111" text-anchor="end">0</text>
<line x1="657.90" y1="1624.30" x2="662.40" y2="1624.30" stroke="#222" stroke-width="1.40"/>
<text transform="translate(654.40,1634.10) scale(0.920,1.280)" font-size="14.60" fill="#111" text-anchor="end">0.1</text>
<line x1="657.90" y1="1608.00" x2="662.40" y2="1608.00" stroke="#222" stroke-width="1.40"/>
<text transform="translate(654.40,1617.80) scale(0.920,1.280)" font-size="14.60" fill="#111" text-anchor="end">0.2</text>
<line x1="657.90" y1="1591.70" x2="662.40" y2="1591.70" stroke="#222" stroke-width="1.40"/>
<text transform="translate(654.40,1601.50) scale(0.920,1.280)" font-size="14.60" fill="#111" text-anchor="end">0.3</text>
<line x1="657.90" y1="1575.40" x2="662.40" y2="1575.40" stroke="#222" stroke-width="1.40"/>
<text transform="translate(654.40,1585.20) scale(0.920,1.280)" font-size="14.60" fill="#111" text-anchor="end">0.4</text>
<line x1="657.90" y1="1559.10" x2="662.40" y2="1559.10" stroke="#222" stroke-width="1.40"/>
<text transform="translate(654.40,1568.90) scale(0.920,1.280)" font-size="14.60" fill="#111" text-anchor="end">0.5</text>
<text transform="translate(798.00,1560.00) scale(1.160,1.000)" font-size="15.20" fill="#000000" text-anchor="middle">1</text>
<text transform="translate(626.00,1592.80) rotate(-90) scale(1.137,1.070)" font-size="16.20" fill="#111" text-anchor="middle">Probability</text>
<line x1="949.20" y1="1535.30" x2="949.20" y2="1643.90" stroke="#2e9a2e" stroke-width="1.3" stroke-dasharray="1.6,1.6"/>
<polyline points="876.5,1640.2 905.1,1640.1 911.4,1639.9 916.0,1639.4 920.6,1638.5 924.5,1637.1 927.9,1635.2 931.0,1632.6 934.2,1629.0 937.1,1624.7 939.8,1619.9 942.7,1613.5 947.5,1600.6 957.4,1570.4 959.6,1564.6 961.8,1559.5 964.0,1555.4 965.9,1552.7 967.9,1551.1 968.8,1550.7 969.8,1550.5 970.8,1550.7 971.7,1551.1 972.7,1551.8 973.9,1553.0 976.1,1556.2 978.5,1561.1 982.6,1571.8 990.9,1597.0 994.5,1607.3 998.4,1616.8 1002.3,1624.3 1004.2,1627.4 1006.4,1630.3 1008.6,1632.6 1011.0,1634.7 1013.4,1636.3 1015.8,1637.4 1018.7,1638.4 1021.9,1639.2" fill="none" stroke="#0f2a22" stroke-width="1.90" stroke-opacity="1.000" stroke-linejoin="round"/>
<rect x="867.70" y="1534.30" width="163.70" height="110.60" fill="none" stroke="#222" stroke-width="1.7"/>
<line x1="876.51" y1="1644.90" x2="876.51" y2="1649.90" stroke="#222" stroke-width="1.40"/>
<line x1="900.74" y1="1644.90" x2="900.74" y2="1649.90" stroke="#222" stroke-width="1.40"/>
<text transform="translate(899.54,1665.60) scale(1.160,1.120)" font-size="15.00" fill="#111" text-anchor="middle">-2</text>
<line x1="924.97" y1="1644.90" x2="924.97" y2="1649.90" stroke="#222" stroke-width="1.40"/>
<line x1="949.20" y1="1644.90" x2="949.20" y2="1649.90" stroke="#222" stroke-width="1.40"/>
<text transform="translate(949.20,1665.60) scale(1.160,1.120)" font-size="15.00" fill="#111" text-anchor="middle">0</text>
<line x1="973.43" y1="1644.90" x2="973.43" y2="1649.90" stroke="#222" stroke-width="1.40"/>
<line x1="997.66" y1="1644.90" x2="997.66" y2="1649.90" stroke="#222" stroke-width="1.40"/>
<text transform="translate(997.66,1665.60) scale(1.160,1.120)" font-size="15.00" fill="#111" text-anchor="middle">2</text>
<line x1="1021.89" y1="1644.90" x2="1021.89" y2="1649.90" stroke="#222" stroke-width="1.40"/>
<line x1="863.20" y1="1640.20" x2="867.70" y2="1640.20" stroke="#222" stroke-width="1.40"/>
<text transform="translate(859.70,1650.00) scale(0.920,1.280)" font-size="14.60" fill="#111" text-anchor="end">0</text>
<line x1="863.20" y1="1607.30" x2="867.70" y2="1607.30" stroke="#222" stroke-width="1.40"/>
<text transform="translate(859.70,1617.10) scale(0.920,1.280)" font-size="14.60" fill="#111" text-anchor="end">0.2</text>
<line x1="863.20" y1="1574.40" x2="867.70" y2="1574.40" stroke="#222" stroke-width="1.40"/>
<text transform="translate(859.70,1584.20) scale(0.920,1.280)" font-size="14.60" fill="#111" text-anchor="end">0.4</text>
<line x1="863.20" y1="1541.50" x2="867.70" y2="1541.50" stroke="#222" stroke-width="1.40"/>
<text transform="translate(859.70,1551.30) scale(0.920,1.280)" font-size="14.60" fill="#111" text-anchor="end">0.6</text>
<text transform="translate(1040.50,1553.60) scale(1.160,1.050)" font-size="15.80" fill="#000000" text-anchor="start">1</text>
<text transform="translate(1040.50,1568.60) scale(1.160,1.050)" font-size="15.80" fill="#2e8b2e" text-anchor="start">0</text>
<text transform="translate(0.00,1721.00) " font-size="20.50" fill="#111" text-anchor="start">Pt. 13</text>
<rect x="207.5" y="1751.0" width="91.0" height="80.0" fill="#fcf7bd" stroke="#bdbdbd" stroke-width="2"/>
<line x1="159.00" y1="1686.00" x2="159.00" y2="1733.50" stroke="#2e8b2e" stroke-width="3.10"/>
<line x1="159.00" y1="1733.50" x2="159.00" y2="1765.00" stroke="#5ebfea" stroke-width="3.20"/>
<line x1="159.00" y1="1765.00" x2="76.00" y2="1797.50" stroke="#000000" stroke-width="3.20"/>
<line x1="76.00" y1="1797.50" x2="76.00" y2="1827.50" stroke="#9e1b1b" stroke-width="3.20"/>
<line x1="159.00" y1="1765.00" x2="159.00" y2="1795.00" stroke="#f18a22" stroke-width="3.20"/>
<line x1="159.00" y1="1765.00" x2="241.50" y2="1796.50" stroke="#5a6fe3" stroke-width="3.20"/>
<circle cx="159.00" cy="1682.00" r="4.4" fill="#fff" stroke="#2e8b2e" stroke-width="1.7"/>
<circle cx="159.00" cy="1733.50" r="5.1" fill="#2e8b2e"/>
<circle cx="159.00" cy="1765.00" r="5.1" fill="#5ebfea"/>
<circle cx="76.00" cy="1797.50" r="5.1" fill="#0f2a22"/>
<circle cx="76.00" cy="1827.50" r="5.1" fill="#9e1b1b"/>
<circle cx="159.00" cy="1795.00" r="5.1" fill="#f18a22"/>
<circle cx="241.50" cy="1796.50" r="5.1" fill="#5a6fe3"/>
<text transform="translate(166.00,1695.00) " font-size="17.20" fill="#2e8b2e" text-anchor="start"><tspan font-style="italic">ATM, RPS15,</tspan></text>
<text transform="translate(166.00,1712.50) " font-size="17.20" fill="#2e8b2e" text-anchor="start"><tspan font-style="italic">del</tspan>(13q)</text>
<text transform="translate(168.50,1739.00) " font-size="17.20" fill="#2e8b2e" text-anchor="start">Cl. 0</text>
<text transform="translate(100.50,1754.00) " font-size="17.20" fill="#000000" text-anchor="middle"><tspan font-style="italic">ATM,</tspan></text>
<text transform="translate(97.50,1772.50) " font-size="17.20" fill="#000000" text-anchor="middle"><tspan font-style="italic">del</tspan>(6p)</text>
<text transform="translate(167.50,1761.00) " font-size="17.20" fill="#5ebfea" text-anchor="start">Cl. 1</text>
<text transform="translate(68.50,1802.50) " font-size="17.20" fill="#000000" text-anchor="end">Cl. 3</text>
<text transform="translate(68.50,1832.50) " font-size="17.20" fill="#9e1b1b" text-anchor="end">Cl. 4</text>
<text transform="translate(160.50,1817.50) " font-size="17.20" fill="#f18a22" text-anchor="middle">Cl. 2</text>
<text transform="translate(250.00,1814.00) " font-size="17.20" fill="#5a6fe3" text-anchor="start">Cl. 5</text>
<text transform="translate(253.00,1767.50) " font-size="17.20" fill="#5a6fe3" text-anchor="middle"><tspan font-style="italic">del</tspan>(11q),</text>
<text transform="translate(252.50,1784.00) " font-size="17.20" fill="#5a6fe3" text-anchor="middle"><tspan font-style="italic">BIRC3</tspan></text>
<clipPath id="cp11"><rect x="406.7" y="1688.0" width="165.3" height="121.5"/></clipPath>
<g clip-path="url(#cp11)">
<polygon points="406.8,1786.0 571.9,1726.9 571.9,1786.0 406.8,1791.4" fill="#555" fill-opacity="0.080"/>
<polyline points="406.8,1729.0 571.9,1716.1" fill="none" stroke="#d6c6ee" stroke-width="22.00" stroke-opacity="0.300" stroke-linejoin="round" stroke-linecap="round"/>
<polyline points="406.8,1729.0 571.9,1716.1" fill="none" stroke="#5ebfea" stroke-width="14.00" stroke-opacity="0.920" stroke-linejoin="round" stroke-linecap="round"/>
<polyline points="406.8,1794.6 490.1,1787.1 571.9,1783.8" fill="none" stroke="#9e1b1b" stroke-width="8.00" stroke-opacity="0.900" stroke-linejoin="round" stroke-linecap="round"/>
<polyline points="406.8,1762.3 571.9,1794.6" fill="none" stroke="#f4a0a0" stroke-width="16.00" stroke-opacity="0.250" stroke-linejoin="round" stroke-linecap="round"/>
<polyline points="406.8,1762.3 571.9,1794.6" fill="none" stroke="#f18a22" stroke-width="10.00" stroke-opacity="0.900" stroke-linejoin="round" stroke-linecap="round"/>
<polyline points="406.8,1788.2 571.9,1730.1" fill="none" stroke="#0f2a22" stroke-width="18.00" stroke-opacity="0.100" stroke-linejoin="round" stroke-linecap="round"/>
<polyline points="406.8,1788.2 571.9,1730.1" fill="none" stroke="#0f2a22" stroke-width="15.00" stroke-opacity="0.100" stroke-linejoin="round" stroke-linecap="round"/>
<polyline points="406.8,1788.2 571.9,1730.1" fill="none" stroke="#0f2a22" stroke-width="12.00" stroke-opacity="0.100" stroke-linejoin="round" stroke-linecap="round"/>
<polyline points="406.8,1788.2 571.9,1730.1" fill="none" stroke="#0f2a22" stroke-width="9.00" stroke-opacity="0.950" stroke-linejoin="round" stroke-linecap="round"/>
<polyline points="406.8,1804.8 571.9,1805.3" fill="none" stroke="#303090" stroke-width="3.00" stroke-opacity="0.900" stroke-linejoin="round" stroke-linecap="round"/>
</g>
<line x1="406.70" y1="1700.00" x2="572.00" y2="1700.00" stroke="#3a9a3a" stroke-width="1.60"/>
<line x1="400.50" y1="1699.20" x2="400.50" y2="1808.30" stroke="#222" stroke-width="1.60"/>
<line x1="396.00" y1="1700.00" x2="400.50" y2="1700.00" stroke="#222" stroke-width="1.40"/>
<text transform="translate(394.00,1708.30) scale(1.070,1.000)" font-size="15.60" fill="#111" text-anchor="end">1.0</text>
<line x1="396.00" y1="1726.88" x2="400.50" y2="1726.88" stroke="#222" stroke-width="1.40"/>
<line x1="396.00" y1="1753.75" x2="400.50" y2="1753.75" stroke="#222" stroke-width="1.40"/>
<text transform="translate(394.00,1762.05) scale(1.070,1.000)" font-size="15.60" fill="#111" text-anchor="end">0.5</text>
<line x1="396.00" y1="1780.62" x2="400.50" y2="1780.62" stroke="#222" stroke-width="1.40"/>
<line x1="396.00" y1="1807.50" x2="400.50" y2="1807.50" stroke="#222" stroke-width="1.40"/>
<text transform="translate(394.00,1815.80) scale(1.070,1.000)" font-size="15.60" fill="#111" text-anchor="end">0</text>
<line x1="405.90" y1="1812.00" x2="572.80" y2="1812.00" stroke="#222" stroke-width="1.60"/>
<line x1="452.00" y1="1812.00" x2="452.00" y2="1816.50" stroke="#222" stroke-width="1.40"/>
<text transform="translate(452.00,1832.50) scale(1.070,1.000)" font-size="15.60" fill="#111" text-anchor="middle">1</text>
<line x1="506.50" y1="1812.00" x2="506.50" y2="1816.50" stroke="#222" stroke-width="1.40"/>
<text transform="translate(506.50,1832.50) scale(1.070,1.000)" font-size="15.60" fill="#111" text-anchor="middle">2</text>
<line x1="561.00" y1="1812.00" x2="561.00" y2="1816.50" stroke="#222" stroke-width="1.40"/>
<text transform="translate(561.00,1832.50) scale(1.070,1.000)" font-size="15.60" fill="#111" text-anchor="middle">3</text>
<line x1="424.75" y1="1812.00" x2="424.75" y2="1816.50" stroke="#222" stroke-width="1.40"/>
<line x1="479.25" y1="1812.00" x2="479.25" y2="1816.50" stroke="#222" stroke-width="1.40"/>
<line x1="533.75" y1="1812.00" x2="533.75" y2="1816.50" stroke="#222" stroke-width="1.40"/>
<text transform="translate(489.50,1846.10) scale(1.070,1.150)" font-size="17.00" fill="#111" text-anchor="middle">Years</text>
<text transform="translate(364.00,1753.75) rotate(-90) scale(1.070,1.150)" font-size="16.60" fill="#111" text-anchor="middle">CCF</text>
<line x1="744.70" y1="1708.00" x2="744.70" y2="1811.00" stroke="#111" stroke-width="1.3" stroke-dasharray="1.6,1.6"/>
<polyline points="672.3,1807.3 711.9,1807.3 719.4,1807.1 722.3,1806.8 724.9,1806.2 733.8,1802.9 735.8,1802.5 737.5,1802.4 739.2,1802.5 741.1,1802.9 747.6,1805.4 750.2,1806.3 753.1,1806.8 756.3,1807.1 764.2,1807.3 817.1,1807.3" fill="none" stroke="#5ebfea" stroke-width="1.90" stroke-opacity="1.000" stroke-linejoin="round"/>
<polyline points="672.3,1807.3 739.4,1807.3 741.3,1807.1 742.0,1806.3 742.5,1804.9 743.3,1800.6 745.2,1775.3 745.7,1771.6 745.9,1771.1 746.1,1771.6 746.6,1775.3 748.6,1800.6 749.3,1804.9 749.8,1806.3 750.5,1807.1 752.4,1807.3 817.1,1807.3" fill="none" stroke="#f18a22" stroke-width="1.90" stroke-opacity="1.000" stroke-linejoin="round"/>
<polyline points="672.3,1807.3 757.0,1807.3 760.1,1807.1 761.1,1806.7 761.8,1806.1 763.0,1803.8 764.2,1799.3 766.4,1788.4 767.1,1786.3 767.6,1785.9 768.1,1786.3 768.8,1788.4 771.0,1799.3 772.0,1803.1 773.2,1805.8 773.9,1806.6 774.6,1807.0 776.8,1807.3 781.6,1807.2 783.5,1806.8 786.9,1805.8 788.1,1805.7 789.6,1805.8 793.2,1806.9 795.6,1807.2 817.1,1807.3" fill="none" stroke="#0f2a22" stroke-width="1.90" stroke-opacity="1.000" stroke-linejoin="round"/>
<polyline points="672.3,1807.3 752.4,1807.3 753.1,1807.3 753.6,1807.0 754.1,1805.0 754.6,1796.4 755.8,1731.0 756.0,1726.6 756.3,1731.0 757.5,1796.4 758.0,1805.0 758.4,1807.0 758.7,1807.2 759.4,1807.3 817.1,1807.3" fill="none" stroke="#5a6fe3" stroke-width="1.90" stroke-opacity="1.000" stroke-linejoin="round"/>
<polyline points="672.3,1807.3 746.1,1807.3 749.3,1807.1 750.2,1806.8 751.0,1806.2 752.2,1804.1 753.4,1799.9 755.6,1789.9 756.3,1787.9 756.8,1787.5 757.2,1787.9 758.0,1789.9 760.1,1799.9 761.1,1803.4 762.3,1805.9 763.0,1806.6 763.8,1807.0 765.0,1807.2 766.9,1807.3 817.1,1807.3" fill="none" stroke="#9e1b1b" stroke-width="1.90" stroke-opacity="1.000" stroke-linejoin="round"/>
<rect x="662.40" y="1707.00" width="164.60" height="105.00" fill="none" stroke="#222" stroke-width="1.7"/>
<line x1="672.34" y1="1812.00" x2="672.34" y2="1817.00" stroke="#222" stroke-width="1.40"/>
<line x1="696.46" y1="1812.00" x2="696.46" y2="1817.00" stroke="#222" stroke-width="1.40"/>
<text transform="translate(695.26,1832.70) scale(1.160,1.120)" font-size="15.00" fill="#111" text-anchor="middle">-2</text>
<line x1="720.58" y1="1812.00" x2="720.58" y2="1817.00" stroke="#222" stroke-width="1.40"/>
<line x1="744.70" y1="1812.00" x2="744.70" y2="1817.00" stroke="#222" stroke-width="1.40"/>
<text transform="translate(744.70,1832.70) scale(1.160,1.120)" font-size="15.00" fill="#111" text-anchor="middle">0</text>
<line x1="768.82" y1="1812.00" x2="768.82" y2="1817.00" stroke="#222" stroke-width="1.40"/>
<line x1="792.94" y1="1812.00" x2="792.94" y2="1817.00" stroke="#222" stroke-width="1.40"/>
<text transform="translate(792.94,1832.70) scale(1.160,1.120)" font-size="15.00" fill="#111" text-anchor="middle">2</text>
<line x1="817.06" y1="1812.00" x2="817.06" y2="1817.00" stroke="#222" stroke-width="1.40"/>
<line x1="657.90" y1="1807.30" x2="662.40" y2="1807.30" stroke="#222" stroke-width="1.40"/>
<text transform="translate(654.40,1817.10) scale(0.920,1.280)" font-size="14.60" fill="#111" text-anchor="end">0</text>
<line x1="657.90" y1="1790.84" x2="662.40" y2="1790.84" stroke="#222" stroke-width="1.40"/>
<text transform="translate(654.40,1800.64) scale(0.920,1.280)" font-size="14.60" fill="#111" text-anchor="end">2</text>
<line x1="657.90" y1="1774.38" x2="662.40" y2="1774.38" stroke="#222" stroke-width="1.40"/>
<text transform="translate(654.40,1784.18) scale(0.920,1.280)" font-size="14.60" fill="#111" text-anchor="end">4</text>
<line x1="657.90" y1="1757.92" x2="662.40" y2="1757.92" stroke="#222" stroke-width="1.40"/>
<text transform="translate(654.40,1767.72) scale(0.920,1.280)" font-size="14.60" fill="#111" text-anchor="end">6</text>
<line x1="657.90" y1="1741.46" x2="662.40" y2="1741.46" stroke="#222" stroke-width="1.40"/>
<text transform="translate(654.40,1751.26) scale(0.920,1.280)" font-size="14.60" fill="#111" text-anchor="end">8</text>
<line x1="657.90" y1="1725.00" x2="662.40" y2="1725.00" stroke="#222" stroke-width="1.40"/>
<text transform="translate(654.40,1734.80) scale(0.920,1.280)" font-size="14.60" fill="#111" text-anchor="end">10</text>
<text transform="translate(756.40,1722.90) scale(1.160,1.000)" font-size="15.20" fill="#5a6fe3" text-anchor="middle">5</text>
<text transform="translate(736.30,1778.60) scale(1.160,1.000)" font-size="15.20" fill="#f18a22" text-anchor="middle">2</text>
<text transform="translate(762.90,1783.70) scale(1.160,1.000)" font-size="15.20" fill="#9e1b1b" text-anchor="middle">4</text>
<text transform="translate(773.60,1783.70) scale(1.160,1.000)" font-size="15.20" fill="#000000" text-anchor="middle">3</text>
<text transform="translate(732.90,1800.90) scale(1.160,1.000)" font-size="15.20" fill="#5ebfea" text-anchor="middle">1</text>
<text transform="translate(635.00,1759.50) rotate(-90) scale(1.137,1.070)" font-size="16.20" fill="#111" text-anchor="middle">Probability</text>
<line x1="949.20" y1="1708.90" x2="949.20" y2="1809.70" stroke="#2e9a2e" stroke-width="1.3" stroke-dasharray="1.6,1.6"/>
<polyline points="876.5,1807.3 910.4,1807.2 912.1,1807.0 913.3,1806.7 914.3,1806.2 915.3,1805.3 916.2,1803.8 917.2,1801.7 918.9,1795.7 920.6,1786.6 924.0,1764.6 925.0,1759.8 925.9,1756.5 926.9,1754.9 927.4,1754.6 927.9,1754.7 929.1,1755.9 932.2,1761.2 933.7,1762.7 934.7,1763.3 935.4,1763.3 936.1,1762.9 936.8,1761.9 938.1,1758.5 939.0,1754.1 942.9,1728.4 943.9,1724.7 944.4,1723.9 944.6,1723.9 945.1,1724.4 945.8,1726.9 947.0,1735.1 950.9,1776.3 952.6,1790.6 953.6,1796.3 954.5,1800.4 955.7,1803.7 957.0,1805.6 957.9,1806.4 958.9,1806.8 960.3,1807.2 962.3,1807.3 1021.9,1807.3" fill="none" stroke="#5ebfea" stroke-width="1.90" stroke-opacity="1.000" stroke-linejoin="round"/>
<polyline points="876.5,1807.3 920.1,1807.2 922.3,1807.0 924.0,1806.5 925.2,1805.8 926.4,1804.6 927.9,1802.4 929.1,1799.4 930.3,1795.3 931.3,1791.0 933.5,1778.0 937.3,1748.5 938.8,1738.9 939.8,1734.1 940.5,1731.5 941.2,1730.0 941.9,1729.3 942.4,1729.5 942.9,1730.0 944.1,1732.9 945.3,1737.4 949.2,1754.3 950.7,1758.9 951.9,1761.4 953.1,1762.6 953.6,1762.7 954.3,1762.4 955.5,1761.2 957.9,1757.4 958.6,1756.7 959.1,1756.5 959.6,1756.5 960.1,1756.8 961.1,1758.5 962.0,1761.5 963.0,1765.7 966.9,1787.6 968.6,1795.6 969.6,1799.0 970.5,1801.7 971.7,1804.1 972.9,1805.5 973.9,1806.3 975.1,1806.8 978.5,1807.3 1021.9,1807.3" fill="none" stroke="#f18a22" stroke-width="1.90" stroke-opacity="1.000" stroke-linejoin="round"/>
<polyline points="876.5,1807.3 933.5,1807.3 935.6,1807.1 937.1,1806.8 938.3,1806.1 939.3,1805.3 940.5,1803.5 941.7,1800.4 942.7,1796.8 943.6,1792.0 945.8,1776.1 950.2,1735.7 951.6,1727.4 952.3,1725.3 953.1,1724.6 953.8,1725.2 954.8,1727.7 959.1,1747.8 960.3,1751.9 961.6,1754.6 963.0,1756.3 963.7,1756.7 964.5,1756.7 965.9,1756.2 968.6,1754.2 969.8,1753.9 970.5,1754.2 971.0,1754.7 972.2,1757.1 973.2,1760.1 974.4,1765.3 978.3,1786.1 980.2,1794.8 982.2,1800.9 983.1,1802.9 984.3,1804.7 985.5,1805.8 986.8,1806.5 988.2,1807.0 990.1,1807.2 1021.9,1807.3" fill="none" stroke="#5a6fe3" stroke-width="1.90" stroke-opacity="1.000" stroke-linejoin="round"/>
<polyline points="876.5,1807.3 941.2,1807.3 945.3,1806.9 946.8,1806.4 948.0,1805.7 949.4,1804.3 950.9,1801.9 952.1,1799.0 953.3,1795.0 955.7,1783.4 959.9,1757.6 961.3,1749.7 962.3,1745.7 963.3,1742.9 964.2,1741.2 965.2,1740.7 965.9,1740.9 966.9,1741.9 970.3,1746.9 972.2,1749.1 974.6,1750.5 978.8,1751.7 980.2,1752.4 981.7,1753.7 982.9,1755.7 984.3,1759.3 985.8,1764.3 990.6,1786.0 992.6,1793.6 994.8,1799.8 996.0,1802.2 997.2,1804.0 998.4,1805.2 999.6,1806.0 1001.1,1806.6 1003.0,1807.0 1007.4,1807.3 1021.9,1807.3" fill="none" stroke="#0f2a22" stroke-width="1.90" stroke-opacity="1.000" stroke-linejoin="round"/>
<polyline points="876.5,1807.3 900.7,1807.3 907.8,1806.9 910.7,1806.4 913.1,1805.5 915.3,1804.1 917.2,1802.2 919.2,1799.5 920.9,1796.4 922.8,1791.8 924.5,1786.8 927.6,1775.2 933.7,1749.6 936.1,1741.2 937.3,1738.0 938.5,1735.7 939.8,1734.4 940.7,1734.0 941.9,1734.6 943.4,1736.5 944.6,1739.2 946.1,1743.4 948.5,1752.5 954.5,1778.1 956.5,1785.2 958.2,1790.4 959.9,1794.8 961.6,1798.3 963.5,1801.3 965.4,1803.5 967.4,1804.9 969.8,1806.1 972.5,1806.7 975.6,1807.1 983.4,1807.3 1021.9,1807.3" fill="none" stroke="#9e1b1b" stroke-width="1.90" stroke-opacity="1.000" stroke-linejoin="round"/>
<rect x="867.70" y="1707.90" width="163.70" height="102.80" fill="none" stroke="#222" stroke-width="1.7"/>
<line x1="876.51" y1="1810.70" x2="876.51" y2="1815.70" stroke="#222" stroke-width="1.40"/>
<line x1="900.74" y1="1810.70" x2="900.74" y2="1815.70" stroke="#222" stroke-width="1.40"/>
<text transform="translate(899.54,1831.40) scale(1.160,1.120)" font-size="15.00" fill="#111" text-anchor="middle">-2</text>
<line x1="924.97" y1="1810.70" x2="924.97" y2="1815.70" stroke="#222" stroke-width="1.40"/>
<line x1="949.20" y1="1810.70" x2="949.20" y2="1815.70" stroke="#222" stroke-width="1.40"/>
<text transform="translate(949.20,1831.40) scale(1.160,1.120)" font-size="15.00" fill="#111" text-anchor="middle">0</text>
<line x1="973.43" y1="1810.70" x2="973.43" y2="1815.70" stroke="#222" stroke-width="1.40"/>
<line x1="997.66" y1="1810.70" x2="997.66" y2="1815.70" stroke="#222" stroke-width="1.40"/>
<text transform="translate(997.66,1831.40) scale(1.160,1.120)" font-size="15.00" fill="#111" text-anchor="middle">2</text>
<line x1="1021.89" y1="1810.70" x2="1021.89" y2="1815.70" stroke="#222" stroke-width="1.40"/>
<line x1="863.20" y1="1807.30" x2="867.70" y2="1807.30" stroke="#222" stroke-width="1.40"/>
<text transform="translate(859.70,1817.10) scale(0.920,1.280)" font-size="14.60" fill="#111" text-anchor="end">0</text>
<line x1="863.20" y1="1787.50" x2="867.70" y2="1787.50" stroke="#222" stroke-width="1.40"/>
<text transform="translate(859.70,1797.30) scale(0.920,1.280)" font-size="14.60" fill="#111" text-anchor="end">0.2</text>
<line x1="863.20" y1="1767.70" x2="867.70" y2="1767.70" stroke="#222" stroke-width="1.40"/>
<text transform="translate(859.70,1777.50) scale(0.920,1.280)" font-size="14.60" fill="#111" text-anchor="end">0.4</text>
<line x1="863.20" y1="1747.90" x2="867.70" y2="1747.90" stroke="#222" stroke-width="1.40"/>
<text transform="translate(859.70,1757.70) scale(0.920,1.280)" font-size="14.60" fill="#111" text-anchor="end">0.6</text>
<line x1="863.20" y1="1728.10" x2="867.70" y2="1728.10" stroke="#222" stroke-width="1.40"/>
<text transform="translate(859.70,1737.90) scale(0.920,1.280)" font-size="14.60" fill="#111" text-anchor="end">0.8</text>
<text transform="translate(1040.50,1725.10) scale(1.160,1.050)" font-size="15.80" fill="#5a6fe3" text-anchor="start">5</text>
<text transform="translate(1040.50,1742.20) scale(1.160,1.050)" font-size="15.80" fill="#9e1b1b" text-anchor="start">4</text>
<text transform="translate(1040.50,1759.30) scale(1.160,1.050)" font-size="15.80" fill="#000000" text-anchor="start">3</text>
<text transform="translate(1040.50,1776.40) scale(1.160,1.050)" font-size="15.80" fill="#f18a22" text-anchor="start">2</text>
<text transform="translate(1040.50,1793.50) scale(1.160,1.050)" font-size="15.80" fill="#5ebfea" text-anchor="start">1</text>
<text transform="translate(1040.50,1810.60) scale(1.160,1.050)" font-size="15.80" fill="#2e8b2e" text-anchor="start">0</text>
<text transform="translate(0.00,1917.50) " font-size="20.50" fill="#111" text-anchor="start">Pt. 14</text>
<line x1="159.00" y1="1889.00" x2="159.00" y2="1916.00" stroke="#2e8b2e" stroke-width="3.10"/>
<line x1="159.00" y1="1916.00" x2="159.00" y2="1959.00" stroke="#5ebfea" stroke-width="3.20"/>
<circle cx="159.00" cy="1885.00" r="4.4" fill="#fff" stroke="#2e8b2e" stroke-width="1.7"/>
<circle cx="159.00" cy="1916.00" r="5.1" fill="#2e8b2e"/>
<circle cx="159.00" cy="1959.00" r="5.1" fill="#5ebfea"/>
<text transform="translate(168.50,1905.00) " font-size="17.20" fill="#2e8b2e" text-anchor="start"><tspan font-style="italic">FUBP1, NOTCH1</tspan></text>
<text transform="translate(149.00,1921.70) " font-size="17.20" fill="#2e8b2e" text-anchor="end">Cl. 0</text>
<text transform="translate(149.00,1964.70) " font-size="17.20" fill="#5ebfea" text-anchor="end">Cl. 1</text>
<text transform="translate(238.00,1931.00) " font-size="17.20" fill="#5ebfea" text-anchor="middle"><tspan font-style="italic">XPO1</tspan>,</text>
<text transform="translate(237.00,1947.50) " font-size="17.20" fill="#5ebfea" text-anchor="middle"><tspan font-style="italic">del</tspan>(13q), <tspan font-style="italic">del</tspan>(15q)</text>
<clipPath id="cp12"><rect x="404.0" y="1855.7" width="159.0" height="120.1"/></clipPath>
<g clip-path="url(#cp12)">
<polygon points="404.1,1964.8 566.3,1952.6 566.3,1960.5 404.1,1969.0" fill="#5ebfea" fill-opacity="0.920"/>
</g>
<line x1="404.00" y1="1867.70" x2="563.00" y2="1867.70" stroke="#3a9a3a" stroke-width="1.60"/>
<line x1="400.50" y1="1866.90" x2="400.50" y2="1974.60" stroke="#222" stroke-width="1.60"/>
<line x1="396.00" y1="1867.70" x2="400.50" y2="1867.70" stroke="#222" stroke-width="1.40"/>
<text transform="translate(394.00,1876.00) scale(1.070,1.000)" font-size="15.60" fill="#111" text-anchor="end">1.0</text>
<line x1="396.00" y1="1894.22" x2="400.50" y2="1894.22" stroke="#222" stroke-width="1.40"/>
<line x1="396.00" y1="1920.75" x2="400.50" y2="1920.75" stroke="#222" stroke-width="1.40"/>
<text transform="translate(394.00,1929.05) scale(1.070,1.000)" font-size="15.60" fill="#111" text-anchor="end">0.5</text>
<line x1="396.00" y1="1947.28" x2="400.50" y2="1947.28" stroke="#222" stroke-width="1.40"/>
<line x1="396.00" y1="1973.80" x2="400.50" y2="1973.80" stroke="#222" stroke-width="1.40"/>
<text transform="translate(394.00,1982.10) scale(1.070,1.000)" font-size="15.60" fill="#111" text-anchor="end">0</text>
<line x1="403.20" y1="1977.50" x2="569.60" y2="1977.50" stroke="#222" stroke-width="1.60"/>
<line x1="412.50" y1="1977.50" x2="412.50" y2="1982.00" stroke="#222" stroke-width="1.40"/>
<text transform="translate(412.50,1998.50) scale(0.930,1.000)" font-size="15.50" fill="#111" text-anchor="middle">0.5</text>
<line x1="437.30" y1="1977.50" x2="437.30" y2="1982.00" stroke="#222" stroke-width="1.40"/>
<text transform="translate(437.30,1998.50) scale(0.930,1.000)" font-size="15.50" fill="#111" text-anchor="middle">1</text>
<line x1="462.10" y1="1977.50" x2="462.10" y2="1982.00" stroke="#222" stroke-width="1.40"/>
<text transform="translate(462.10,1998.50) scale(0.930,1.000)" font-size="15.50" fill="#111" text-anchor="middle">1.5</text>
<line x1="486.90" y1="1977.50" x2="486.90" y2="1982.00" stroke="#222" stroke-width="1.40"/>
<text transform="translate(486.90,1998.50) scale(0.930,1.000)" font-size="15.50" fill="#111" text-anchor="middle">2</text>
<line x1="511.70" y1="1977.50" x2="511.70" y2="1982.00" stroke="#222" stroke-width="1.40"/>
<text transform="translate(511.70,1998.50) scale(0.930,1.000)" font-size="15.50" fill="#111" text-anchor="middle">2.5</text>
<line x1="536.50" y1="1977.50" x2="536.50" y2="1982.00" stroke="#222" stroke-width="1.40"/>
<text transform="translate(536.50,1998.50) scale(0.930,1.000)" font-size="15.50" fill="#111" text-anchor="middle">3</text>
<line x1="561.30" y1="1977.50" x2="561.30" y2="1982.00" stroke="#222" stroke-width="1.40"/>
<text transform="translate(561.30,1998.50) scale(0.930,1.000)" font-size="15.50" fill="#111" text-anchor="middle">3.5</text>
<text transform="translate(489.50,2015.10) scale(1.070,1.150)" font-size="17.00" fill="#111" text-anchor="middle">Years</text>
<text transform="translate(364.00,1920.75) rotate(-90) scale(1.070,1.150)" font-size="16.60" fill="#111" text-anchor="middle">CCF</text>
<line x1="744.70" y1="1870.40" x2="744.70" y2="1973.40" stroke="#111" stroke-width="1.3" stroke-dasharray="1.6,1.6"/>
<polyline points="672.3,1970.2 754.8,1970.2 756.8,1970.0 757.7,1969.5 758.4,1968.4 759.2,1965.9 759.9,1960.9 760.4,1955.7 761.3,1939.8 763.5,1891.3 764.2,1882.6 764.5,1881.5 764.7,1881.4 765.0,1882.1 765.4,1886.1 767.1,1911.0 768.1,1921.3 768.6,1924.1 770.0,1929.1 770.7,1932.7 773.9,1959.7 774.9,1965.1 775.3,1966.8 776.1,1968.5 776.5,1969.2 777.3,1969.8 779.2,1970.2 817.1,1970.2" fill="none" stroke="#5ebfea" stroke-width="1.90" stroke-opacity="1.000" stroke-linejoin="round"/>
<rect x="662.40" y="1869.40" width="164.60" height="105.00" fill="none" stroke="#222" stroke-width="1.7"/>
<line x1="672.34" y1="1974.40" x2="672.34" y2="1979.40" stroke="#222" stroke-width="1.40"/>
<line x1="696.46" y1="1974.40" x2="696.46" y2="1979.40" stroke="#222" stroke-width="1.40"/>
<text transform="translate(695.26,1995.10) scale(1.160,1.120)" font-size="15.00" fill="#111" text-anchor="middle">-2</text>
<line x1="720.58" y1="1974.40" x2="720.58" y2="1979.40" stroke="#222" stroke-width="1.40"/>
<line x1="744.70" y1="1974.40" x2="744.70" y2="1979.40" stroke="#222" stroke-width="1.40"/>
<text transform="translate(744.70,1995.10) scale(1.160,1.120)" font-size="15.00" fill="#111" text-anchor="middle">0</text>
<line x1="768.82" y1="1974.40" x2="768.82" y2="1979.40" stroke="#222" stroke-width="1.40"/>
<line x1="792.94" y1="1974.40" x2="792.94" y2="1979.40" stroke="#222" stroke-width="1.40"/>
<text transform="translate(792.94,1995.10) scale(1.160,1.120)" font-size="15.00" fill="#111" text-anchor="middle">2</text>
<line x1="817.06" y1="1974.40" x2="817.06" y2="1979.40" stroke="#222" stroke-width="1.40"/>
<line x1="657.90" y1="1970.20" x2="662.40" y2="1970.20" stroke="#222" stroke-width="1.40"/>
<text transform="translate(654.40,1980.00) scale(0.920,1.280)" font-size="14.60" fill="#111" text-anchor="end">0</text>
<line x1="657.90" y1="1953.00" x2="662.40" y2="1953.00" stroke="#222" stroke-width="1.40"/>
<text transform="translate(654.40,1962.80) scale(0.920,1.280)" font-size="14.60" fill="#111" text-anchor="end">0.5</text>
<line x1="657.90" y1="1935.80" x2="662.40" y2="1935.80" stroke="#222" stroke-width="1.40"/>
<text transform="translate(654.40,1945.60) scale(0.920,1.280)" font-size="14.60" fill="#111" text-anchor="end">1.0</text>
<line x1="657.90" y1="1918.60" x2="662.40" y2="1918.60" stroke="#222" stroke-width="1.40"/>
<text transform="translate(654.40,1928.40) scale(0.920,1.280)" font-size="14.60" fill="#111" text-anchor="end">1.5</text>
<line x1="657.90" y1="1901.40" x2="662.40" y2="1901.40" stroke="#222" stroke-width="1.40"/>
<text transform="translate(654.40,1911.20) scale(0.920,1.280)" font-size="14.60" fill="#111" text-anchor="end">2.0</text>
<line x1="657.90" y1="1884.20" x2="662.40" y2="1884.20" stroke="#222" stroke-width="1.40"/>
<text transform="translate(654.40,1894.00) scale(0.920,1.280)" font-size="14.60" fill="#111" text-anchor="end">2.5</text>
<text transform="translate(763.70,1878.40) scale(1.160,1.000)" font-size="15.20" fill="#5ebfea" text-anchor="middle">1</text>
<text transform="translate(627.00,1921.90) rotate(-90) scale(1.137,1.070)" font-size="16.20" fill="#111" text-anchor="middle">Probability</text>
<line x1="949.20" y1="1871.70" x2="949.20" y2="1973.40" stroke="#2e9a2e" stroke-width="1.3" stroke-dasharray="1.6,1.6"/>
<polyline points="876.5,1972.3 951.6,1972.3 953.6,1972.1 954.5,1971.6 955.3,1970.4 956.0,1967.9 956.7,1962.8 957.2,1957.5 958.2,1941.3 960.3,1891.8 961.1,1882.9 961.3,1881.8 961.6,1881.7 961.8,1882.4 962.3,1886.5 964.0,1911.9 964.9,1922.4 965.4,1925.3 966.9,1930.3 967.6,1934.0 970.3,1957.8 971.2,1964.7 972.2,1968.9 973.2,1971.0 974.4,1972.0 976.3,1972.3 1021.9,1972.3" fill="none" stroke="#5ebfea" stroke-width="1.90" stroke-opacity="1.000" stroke-linejoin="round"/>
<rect x="867.70" y="1870.70" width="163.70" height="103.70" fill="none" stroke="#222" stroke-width="1.7"/>
<line x1="876.51" y1="1974.40" x2="876.51" y2="1979.40" stroke="#222" stroke-width="1.40"/>
<line x1="900.74" y1="1974.40" x2="900.74" y2="1979.40" stroke="#222" stroke-width="1.40"/>
<text transform="translate(899.54,1995.10) scale(1.160,1.120)" font-size="15.00" fill="#111" text-anchor="middle">-2</text>
<line x1="924.97" y1="1974.40" x2="924.97" y2="1979.40" stroke="#222" stroke-width="1.40"/>
<line x1="949.20" y1="1974.40" x2="949.20" y2="1979.40" stroke="#222" stroke-width="1.40"/>
<text transform="translate(949.20,1995.10) scale(1.160,1.120)" font-size="15.00" fill="#111" text-anchor="middle">0</text>
<line x1="973.43" y1="1974.40" x2="973.43" y2="1979.40" stroke="#222" stroke-width="1.40"/>
<line x1="997.66" y1="1974.40" x2="997.66" y2="1979.40" stroke="#222" stroke-width="1.40"/>
<text transform="translate(997.66,1995.10) scale(1.160,1.120)" font-size="15.00" fill="#111" text-anchor="middle">2</text>
<line x1="1021.89" y1="1974.40" x2="1021.89" y2="1979.40" stroke="#222" stroke-width="1.40"/>
<line x1="863.20" y1="1972.30" x2="867.70" y2="1972.30" stroke="#222" stroke-width="1.40"/>
<text transform="translate(859.70,1982.10) scale(0.920,1.280)" font-size="14.60" fill="#111" text-anchor="end">0</text>
<line x1="863.20" y1="1937.20" x2="867.70" y2="1937.20" stroke="#222" stroke-width="1.40"/>
<text transform="translate(859.70,1947.00) scale(0.920,1.280)" font-size="14.60" fill="#111" text-anchor="end">1</text>
<line x1="863.20" y1="1902.10" x2="867.70" y2="1902.10" stroke="#222" stroke-width="1.40"/>
<text transform="translate(859.70,1911.90) scale(0.920,1.280)" font-size="14.60" fill="#111" text-anchor="end">2</text>
<line x1="863.20" y1="1954.75" x2="867.70" y2="1954.75" stroke="#222" stroke-width="1.40"/>
<line x1="863.20" y1="1919.65" x2="867.70" y2="1919.65" stroke="#222" stroke-width="1.40"/>
<line x1="863.20" y1="1884.55" x2="867.70" y2="1884.55" stroke="#222" stroke-width="1.40"/>
<text transform="translate(1040.50,1892.20) scale(1.160,1.050)" font-size="15.80" fill="#5ebfea" text-anchor="start">1</text>
<text transform="translate(1040.50,1907.20) scale(1.160,1.050)" font-size="15.80" fill="#2e8b2e" text-anchor="start">0</text>
<text transform="translate(0.00,2080.00) " font-size="20.50" fill="#111" text-anchor="start">Pt. 17</text>
<line x1="159.00" y1="2028.00" x2="159.00" y2="2053.50" stroke="#2e8b2e" stroke-width="3.10"/>
<line x1="159.00" y1="2053.50" x2="159.00" y2="2084.00" stroke="#5ebfea" stroke-width="3.20"/>
<line x1="159.00" y1="2084.00" x2="159.00" y2="2120.00" stroke="#000000" stroke-width="3.20"/>
<circle cx="159.00" cy="2024.00" r="4.4" fill="#fff" stroke="#2e8b2e" stroke-width="1.7"/>
<circle cx="159.00" cy="2053.50" r="5.1" fill="#2e8b2e"/>
<circle cx="159.00" cy="2084.00" r="5.1" fill="#5ebfea"/>
<circle cx="159.00" cy="2120.00" r="5.1" fill="#000000"/>
<text transform="translate(166.50,2045.00) " font-size="17.20" fill="#2e8b2e" text-anchor="start"><tspan font-style="italic">del</tspan>(13q),<tspan font-style="italic">CHD2</tspan></text>
<text transform="translate(149.00,2059.20) " font-size="17.20" fill="#2e8b2e" text-anchor="end">Cl. 0</text>
<text transform="translate(149.00,2089.70) " font-size="17.20" fill="#5ebfea" text-anchor="end">Cl. 1</text>
<text transform="translate(149.00,2125.70) " font-size="17.20" fill="#000000" text-anchor="end">Cl. 2</text>
<clipPath id="cp13"><rect x="404.0" y="2021.7" width="161.0" height="120.1"/></clipPath>
<g clip-path="url(#cp13)">
<polygon points="403.7,2042.2 480.9,2049.6 564.0,2060.2 564.0,2092.1 480.9,2076.1 403.7,2074.0" fill="#b9a8ec" fill-opacity="0.450"/>
<polyline points="403.7,2057.0 480.9,2063.4 564.0,2076.1" fill="none" stroke="#5ebfea" stroke-width="12.00" stroke-opacity="0.600" stroke-linejoin="round" stroke-linecap="round"/>
<polyline points="403.7,2136.6 564.0,2136.6" fill="none" stroke="#111" stroke-width="12.00" stroke-opacity="0.100" stroke-linejoin="round" stroke-linecap="round"/>
<polyline points="403.7,2136.6 564.0,2136.6" fill="none" stroke="#111" stroke-width="9.33" stroke-opacity="0.100" stroke-linejoin="round" stroke-linecap="round"/>
<polyline points="403.7,2136.6 564.0,2136.6" fill="none" stroke="#111" stroke-width="6.67" stroke-opacity="0.100" stroke-linejoin="round" stroke-linecap="round"/>
<polyline points="403.7,2136.6 564.0,2136.6" fill="none" stroke="#111" stroke-width="4.00" stroke-opacity="0.920" stroke-linejoin="round" stroke-linecap="round"/>
<line x1="480.86" y1="2044.31" x2="480.86" y2="2086.75" stroke="#5ebfea" stroke-width="1.40" stroke-opacity="0.4" stroke-linecap="round"/>
</g>
<line x1="404.00" y1="2033.70" x2="565.00" y2="2033.70" stroke="#3a9a3a" stroke-width="1.60"/>
<line x1="400.50" y1="2032.90" x2="400.50" y2="2140.60" stroke="#222" stroke-width="1.60"/>
<line x1="396.00" y1="2033.70" x2="400.50" y2="2033.70" stroke="#222" stroke-width="1.40"/>
<text transform="translate(394.00,2042.00) scale(1.070,1.000)" font-size="15.60" fill="#111" text-anchor="end">1.0</text>
<line x1="396.00" y1="2060.22" x2="400.50" y2="2060.22" stroke="#222" stroke-width="1.40"/>
<line x1="396.00" y1="2086.75" x2="400.50" y2="2086.75" stroke="#222" stroke-width="1.40"/>
<text transform="translate(394.00,2095.05) scale(1.070,1.000)" font-size="15.60" fill="#111" text-anchor="end">0.5</text>
<line x1="396.00" y1="2113.28" x2="400.50" y2="2113.28" stroke="#222" stroke-width="1.40"/>
<line x1="396.00" y1="2139.80" x2="400.50" y2="2139.80" stroke="#222" stroke-width="1.40"/>
<text transform="translate(394.00,2148.10) scale(1.070,1.000)" font-size="15.60" fill="#111" text-anchor="end">0</text>
<line x1="403.20" y1="2143.50" x2="569.60" y2="2143.50" stroke="#222" stroke-width="1.60"/>
<line x1="435.50" y1="2143.50" x2="435.50" y2="2148.00" stroke="#222" stroke-width="1.40"/>
<text transform="translate(435.50,2165.90) scale(1.070,1.000)" font-size="15.60" fill="#111" text-anchor="middle">12</text>
<line x1="473.30" y1="2143.50" x2="473.30" y2="2148.00" stroke="#222" stroke-width="1.40"/>
<text transform="translate(473.30,2165.90) scale(1.070,1.000)" font-size="15.60" fill="#111" text-anchor="middle">12.5</text>
<line x1="511.10" y1="2143.50" x2="511.10" y2="2148.00" stroke="#222" stroke-width="1.40"/>
<text transform="translate(511.10,2165.90) scale(1.070,1.000)" font-size="15.60" fill="#111" text-anchor="middle">13</text>
<line x1="548.90" y1="2143.50" x2="548.90" y2="2148.00" stroke="#222" stroke-width="1.40"/>
<text transform="translate(548.90,2165.90) scale(1.070,1.000)" font-size="15.60" fill="#111" text-anchor="middle">13.5</text>
<text transform="translate(489.50,2183.80) scale(1.070,1.150)" font-size="17.00" fill="#111" text-anchor="middle">Years</text>
<text transform="translate(364.00,2086.75) rotate(-90) scale(1.070,1.150)" font-size="16.60" fill="#111" text-anchor="middle">CCF</text>
<line x1="744.70" y1="2038.70" x2="744.70" y2="2141.70" stroke="#111" stroke-width="1.3" stroke-dasharray="1.6,1.6"/>
<polyline points="672.3,2138.4 737.2,2138.4 738.9,2138.3 739.9,2137.7 740.6,2136.4 741.3,2133.1 742.3,2123.1 743.3,2104.0 744.9,2060.2 745.4,2052.5 745.9,2049.7 746.4,2052.5 746.9,2060.2 748.6,2104.0 749.5,2123.1 750.5,2133.1 751.2,2136.4 751.9,2137.7 752.9,2138.3 754.6,2138.4 817.1,2138.4" fill="none" stroke="#5ebfea" stroke-width="1.90" stroke-opacity="1.000" stroke-linejoin="round"/>
<polyline points="672.3,2138.4 723.0,2138.4 725.6,2138.1 726.6,2137.7 727.3,2137.1 728.3,2135.8 729.3,2133.5 730.2,2129.7 731.0,2125.7 732.4,2114.2 735.5,2082.6 736.5,2076.3 737.0,2074.6 737.5,2074.1 737.9,2074.6 738.4,2076.3 739.4,2082.6 742.5,2114.2 744.0,2125.7 744.7,2129.7 745.7,2133.5 746.6,2135.8 747.8,2137.3 749.5,2138.2 752.4,2138.4 817.1,2138.4" fill="none" stroke="#0f2a22" stroke-width="1.90" stroke-opacity="1.000" stroke-linejoin="round"/>
<rect x="662.40" y="2037.70" width="164.60" height="105.00" fill="none" stroke="#222" stroke-width="1.7"/>
<line x1="672.34" y1="2142.70" x2="672.34" y2="2147.70" stroke="#222" stroke-width="1.40"/>
<line x1="696.46" y1="2142.70" x2="696.46" y2="2147.70" stroke="#222" stroke-width="1.40"/>
<text transform="translate(695.26,2163.40) scale(1.160,1.120)" font-size="15.00" fill="#111" text-anchor="middle">-2</text>
<line x1="720.58" y1="2142.70" x2="720.58" y2="2147.70" stroke="#222" stroke-width="1.40"/>
<line x1="744.70" y1="2142.70" x2="744.70" y2="2147.70" stroke="#222" stroke-width="1.40"/>
<text transform="translate(744.70,2163.40) scale(1.160,1.120)" font-size="15.00" fill="#111" text-anchor="middle">0</text>
<line x1="768.82" y1="2142.70" x2="768.82" y2="2147.70" stroke="#222" stroke-width="1.40"/>
<line x1="792.94" y1="2142.70" x2="792.94" y2="2147.70" stroke="#222" stroke-width="1.40"/>
<text transform="translate(792.94,2163.40) scale(1.160,1.120)" font-size="15.00" fill="#111" text-anchor="middle">2</text>
<line x1="817.06" y1="2142.70" x2="817.06" y2="2147.70" stroke="#222" stroke-width="1.40"/>
<line x1="657.90" y1="2138.40" x2="662.40" y2="2138.40" stroke="#222" stroke-width="1.40"/>
<text transform="translate(654.40,2148.20) scale(0.920,1.280)" font-size="14.60" fill="#111" text-anchor="end">0</text>
<line x1="657.90" y1="2109.80" x2="662.40" y2="2109.80" stroke="#222" stroke-width="1.40"/>
<text transform="translate(654.40,2119.60) scale(0.920,1.280)" font-size="14.60" fill="#111" text-anchor="end">1</text>
<line x1="657.90" y1="2081.20" x2="662.40" y2="2081.20" stroke="#222" stroke-width="1.40"/>
<text transform="translate(654.40,2091.00) scale(0.920,1.280)" font-size="14.60" fill="#111" text-anchor="end">2</text>
<line x1="657.90" y1="2052.60" x2="662.40" y2="2052.60" stroke="#222" stroke-width="1.40"/>
<text transform="translate(654.40,2062.40) scale(0.920,1.280)" font-size="14.60" fill="#111" text-anchor="end">3</text>
<text transform="translate(736.30,2069.40) scale(1.160,1.000)" font-size="15.20" fill="#000000" text-anchor="middle">2</text>
<text transform="translate(750.90,2055.70) scale(1.160,1.000)" font-size="15.20" fill="#5ebfea" text-anchor="middle">1</text>
<text transform="translate(633.00,2090.20) rotate(-90) scale(1.137,1.070)" font-size="16.20" fill="#111" text-anchor="middle">Probability</text>
<line x1="949.20" y1="2033.10" x2="949.20" y2="2141.70" stroke="#2e9a2e" stroke-width="1.3" stroke-dasharray="1.6,1.6"/>
<polyline points="876.5,2139.3 939.3,2139.3 940.7,2139.1 941.4,2138.7 942.2,2137.0 942.7,2134.6 943.6,2123.3 944.4,2107.0 945.8,2063.2 946.3,2053.3 946.8,2049.7 947.3,2053.3 947.7,2063.2 949.2,2107.0 949.9,2123.3 950.9,2134.6 951.4,2137.0 952.1,2138.7 952.8,2139.1 954.5,2139.3 1021.9,2139.3" fill="none" stroke="#5ebfea" stroke-width="1.90" stroke-opacity="1.000" stroke-linejoin="round"/>
<polyline points="876.5,2139.3 923.8,2139.3 926.9,2138.9 927.9,2138.6 928.8,2138.0 930.1,2136.6 931.0,2134.8 932.0,2132.1 933.0,2128.3 934.7,2118.9 938.5,2092.1 939.8,2087.1 940.2,2086.2 940.7,2085.8 941.2,2086.2 941.7,2087.1 942.9,2092.1 946.8,2118.9 948.7,2129.3 949.7,2132.8 950.7,2135.3 951.9,2137.3 953.1,2138.3 955.0,2139.1 958.4,2139.3 1021.9,2139.3" fill="none" stroke="#0f2a22" stroke-width="1.90" stroke-opacity="1.000" stroke-linejoin="round"/>
<rect x="867.70" y="2032.10" width="163.70" height="110.60" fill="none" stroke="#222" stroke-width="1.7"/>
<line x1="876.51" y1="2142.70" x2="876.51" y2="2147.70" stroke="#222" stroke-width="1.40"/>
<line x1="900.74" y1="2142.70" x2="900.74" y2="2147.70" stroke="#222" stroke-width="1.40"/>
<text transform="translate(899.54,2163.40) scale(1.160,1.120)" font-size="15.00" fill="#111" text-anchor="middle">-2</text>
<line x1="924.97" y1="2142.70" x2="924.97" y2="2147.70" stroke="#222" stroke-width="1.40"/>
<line x1="949.20" y1="2142.70" x2="949.20" y2="2147.70" stroke="#222" stroke-width="1.40"/>
<text transform="translate(949.20,2163.40) scale(1.160,1.120)" font-size="15.00" fill="#111" text-anchor="middle">0</text>
<line x1="973.43" y1="2142.70" x2="973.43" y2="2147.70" stroke="#222" stroke-width="1.40"/>
<line x1="997.66" y1="2142.70" x2="997.66" y2="2147.70" stroke="#222" stroke-width="1.40"/>
<text transform="translate(997.66,2163.40) scale(1.160,1.120)" font-size="15.00" fill="#111" text-anchor="middle">2</text>
<line x1="1021.89" y1="2142.70" x2="1021.89" y2="2147.70" stroke="#222" stroke-width="1.40"/>
<line x1="863.20" y1="2139.30" x2="867.70" y2="2139.30" stroke="#222" stroke-width="1.40"/>
<text transform="translate(859.70,2149.10) scale(0.920,1.280)" font-size="14.60" fill="#111" text-anchor="end">0</text>
<line x1="863.20" y1="2110.40" x2="867.70" y2="2110.40" stroke="#222" stroke-width="1.40"/>
<text transform="translate(859.70,2120.20) scale(0.920,1.280)" font-size="14.60" fill="#111" text-anchor="end">1</text>
<line x1="863.20" y1="2081.50" x2="867.70" y2="2081.50" stroke="#222" stroke-width="1.40"/>
<text transform="translate(859.70,2091.30) scale(0.920,1.280)" font-size="14.60" fill="#111" text-anchor="end">2</text>
<line x1="863.20" y1="2052.60" x2="867.70" y2="2052.60" stroke="#222" stroke-width="1.40"/>
<text transform="translate(859.70,2062.40) scale(0.920,1.280)" font-size="14.60" fill="#111" text-anchor="end">3</text>
<text transform="translate(1040.50,2050.60) scale(1.160,1.050)" font-size="15.80" fill="#000000" text-anchor="start">2</text>
<text transform="translate(1040.50,2065.40) scale(1.160,1.050)" font-size="15.80" fill="#5ebfea" text-anchor="start">1</text>
<text transform="translate(1040.50,2080.20) scale(1.160,1.050)" font-size="15.80" fill="#2e8b2e" text-anchor="start">0</text>
<text transform="translate(0.00,2231.50) " font-size="20.50" fill="#111" text-anchor="start">Pt. 20</text>
<rect x="102.5" y="2270.0" width="78.5" height="46.0" fill="#fcf7bd" stroke="#bdbdbd" stroke-width="2"/>
<line x1="159.00" y1="2201.50" x2="159.00" y2="2227.50" stroke="#2e8b2e" stroke-width="3.10"/>
<line x1="159.00" y1="2227.50" x2="159.00" y2="2257.50" stroke="#5ebfea" stroke-width="3.20"/>
<line x1="159.00" y1="2257.50" x2="159.00" y2="2292.50" stroke="#000000" stroke-width="3.20"/>
<circle cx="159.00" cy="2197.50" r="4.4" fill="#fff" stroke="#2e8b2e" stroke-width="1.7"/>
<circle cx="159.00" cy="2227.50" r="5.1" fill="#2e8b2e"/>
<circle cx="159.00" cy="2257.50" r="5.1" fill="#5ebfea"/>
<circle cx="159.00" cy="2292.50" r="5.1" fill="#000000"/>
<text transform="translate(166.50,2220.00) " font-size="17.20" fill="#2e8b2e" text-anchor="start"><tspan font-style="italic">SAMHD1</tspan>,<tspan font-style="italic">del</tspan>(13q)</text>
<text transform="translate(149.00,2233.20) " font-size="17.20" fill="#2e8b2e" text-anchor="end">Cl. 0</text>
<text transform="translate(149.00,2263.20) " font-size="17.20" fill="#5ebfea" text-anchor="end">Cl. 1</text>
<text transform="translate(149.00,2298.20) " font-size="17.20" fill="#000000" text-anchor="end">Cl. 2</text>
<clipPath id="cp14"><rect x="406.0" y="2190.7" width="161.0" height="119.8"/></clipPath>
<g clip-path="url(#cp14)">
<polygon points="404.8,2226.0 568.8,2226.0 568.8,2308.5 404.8,2308.5" fill="#888" fill-opacity="0.035"/>
<polygon points="404.8,2242.9 568.8,2242.9 568.8,2268.3 404.8,2268.3" fill="#b9a8ec" fill-opacity="0.450"/>
<polyline points="404.8,2255.6 568.8,2255.6" fill="none" stroke="#5ebfea" stroke-width="8.00" stroke-opacity="0.500" stroke-linejoin="round" stroke-linecap="round"/>
<polyline points="404.8,2297.9 568.8,2304.3" fill="none" stroke="#111" stroke-width="14.00" stroke-opacity="0.100" stroke-linejoin="round" stroke-linecap="round"/>
<polyline points="404.8,2297.9 568.8,2304.3" fill="none" stroke="#111" stroke-width="11.33" stroke-opacity="0.100" stroke-linejoin="round" stroke-linecap="round"/>
<polyline points="404.8,2297.9 568.8,2304.3" fill="none" stroke="#111" stroke-width="8.67" stroke-opacity="0.100" stroke-linejoin="round" stroke-linecap="round"/>
<polyline points="404.8,2297.9 568.8,2304.3" fill="none" stroke="#111" stroke-width="6.00" stroke-opacity="0.920" stroke-linejoin="round" stroke-linecap="round"/>
</g>
<line x1="406.00" y1="2202.70" x2="567.00" y2="2202.70" stroke="#3a9a3a" stroke-width="1.60"/>
<line x1="400.50" y1="2201.90" x2="400.50" y2="2309.30" stroke="#222" stroke-width="1.60"/>
<line x1="396.00" y1="2202.70" x2="400.50" y2="2202.70" stroke="#222" stroke-width="1.40"/>
<text transform="translate(394.00,2211.00) scale(1.070,1.000)" font-size="15.60" fill="#111" text-anchor="end">1.0</text>
<line x1="396.00" y1="2229.15" x2="400.50" y2="2229.15" stroke="#222" stroke-width="1.40"/>
<line x1="396.00" y1="2255.60" x2="400.50" y2="2255.60" stroke="#222" stroke-width="1.40"/>
<text transform="translate(394.00,2263.90) scale(1.070,1.000)" font-size="15.60" fill="#111" text-anchor="end">0.5</text>
<line x1="396.00" y1="2282.05" x2="400.50" y2="2282.05" stroke="#222" stroke-width="1.40"/>
<line x1="396.00" y1="2308.50" x2="400.50" y2="2308.50" stroke="#222" stroke-width="1.40"/>
<text transform="translate(394.00,2316.80) scale(1.070,1.000)" font-size="15.60" fill="#111" text-anchor="end">0</text>
<line x1="403.20" y1="2312.00" x2="569.60" y2="2312.00" stroke="#222" stroke-width="1.60"/>
<line x1="422.70" y1="2312.00" x2="422.70" y2="2316.50" stroke="#222" stroke-width="1.40"/>
<text transform="translate(422.70,2333.00) scale(1.070,1.000)" font-size="15.60" fill="#111" text-anchor="middle">4</text>
<line x1="455.90" y1="2312.00" x2="455.90" y2="2316.50" stroke="#222" stroke-width="1.40"/>
<text transform="translate(455.90,2333.00) scale(1.070,1.000)" font-size="15.60" fill="#111" text-anchor="middle">4.5</text>
<line x1="489.10" y1="2312.00" x2="489.10" y2="2316.50" stroke="#222" stroke-width="1.40"/>
<text transform="translate(489.10,2333.00) scale(1.070,1.000)" font-size="15.60" fill="#111" text-anchor="middle">5</text>
<line x1="522.30" y1="2312.00" x2="522.30" y2="2316.50" stroke="#222" stroke-width="1.40"/>
<text transform="translate(522.30,2333.00) scale(1.070,1.000)" font-size="15.60" fill="#111" text-anchor="middle">5.5</text>
<line x1="555.50" y1="2312.00" x2="555.50" y2="2316.50" stroke="#222" stroke-width="1.40"/>
<text transform="translate(555.50,2333.00) scale(1.070,1.000)" font-size="15.60" fill="#111" text-anchor="middle">6</text>
<text transform="translate(489.50,2348.80) scale(1.070,1.150)" font-size="17.00" fill="#111" text-anchor="middle">Years</text>
<text transform="translate(364.00,2255.60) rotate(-90) scale(1.070,1.150)" font-size="16.60" fill="#111" text-anchor="middle">CCF</text>
<line x1="744.70" y1="2208.00" x2="744.70" y2="2310.60" stroke="#111" stroke-width="1.3" stroke-dasharray="1.6,1.6"/>
<polyline points="672.3,2307.3 734.1,2307.3 736.3,2307.1 737.7,2306.8 738.9,2306.2 739.9,2305.3 741.1,2303.4 742.3,2300.3 743.5,2295.3 744.5,2289.8 746.4,2274.1 750.7,2229.3 751.9,2221.6 752.7,2219.3 753.1,2218.9 753.6,2219.3 754.3,2221.6 755.6,2229.3 759.9,2274.1 761.8,2289.8 762.8,2295.3 763.8,2299.4 764.7,2302.3 765.9,2304.7 766.9,2305.8 768.1,2306.6 769.5,2307.0 771.5,2307.2 817.1,2307.3" fill="none" stroke="#5ebfea" stroke-width="1.90" stroke-opacity="1.000" stroke-linejoin="round"/>
<polyline points="672.3,2307.3 714.8,2307.2 716.7,2307.0 717.9,2306.6 718.9,2306.0 719.9,2304.9 721.1,2302.5 722.0,2299.3 723.7,2290.1 725.6,2272.6 729.5,2228.2 730.7,2219.4 731.4,2216.8 731.9,2216.3 732.4,2216.7 732.9,2218.0 734.1,2225.0 738.4,2267.2 739.6,2277.2 740.8,2285.4 742.3,2292.8 743.7,2298.1 745.4,2302.2 747.1,2304.7 748.3,2305.8 749.8,2306.6 751.5,2307.0 753.9,2307.2 817.1,2307.3" fill="none" stroke="#0f2a22" stroke-width="1.90" stroke-opacity="1.000" stroke-linejoin="round"/>
<rect x="662.40" y="2207.00" width="164.60" height="104.60" fill="none" stroke="#222" stroke-width="1.7"/>
<line x1="672.34" y1="2311.60" x2="672.34" y2="2316.60" stroke="#222" stroke-width="1.40"/>
<line x1="696.46" y1="2311.60" x2="696.46" y2="2316.60" stroke="#222" stroke-width="1.40"/>
<text transform="translate(695.26,2332.30) scale(1.160,1.120)" font-size="15.00" fill="#111" text-anchor="middle">-2</text>
<line x1="720.58" y1="2311.60" x2="720.58" y2="2316.60" stroke="#222" stroke-width="1.40"/>
<line x1="744.70" y1="2311.60" x2="744.70" y2="2316.60" stroke="#222" stroke-width="1.40"/>
<text transform="translate(744.70,2332.30) scale(1.160,1.120)" font-size="15.00" fill="#111" text-anchor="middle">0</text>
<line x1="768.82" y1="2311.60" x2="768.82" y2="2316.60" stroke="#222" stroke-width="1.40"/>
<line x1="792.94" y1="2311.60" x2="792.94" y2="2316.60" stroke="#222" stroke-width="1.40"/>
<text transform="translate(792.94,2332.30) scale(1.160,1.120)" font-size="15.00" fill="#111" text-anchor="middle">2</text>
<line x1="817.06" y1="2311.60" x2="817.06" y2="2316.60" stroke="#222" stroke-width="1.40"/>
<line x1="657.90" y1="2307.30" x2="662.40" y2="2307.30" stroke="#222" stroke-width="1.40"/>
<text transform="translate(654.40,2317.10) scale(0.920,1.280)" font-size="14.60" fill="#111" text-anchor="end">0</text>
<line x1="657.90" y1="2281.60" x2="662.40" y2="2281.60" stroke="#222" stroke-width="1.40"/>
<text transform="translate(654.40,2291.40) scale(0.920,1.280)" font-size="14.60" fill="#111" text-anchor="end">0.5</text>
<line x1="657.90" y1="2255.90" x2="662.40" y2="2255.90" stroke="#222" stroke-width="1.40"/>
<text transform="translate(654.40,2265.70) scale(0.920,1.280)" font-size="14.60" fill="#111" text-anchor="end">1.0</text>
<line x1="657.90" y1="2230.20" x2="662.40" y2="2230.20" stroke="#222" stroke-width="1.40"/>
<text transform="translate(654.40,2240.00) scale(0.920,1.280)" font-size="14.60" fill="#111" text-anchor="end">1.5</text>
<text transform="translate(758.60,2222.90) scale(1.160,1.000)" font-size="15.20" fill="#5ebfea" text-anchor="middle">1</text>
<text transform="translate(630.00,2259.30) rotate(-90) scale(1.137,1.070)" font-size="16.20" fill="#111" text-anchor="middle">Probability</text>
<line x1="949.20" y1="2202.40" x2="949.20" y2="2310.60" stroke="#2e9a2e" stroke-width="1.3" stroke-dasharray="1.6,1.6"/>
<polyline points="876.5,2307.7 935.1,2307.7 938.1,2307.3 939.0,2306.9 940.0,2306.1 941.2,2304.1 942.2,2301.3 943.1,2297.1 944.1,2290.9 945.8,2275.1 949.4,2230.9 950.7,2221.7 951.1,2219.9 951.6,2219.3 952.1,2219.9 952.6,2221.7 953.8,2230.9 957.4,2275.1 959.1,2290.9 959.9,2295.7 960.8,2300.4 961.8,2303.5 963.0,2305.8 964.0,2306.7 964.9,2307.2 967.9,2307.7 1021.9,2307.7" fill="none" stroke="#5ebfea" stroke-width="1.90" stroke-opacity="1.000" stroke-linejoin="round"/>
<polyline points="876.5,2307.7 899.0,2307.7 904.4,2307.5 906.6,2307.1 908.5,2306.4 909.9,2305.4 911.4,2304.0 912.6,2302.2 913.8,2299.9 915.0,2296.9 916.2,2293.2 918.7,2283.5 923.3,2260.6 925.0,2253.3 925.9,2250.0 926.9,2247.7 927.9,2246.3 928.6,2246.0 929.3,2246.3 930.3,2247.7 931.3,2250.0 932.2,2253.3 933.9,2260.6 938.8,2284.6 941.4,2294.7 942.9,2298.8 944.4,2301.8 946.1,2304.2 948.0,2305.9 949.4,2306.7 951.1,2307.2 956.2,2307.7 1021.9,2307.7" fill="none" stroke="#0f2a22" stroke-width="1.90" stroke-opacity="1.000" stroke-linejoin="round"/>
<rect x="867.70" y="2201.40" width="163.70" height="110.20" fill="none" stroke="#222" stroke-width="1.7"/>
<line x1="876.51" y1="2311.60" x2="876.51" y2="2316.60" stroke="#222" stroke-width="1.40"/>
<line x1="900.74" y1="2311.60" x2="900.74" y2="2316.60" stroke="#222" stroke-width="1.40"/>
<text transform="translate(899.54,2332.30) scale(1.160,1.120)" font-size="15.00" fill="#111" text-anchor="middle">-2</text>
<line x1="924.97" y1="2311.60" x2="924.97" y2="2316.60" stroke="#222" stroke-width="1.40"/>
<line x1="949.20" y1="2311.60" x2="949.20" y2="2316.60" stroke="#222" stroke-width="1.40"/>
<text transform="translate(949.20,2332.30) scale(1.160,1.120)" font-size="15.00" fill="#111" text-anchor="middle">0</text>
<line x1="973.43" y1="2311.60" x2="973.43" y2="2316.60" stroke="#222" stroke-width="1.40"/>
<line x1="997.66" y1="2311.60" x2="997.66" y2="2316.60" stroke="#222" stroke-width="1.40"/>
<text transform="translate(997.66,2332.30) scale(1.160,1.120)" font-size="15.00" fill="#111" text-anchor="middle">2</text>
<line x1="1021.89" y1="2311.60" x2="1021.89" y2="2316.60" stroke="#222" stroke-width="1.40"/>
<line x1="863.20" y1="2307.70" x2="867.70" y2="2307.70" stroke="#222" stroke-width="1.40"/>
<text transform="translate(859.70,2317.50) scale(0.920,1.280)" font-size="14.60" fill="#111" text-anchor="end">0</text>
<line x1="863.20" y1="2282.00" x2="867.70" y2="2282.00" stroke="#222" stroke-width="1.40"/>
<text transform="translate(859.70,2291.80) scale(0.920,1.280)" font-size="14.60" fill="#111" text-anchor="end">0.5</text>
<line x1="863.20" y1="2256.30" x2="867.70" y2="2256.30" stroke="#222" stroke-width="1.40"/>
<text transform="translate(859.70,2266.10) scale(0.920,1.280)" font-size="14.60" fill="#111" text-anchor="end">1.0</text>
<line x1="863.20" y1="2230.60" x2="867.70" y2="2230.60" stroke="#222" stroke-width="1.40"/>
<text transform="translate(859.70,2240.40) scale(0.920,1.280)" font-size="14.60" fill="#111" text-anchor="end">1.5</text>
<text transform="translate(1040.50,2218.60) scale(1.160,1.050)" font-size="15.80" fill="#000000" text-anchor="start">2</text>
<text transform="translate(1040.50,2234.10) scale(1.160,1.050)" font-size="15.80" fill="#5ebfea" text-anchor="start">1</text>
<text transform="translate(1040.50,2249.60) scale(1.160,1.050)" font-size="15.80" fill="#2e8b2e" text-anchor="start">0</text>
<text transform="translate(0.00,2411.00) " font-size="20.50" fill="#111" text-anchor="start">Pt. 21</text>
<rect x="74.0" y="2426.0" width="252.0" height="81.0" fill="#fcf7bd" stroke="#bdbdbd" stroke-width="2"/>
<line x1="137.50" y1="2356.00" x2="137.50" y2="2382.00" stroke="#2e8b2e" stroke-width="3.10"/>
<line x1="137.50" y1="2382.00" x2="137.50" y2="2418.50" stroke="#5ebfea" stroke-width="3.20"/>
<line x1="137.50" y1="2418.50" x2="137.50" y2="2457.00" stroke="#000000" stroke-width="3.20"/>
<line x1="137.50" y1="2457.00" x2="137.50" y2="2495.00" stroke="#f18a22" stroke-width="3.20"/>
<circle cx="137.50" cy="2352.00" r="4.4" fill="#fff" stroke="#2e8b2e" stroke-width="1.7"/>
<circle cx="137.50" cy="2382.00" r="5.1" fill="#2e8b2e"/>
<circle cx="137.50" cy="2418.50" r="5.1" fill="#5ebfea"/>
<circle cx="137.50" cy="2457.00" r="5.1" fill="#000000"/>
<circle cx="137.50" cy="2495.00" r="5.1" fill="#f18a22"/>
<text transform="translate(146.00,2374.50) " font-size="17.20" fill="#2e8b2e" text-anchor="start"><tspan font-style="italic">RPS15, del</tspan>(13q)</text>
<text transform="translate(128.50,2387.70) " font-size="17.20" fill="#2e8b2e" text-anchor="end">Cl. 0</text>
<text transform="translate(128.50,2424.20) " font-size="17.20" fill="#5ebfea" text-anchor="end">Cl. 1</text>
<text transform="translate(145.00,2445.00) " font-size="17.20" fill="#000000" text-anchor="start"><tspan font-style="italic">TP53, 17p13 CN-LOH</tspan></text>
<text transform="translate(128.50,2462.70) " font-size="17.20" fill="#000000" text-anchor="end">Cl. 2</text>
<text transform="translate(146.00,2482.00) " font-size="17.20" fill="#f18a22" text-anchor="start"><tspan font-style="italic">SYNE1</tspan></text>
<text transform="translate(128.50,2500.70) " font-size="17.20" fill="#f18a22" text-anchor="end">Cl. 3</text>
<clipPath id="cp15"><rect x="406.0" y="2360.7" width="161.0" height="119.8"/></clipPath>
<g clip-path="url(#cp15)">
<polygon points="405.3,2415.0 568.9,2393.9 568.9,2457.3 405.3,2462.6" fill="#888" fill-opacity="0.030"/>
<polygon points="405.3,2425.6 496.2,2417.1 568.9,2410.8 568.9,2442.5 496.2,2446.8 405.3,2452.1" fill="#b9a8ec" fill-opacity="0.450"/>
<polyline points="405.3,2439.4 568.9,2427.7" fill="none" stroke="#5ebfea" stroke-width="10.00" stroke-opacity="0.600" stroke-linejoin="round" stroke-linecap="round"/>
<polyline points="405.3,2474.3 568.9,2471.1" fill="none" stroke="#0e2a18" stroke-width="12.00" stroke-opacity="0.100" stroke-linejoin="round" stroke-linecap="round"/>
<polyline points="405.3,2474.3 568.9,2471.1" fill="none" stroke="#0e2a18" stroke-width="9.00" stroke-opacity="0.100" stroke-linejoin="round" stroke-linecap="round"/>
<polyline points="405.3,2474.3 568.9,2471.1" fill="none" stroke="#0e2a18" stroke-width="6.00" stroke-opacity="0.950" stroke-linejoin="round" stroke-linecap="round"/>
</g>
<line x1="406.00" y1="2372.70" x2="567.00" y2="2372.70" stroke="#3a9a3a" stroke-width="1.60"/>
<line x1="400.50" y1="2371.90" x2="400.50" y2="2479.30" stroke="#222" stroke-width="1.60"/>
<line x1="396.00" y1="2372.70" x2="400.50" y2="2372.70" stroke="#222" stroke-width="1.40"/>
<text transform="translate(394.00,2381.00) scale(1.070,1.000)" font-size="15.60" fill="#111" text-anchor="end">1.0</text>
<line x1="396.00" y1="2399.15" x2="400.50" y2="2399.15" stroke="#222" stroke-width="1.40"/>
<line x1="396.00" y1="2425.60" x2="400.50" y2="2425.60" stroke="#222" stroke-width="1.40"/>
<text transform="translate(394.00,2433.90) scale(1.070,1.000)" font-size="15.60" fill="#111" text-anchor="end">0.5</text>
<line x1="396.00" y1="2452.05" x2="400.50" y2="2452.05" stroke="#222" stroke-width="1.40"/>
<line x1="396.00" y1="2478.50" x2="400.50" y2="2478.50" stroke="#222" stroke-width="1.40"/>
<text transform="translate(394.00,2486.80) scale(1.070,1.000)" font-size="15.60" fill="#111" text-anchor="end">0</text>
<line x1="403.20" y1="2482.80" x2="569.60" y2="2482.80" stroke="#222" stroke-width="1.60"/>
<line x1="405.30" y1="2482.80" x2="405.30" y2="2487.30" stroke="#222" stroke-width="1.40"/>
<text transform="translate(405.30,2502.20) scale(1.070,1.000)" font-size="15.60" fill="#111" text-anchor="middle">1.4</text>
<line x1="441.65" y1="2482.80" x2="441.65" y2="2487.30" stroke="#222" stroke-width="1.40"/>
<text transform="translate(441.65,2502.20) scale(1.070,1.000)" font-size="15.60" fill="#111" text-anchor="middle">1.6</text>
<line x1="478.00" y1="2482.80" x2="478.00" y2="2487.30" stroke="#222" stroke-width="1.40"/>
<text transform="translate(478.00,2502.20) scale(1.070,1.000)" font-size="15.60" fill="#111" text-anchor="middle">1.8</text>
<line x1="514.35" y1="2482.80" x2="514.35" y2="2487.30" stroke="#222" stroke-width="1.40"/>
<text transform="translate(514.35,2502.20) scale(1.070,1.000)" font-size="15.60" fill="#111" text-anchor="middle">2.0</text>
<line x1="550.70" y1="2482.80" x2="550.70" y2="2487.30" stroke="#222" stroke-width="1.40"/>
<text transform="translate(550.70,2502.20) scale(1.070,1.000)" font-size="15.60" fill="#111" text-anchor="middle">2.2</text>
<text transform="translate(489.50,2518.80) scale(1.070,1.150)" font-size="17.00" fill="#111" text-anchor="middle">Years</text>
<text transform="translate(364.00,2425.60) rotate(-90) scale(1.070,1.150)" font-size="16.60" fill="#111" text-anchor="middle">CCF</text>
<line x1="744.70" y1="2377.00" x2="744.70" y2="2480.00" stroke="#111" stroke-width="1.3" stroke-dasharray="1.6,1.6"/>
<polyline points="672.3,2476.7 747.6,2476.7 753.4,2476.3 755.6,2475.9 757.2,2475.3 759.4,2474.0 761.3,2472.2 763.0,2469.9 764.7,2466.8 766.4,2462.9 768.1,2458.1 773.4,2440.6 775.3,2435.1 776.5,2432.4 777.5,2430.7 778.7,2429.5 779.7,2429.2 780.6,2429.5 781.6,2430.4 782.6,2431.9 783.8,2434.5 785.7,2439.9 790.3,2455.1 792.5,2461.6 794.9,2467.3 796.1,2469.5 797.5,2471.6 799.0,2473.2 800.4,2474.4 802.1,2475.3 804.0,2476.0 808.6,2476.6 817.1,2476.7" fill="none" stroke="#5ebfea" stroke-width="1.90" stroke-opacity="1.000" stroke-linejoin="round"/>
<rect x="662.40" y="2376.00" width="164.60" height="105.00" fill="none" stroke="#222" stroke-width="1.7"/>
<line x1="672.34" y1="2481.00" x2="672.34" y2="2486.00" stroke="#222" stroke-width="1.40"/>
<line x1="696.46" y1="2481.00" x2="696.46" y2="2486.00" stroke="#222" stroke-width="1.40"/>
<text transform="translate(695.26,2501.70) scale(1.160,1.120)" font-size="15.00" fill="#111" text-anchor="middle">-2</text>
<line x1="720.58" y1="2481.00" x2="720.58" y2="2486.00" stroke="#222" stroke-width="1.40"/>
<line x1="744.70" y1="2481.00" x2="744.70" y2="2486.00" stroke="#222" stroke-width="1.40"/>
<text transform="translate(744.70,2501.70) scale(1.160,1.120)" font-size="15.00" fill="#111" text-anchor="middle">0</text>
<line x1="768.82" y1="2481.00" x2="768.82" y2="2486.00" stroke="#222" stroke-width="1.40"/>
<line x1="792.94" y1="2481.00" x2="792.94" y2="2486.00" stroke="#222" stroke-width="1.40"/>
<text transform="translate(792.94,2501.70) scale(1.160,1.120)" font-size="15.00" fill="#111" text-anchor="middle">2</text>
<line x1="817.06" y1="2481.00" x2="817.06" y2="2486.00" stroke="#222" stroke-width="1.40"/>
<line x1="657.90" y1="2476.70" x2="662.40" y2="2476.70" stroke="#222" stroke-width="1.40"/>
<text transform="translate(654.40,2486.50) scale(0.920,1.280)" font-size="14.60" fill="#111" text-anchor="end">0</text>
<line x1="657.90" y1="2454.50" x2="662.40" y2="2454.50" stroke="#222" stroke-width="1.40"/>
<text transform="translate(654.40,2464.30) scale(0.920,1.280)" font-size="14.60" fill="#111" text-anchor="end">0.5</text>
<line x1="657.90" y1="2432.30" x2="662.40" y2="2432.30" stroke="#222" stroke-width="1.40"/>
<text transform="translate(654.40,2442.10) scale(0.920,1.280)" font-size="14.60" fill="#111" text-anchor="end">1.0</text>
<line x1="657.90" y1="2410.10" x2="662.40" y2="2410.10" stroke="#222" stroke-width="1.40"/>
<text transform="translate(654.40,2419.90) scale(0.920,1.280)" font-size="14.60" fill="#111" text-anchor="end">1.5</text>
<line x1="657.90" y1="2387.90" x2="662.40" y2="2387.90" stroke="#222" stroke-width="1.40"/>
<text transform="translate(654.40,2397.70) scale(0.920,1.280)" font-size="14.60" fill="#111" text-anchor="end">2.0</text>
<text transform="translate(780.00,2427.40) scale(1.160,1.000)" font-size="15.20" fill="#5ebfea" text-anchor="middle">1</text>
<text transform="translate(627.00,2428.50) rotate(-90) scale(1.137,1.070)" font-size="16.20" fill="#111" text-anchor="middle">Probability</text>
<line x1="949.20" y1="2371.40" x2="949.20" y2="2480.00" stroke="#2e9a2e" stroke-width="1.3" stroke-dasharray="1.6,1.6"/>
<polyline points="876.5,2476.7 929.8,2476.6 932.7,2476.3 934.9,2475.7 936.8,2474.7 938.5,2473.2 940.2,2470.8 941.9,2467.3 943.4,2463.1 944.8,2457.7 946.3,2450.9 948.0,2441.5 952.8,2409.8 954.8,2398.6 956.0,2393.3 957.0,2390.1 957.9,2388.2 958.4,2387.7 958.9,2387.6 959.4,2387.7 959.9,2388.2 960.8,2390.1 961.8,2393.3 963.0,2398.6 964.9,2409.8 969.8,2441.5 972.7,2456.6 973.9,2461.4 975.4,2466.0 976.8,2469.5 978.3,2472.0 980.0,2473.9 981.7,2475.2 983.6,2475.9 986.3,2476.4 992.3,2476.7 1021.9,2476.7" fill="none" stroke="#5ebfea" stroke-width="1.90" stroke-opacity="1.000" stroke-linejoin="round"/>
<rect x="867.70" y="2370.40" width="163.70" height="110.60" fill="none" stroke="#222" stroke-width="1.7"/>
<line x1="876.51" y1="2481.00" x2="876.51" y2="2486.00" stroke="#222" stroke-width="1.40"/>
<line x1="900.74" y1="2481.00" x2="900.74" y2="2486.00" stroke="#222" stroke-width="1.40"/>
<text transform="translate(899.54,2501.70) scale(1.160,1.120)" font-size="15.00" fill="#111" text-anchor="middle">-2</text>
<line x1="924.97" y1="2481.00" x2="924.97" y2="2486.00" stroke="#222" stroke-width="1.40"/>
<line x1="949.20" y1="2481.00" x2="949.20" y2="2486.00" stroke="#222" stroke-width="1.40"/>
<text transform="translate(949.20,2501.70) scale(1.160,1.120)" font-size="15.00" fill="#111" text-anchor="middle">0</text>
<line x1="973.43" y1="2481.00" x2="973.43" y2="2486.00" stroke="#222" stroke-width="1.40"/>
<line x1="997.66" y1="2481.00" x2="997.66" y2="2486.00" stroke="#222" stroke-width="1.40"/>
<text transform="translate(997.66,2501.70) scale(1.160,1.120)" font-size="15.00" fill="#111" text-anchor="middle">2</text>
<line x1="1021.89" y1="2481.00" x2="1021.89" y2="2486.00" stroke="#222" stroke-width="1.40"/>
<line x1="863.20" y1="2476.70" x2="867.70" y2="2476.70" stroke="#222" stroke-width="1.40"/>
<text transform="translate(859.70,2486.50) scale(0.920,1.280)" font-size="14.60" fill="#111" text-anchor="end">0</text>
<line x1="863.20" y1="2455.30" x2="867.70" y2="2455.30" stroke="#222" stroke-width="1.40"/>
<text transform="translate(859.70,2465.10) scale(0.920,1.280)" font-size="14.60" fill="#111" text-anchor="end">0.2</text>
<line x1="863.20" y1="2439.40" x2="867.70" y2="2439.40" stroke="#222" stroke-width="1.40"/>
<text transform="translate(859.70,2449.20) scale(0.920,1.280)" font-size="14.60" fill="#111" text-anchor="end">0.6</text>
<line x1="863.20" y1="2426.20" x2="867.70" y2="2426.20" stroke="#222" stroke-width="1.40"/>
<text transform="translate(859.70,2436.00) scale(0.920,1.280)" font-size="14.60" fill="#111" text-anchor="end">0.6</text>
<line x1="863.20" y1="2411.20" x2="867.70" y2="2411.20" stroke="#222" stroke-width="1.40"/>
<text transform="translate(859.70,2421.00) scale(0.920,1.280)" font-size="14.60" fill="#111" text-anchor="end">0.8</text>
<line x1="863.20" y1="2396.60" x2="867.70" y2="2396.60" stroke="#222" stroke-width="1.40"/>
<text transform="translate(859.70,2406.40) scale(0.920,1.280)" font-size="14.60" fill="#111" text-anchor="end">1.0</text>
<text transform="translate(1040.50,2384.60) scale(1.160,1.050)" font-size="15.80" fill="#5ebfea" text-anchor="start">1</text>
<text transform="translate(1040.50,2399.60) scale(1.160,1.050)" font-size="15.80" fill="#2e8b2e" text-anchor="start">0</text>
</svg></body></html>
